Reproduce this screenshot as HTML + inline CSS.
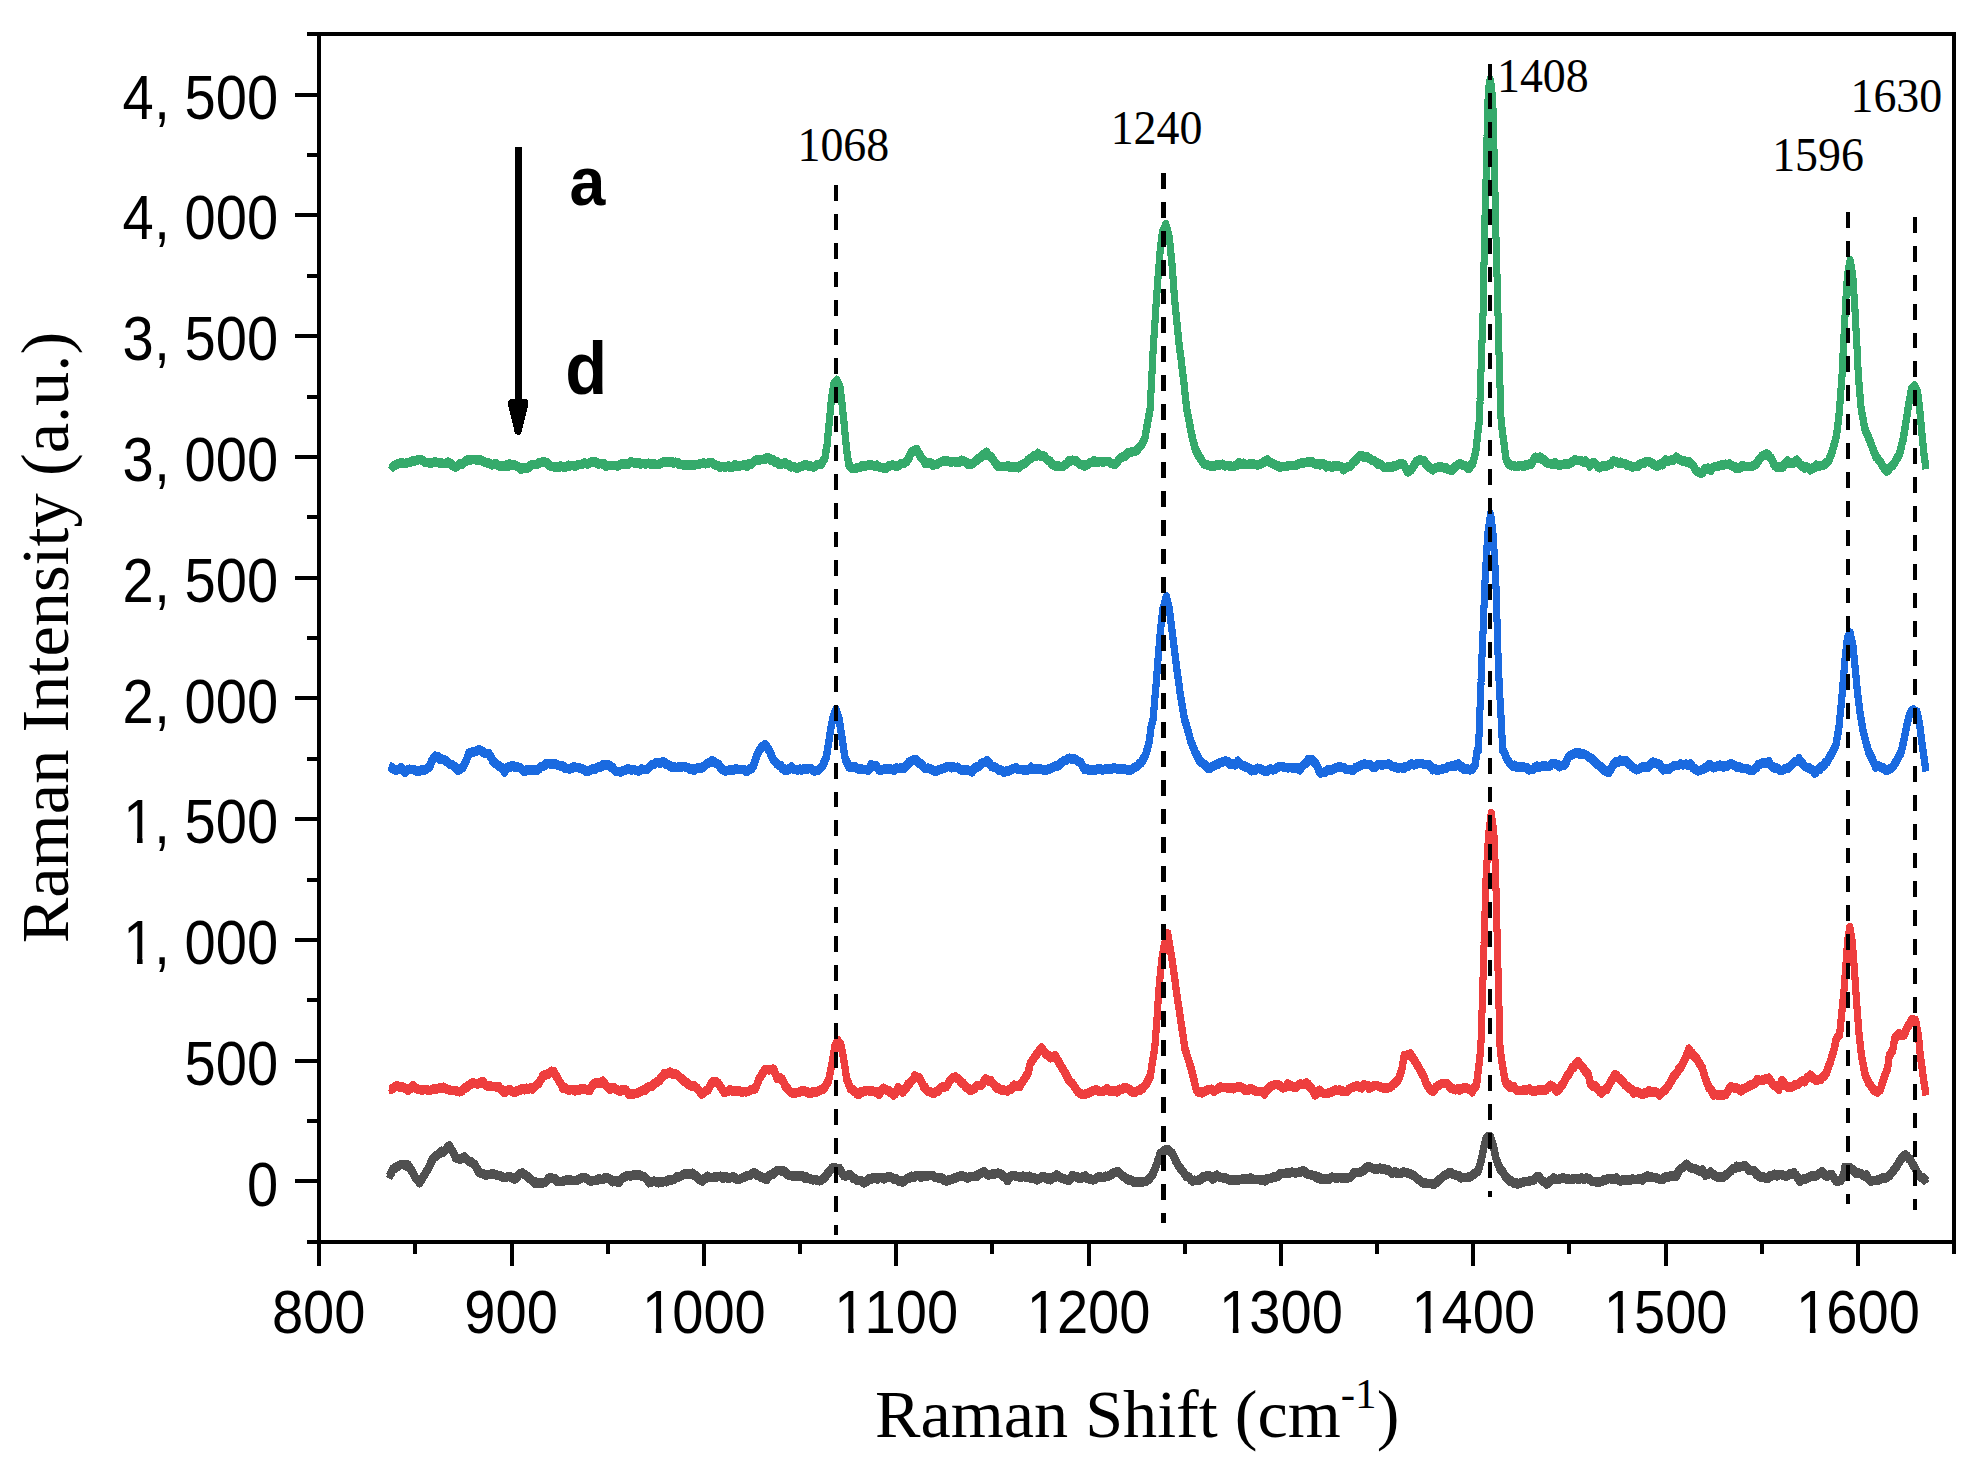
<!DOCTYPE html>
<html lang="en"><head><meta charset="utf-8"><title>Raman spectra</title>
<style>html,body{margin:0;padding:0;background:#fff}body{width:1986px;height:1481px;overflow:hidden}svg{display:block}.sans{font-family:"Liberation Sans",sans-serif}.serif{font-family:"Liberation Serif",serif}</style></head><body>
<svg width="1986" height="1481" viewBox="0 0 1986 1481">
<rect x="0" y="0" width="1986" height="1481" fill="#fff"/>
<path d="M389.1,1175.8 L390.0,1174.0 L391.0,1172.2 L391.9,1170.4 L392.8,1168.1 L394.4,1167.3 L395.9,1166.0 L397.4,1165.2 L398.9,1164.3 L401.1,1163.1 L403.4,1163.1 L405.7,1164.5 L407.9,1163.7 L409.1,1165.5 L410.2,1167.3 L411.3,1169.0 L412.5,1170.8 L413.4,1172.7 L414.4,1174.6 L415.3,1176.5 L416.3,1177.4 L417.9,1178.9 L419.6,1181.4 L420.6,1179.7 L421.7,1178.0 L422.7,1176.3 L423.8,1174.6 L424.9,1172.7 L426.1,1170.8 L427.2,1168.9 L428.3,1167.0 L429.3,1165.0 L430.2,1162.9 L431.2,1160.8 L432.1,1158.6 L433.6,1156.8 L435.1,1154.8 L436.6,1154.9 L438.2,1152.8 L439.9,1152.0 L441.7,1150.0 L443.4,1150.7 L445.5,1148.9 L447.5,1145.9 L449.5,1144.8 L451.0,1147.8 L452.5,1149.7 L453.5,1151.7 L454.5,1153.7 L455.5,1156.4 L457.8,1157.3 L460.1,1157.9 L462.3,1156.8 L464.6,1155.7 L466.1,1157.4 L467.6,1158.5 L469.1,1160.4 L471.1,1160.6 L473.2,1162.2 L475.2,1164.0 L476.1,1165.7 L477.1,1167.4 L478.0,1169.1 L478.9,1171.2 L481.2,1172.2 L483.5,1172.6 L485.7,1173.7 L488.0,1173.3 L490.3,1173.4 L492.5,1172.4 L494.6,1173.0 L496.7,1174.0 L498.8,1174.0 L500.8,1174.9 L503.4,1175.9 L505.9,1176.2 L508.4,1175.1 L510.4,1175.7 L512.4,1176.2 L514.4,1177.9 L516.0,1177.3 L517.5,1175.3 L519.0,1173.2 L520.5,1172.3 L522.5,1171.8 L524.5,1173.1 L526.5,1174.7 L528.0,1175.7 L529.5,1177.1 L531.1,1178.4 L532.8,1179.9 L534.6,1181.7 L536.3,1180.9 L538.4,1182.1 L540.5,1181.9 L542.6,1181.7 L544.7,1181.1 L546.4,1179.7 L548.2,1177.6 L549.9,1176.2 L552.6,1177.1 L555.2,1177.5 L557.0,1180.0 L558.8,1180.2 L560.5,1180.3 L563.2,1179.9 L565.8,1178.8 L568.1,1178.6 L570.3,1178.7 L572.6,1179.1 L574.9,1179.4 L577.1,1178.8 L579.4,1177.9 L581.7,1176.5 L583.9,1176.3 L586.2,1177.0 L588.5,1178.5 L590.7,1179.8 L592.8,1179.4 L594.9,1179.1 L597.0,1178.8 L599.0,1177.4 L601.3,1178.2 L603.6,1177.6 L605.8,1176.0 L608.1,1176.9 L610.4,1177.9 L612.6,1180.4 L614.6,1179.7 L616.7,1179.8 L618.7,1181.2 L620.2,1179.3 L621.7,1177.5 L623.2,1176.4 L624.7,1175.9 L626.7,1174.6 L628.7,1174.3 L630.8,1174.7 L632.8,1174.0 L634.8,1173.6 L636.8,1173.8 L639.1,1173.4 L641.3,1174.6 L643.6,1175.2 L645.4,1176.5 L647.1,1178.1 L648.9,1181.4 L651.4,1180.6 L653.9,1179.9 L656.4,1180.5 L658.4,1181.5 L660.5,1180.4 L662.5,1180.9 L664.5,1180.2 L666.5,1180.5 L668.5,1178.4 L670.5,1179.0 L672.5,1178.5 L674.6,1177.7 L676.8,1175.5 L679.1,1175.5 L681.0,1174.7 L682.8,1173.7 L684.7,1172.7 L686.6,1173.1 L688.6,1172.4 L690.6,1172.6 L692.7,1172.0 L694.4,1174.1 L696.2,1174.5 L697.9,1176.5 L700.2,1178.8 L702.5,1179.6 L704.2,1177.3 L706.0,1177.2 L707.8,1175.0 L710.3,1176.4 L712.8,1176.1 L715.3,1175.6 L717.8,1175.4 L720.4,1175.0 L722.9,1176.9 L725.1,1175.1 L727.4,1176.6 L729.7,1176.8 L731.9,1175.9 L733.8,1175.6 L735.7,1177.4 L737.6,1178.1 L739.5,1178.0 L741.4,1177.0 L743.3,1176.0 L745.2,1175.3 L747.0,1174.3 L749.3,1174.2 L751.6,1172.7 L753.8,1171.3 L755.5,1172.1 L757.2,1174.2 L758.9,1174.4 L760.6,1175.8 L762.6,1176.0 L764.7,1177.5 L766.7,1178.1 L768.2,1175.0 L769.7,1174.1 L771.2,1173.1 L772.7,1173.1 L774.2,1171.4 L776.3,1169.9 L778.4,1169.1 L780.5,1169.5 L782.5,1169.2 L784.2,1170.7 L785.9,1170.9 L787.6,1173.3 L789.3,1174.2 L791.3,1174.1 L793.4,1175.3 L795.4,1174.1 L797.9,1175.3 L800.4,1174.3 L802.9,1174.7 L804.8,1176.7 L806.7,1175.8 L808.6,1177.3 L810.5,1177.5 L812.7,1178.6 L815.0,1178.3 L817.3,1178.9 L819.5,1179.5 L821.1,1179.3 L822.6,1177.4 L824.1,1176.7 L825.6,1175.2 L827.1,1172.4 L828.5,1171.7 L829.8,1169.4 L831.2,1167.8 L832.5,1166.4 L833.9,1166.6 L836.5,1167.0 L839.2,1167.0 L840.3,1168.9 L841.5,1170.8 L842.6,1172.7 L843.7,1174.3 L845.7,1174.6 L847.7,1173.8 L849.8,1173.5 L851.6,1174.8 L853.5,1177.1 L855.4,1177.5 L857.3,1179.2 L859.6,1179.1 L861.8,1179.6 L864.1,1181.5 L866.4,1180.5 L868.6,1177.7 L870.9,1178.0 L873.0,1176.6 L875.1,1176.5 L877.3,1177.9 L879.4,1176.1 L881.5,1176.3 L884.0,1177.5 L886.5,1176.0 L889.0,1175.0 L890.9,1175.8 L892.8,1176.6 L894.7,1178.2 L896.6,1177.6 L898.6,1179.7 L900.6,1179.1 L902.6,1180.8 L904.4,1179.9 L906.3,1177.8 L908.1,1176.9 L909.9,1176.6 L911.7,1175.0 L914.0,1175.9 L916.2,1174.4 L918.5,1174.1 L920.8,1175.9 L923.0,1174.4 L925.3,1174.9 L927.6,1174.6 L929.8,1174.2 L932.3,1174.0 L934.9,1175.9 L937.4,1176.3 L939.3,1177.2 L941.1,1176.5 L943.0,1177.6 L944.9,1179.4 L946.8,1179.7 L948.7,1178.5 L950.6,1178.4 L952.5,1177.9 L954.4,1176.6 L956.3,1176.6 L958.1,1175.5 L960.0,1174.8 L962.5,1174.7 L965.0,1175.2 L967.6,1176.8 L969.8,1175.3 L972.1,1175.3 L974.4,1175.0 L976.6,1175.2 L978.5,1173.2 L980.4,1172.2 L982.3,1171.3 L984.2,1170.4 L986.2,1172.5 L988.2,1173.6 L990.2,1173.4 L992.1,1172.9 L994.0,1172.8 L995.9,1172.3 L997.8,1171.8 L999.8,1172.5 L1001.8,1173.4 L1003.8,1175.3 L1005.7,1176.6 L1007.6,1179.2 L1009.1,1176.7 L1010.6,1175.1 L1012.1,1174.6 L1014.2,1174.1 L1016.3,1175.4 L1018.3,1175.1 L1020.4,1176.1 L1022.7,1174.8 L1025.0,1175.6 L1027.2,1176.3 L1029.5,1175.0 L1031.4,1177.2 L1033.3,1176.1 L1035.2,1177.7 L1037.0,1178.6 L1039.1,1177.7 L1041.1,1176.0 L1043.1,1175.0 L1045.0,1176.3 L1046.9,1177.5 L1048.7,1176.7 L1050.6,1178.4 L1052.6,1175.9 L1054.7,1176.4 L1056.7,1173.7 L1058.6,1174.8 L1060.5,1176.5 L1062.3,1176.9 L1064.2,1177.7 L1066.5,1178.3 L1068.8,1178.9 L1070.6,1177.0 L1072.5,1174.2 L1074.8,1175.4 L1077.1,1175.5 L1079.3,1177.3 L1081.3,1176.7 L1083.4,1175.4 L1085.4,1174.5 L1087.3,1177.0 L1089.2,1177.5 L1091.0,1177.7 L1092.9,1178.5 L1094.9,1178.2 L1097.0,1176.6 L1099.0,1175.6 L1101.2,1176.0 L1103.5,1176.4 L1105.4,1175.0 L1107.3,1175.4 L1109.2,1174.1 L1111.1,1173.5 L1113.1,1171.7 L1115.1,1171.4 L1117.1,1170.1 L1118.9,1171.2 L1120.6,1172.6 L1122.4,1174.9 L1124.1,1175.4 L1125.9,1176.8 L1127.7,1178.6 L1129.7,1178.7 L1131.7,1179.1 L1133.7,1181.0 L1136.2,1180.8 L1138.8,1181.0 L1141.3,1180.5 L1143.5,1180.5 L1145.8,1180.1 L1148.1,1178.6 L1149.6,1177.1 L1151.1,1175.1 L1152.6,1173.1 L1153.4,1171.3 L1154.1,1169.5 L1154.9,1167.6 L1155.6,1165.8 L1156.4,1164.0 L1157.0,1162.1 L1157.6,1160.2 L1158.3,1158.4 L1158.9,1156.5 L1159.5,1154.6 L1160.2,1152.0 L1162.0,1151.3 L1163.9,1149.7 L1166.2,1148.2 L1168.5,1148.5 L1170.3,1150.7 L1172.2,1151.9 L1173.2,1154.0 L1174.1,1156.1 L1175.1,1158.2 L1176.0,1160.2 L1177.1,1162.1 L1178.3,1164.0 L1179.4,1165.9 L1180.5,1167.1 L1182.1,1169.1 L1183.6,1170.8 L1185.1,1173.3 L1186.6,1175.4 L1188.6,1175.4 L1190.6,1178.1 L1192.6,1179.6 L1194.6,1178.9 L1196.7,1179.4 L1198.7,1178.8 L1200.4,1178.5 L1202.2,1175.8 L1204.0,1176.3 L1205.8,1175.2 L1207.7,1174.1 L1210.0,1174.9 L1212.3,1177.7 L1214.5,1176.6 L1216.8,1173.9 L1218.7,1175.6 L1220.6,1176.2 L1222.5,1176.3 L1224.4,1176.8 L1226.2,1176.8 L1228.1,1178.2 L1230.0,1178.8 L1231.9,1178.1 L1234.4,1179.2 L1236.9,1178.7 L1239.5,1178.5 L1241.7,1178.2 L1244.0,1177.2 L1246.3,1178.2 L1248.5,1177.8 L1250.5,1176.6 L1252.5,1178.1 L1254.6,1178.2 L1257.6,1178.1 L1260.1,1178.5 L1262.6,1178.5 L1265.1,1179.6 L1267.0,1177.6 L1268.9,1177.4 L1270.8,1177.3 L1272.7,1175.9 L1274.5,1176.2 L1276.4,1175.2 L1278.3,1174.7 L1280.2,1172.5 L1282.5,1172.3 L1284.7,1172.4 L1287.0,1171.5 L1289.3,1171.7 L1291.8,1170.8 L1294.3,1171.4 L1296.8,1171.4 L1298.8,1170.9 L1300.9,1170.8 L1302.9,1169.4 L1304.6,1170.3 L1306.4,1172.0 L1308.2,1172.9 L1309.9,1173.3 L1311.7,1173.8 L1313.4,1174.5 L1315.3,1174.7 L1317.2,1176.7 L1319.1,1175.9 L1321.0,1177.8 L1323.0,1177.2 L1325.0,1177.9 L1327.0,1177.4 L1329.6,1177.7 L1332.1,1175.8 L1334.6,1176.4 L1337.1,1176.7 L1339.6,1176.3 L1342.1,1176.9 L1344.7,1176.6 L1347.2,1176.9 L1349.7,1175.9 L1351.2,1175.0 L1352.7,1173.2 L1354.2,1171.2 L1356.1,1171.0 L1358.0,1171.4 L1359.9,1170.8 L1361.8,1170.0 L1363.5,1169.1 L1365.3,1167.3 L1367.1,1165.7 L1369.3,1165.6 L1371.6,1166.5 L1373.9,1167.5 L1375.9,1167.9 L1377.9,1167.6 L1379.9,1166.8 L1381.9,1168.1 L1383.9,1167.4 L1386.0,1168.5 L1388.0,1168.6 L1390.0,1170.3 L1392.0,1171.8 L1393.9,1170.8 L1395.8,1170.9 L1397.7,1172.2 L1399.5,1172.4 L1401.6,1171.8 L1403.6,1170.8 L1405.6,1171.3 L1407.9,1171.9 L1410.1,1172.4 L1412.4,1173.8 L1414.1,1174.5 L1415.9,1176.1 L1417.7,1177.7 L1419.2,1178.7 L1420.7,1179.6 L1422.2,1181.4 L1424.2,1181.6 L1426.2,1182.0 L1428.2,1182.4 L1430.9,1182.3 L1433.5,1183.2 L1435.3,1181.7 L1437.1,1180.8 L1438.8,1178.9 L1440.6,1177.5 L1442.3,1175.9 L1444.1,1174.5 L1446.1,1173.3 L1448.1,1172.0 L1450.2,1171.1 L1452.8,1172.7 L1455.4,1173.8 L1457.2,1174.1 L1459.0,1174.2 L1460.7,1176.5 L1463.0,1176.1 L1465.3,1176.4 L1467.5,1175.9 L1469.5,1175.6 L1471.6,1174.8 L1473.6,1172.9 L1475.8,1171.3 L1478.1,1170.1 L1478.7,1167.9 L1479.3,1165.8 L1479.9,1163.7 L1480.5,1161.6 L1481.1,1159.5 L1481.5,1157.6 L1481.9,1155.7 L1482.3,1153.8 L1482.6,1151.9 L1483.0,1150.0 L1483.4,1148.2 L1483.8,1146.3 L1484.1,1144.4 L1484.7,1142.5 L1485.3,1140.6 L1485.8,1138.7 L1486.4,1137.3 L1488.3,1135.4 L1490.2,1135.3 L1490.9,1137.6 L1491.7,1139.8 L1492.4,1142.1 L1493.2,1144.4 L1493.6,1146.3 L1494.1,1148.3 L1494.5,1150.2 L1494.9,1152.1 L1495.4,1154.1 L1495.8,1156.0 L1496.2,1158.0 L1497.0,1159.8 L1497.7,1161.6 L1498.5,1163.4 L1499.2,1165.2 L1500.0,1167.8 L1501.3,1169.2 L1502.6,1170.4 L1504.0,1172.6 L1505.3,1175.1 L1506.8,1176.9 L1508.3,1177.5 L1509.8,1180.1 L1511.7,1179.7 L1513.6,1181.8 L1515.5,1181.2 L1517.4,1182.7 L1519.9,1181.9 L1522.4,1181.2 L1524.9,1180.2 L1527.4,1180.4 L1530.0,1179.4 L1532.5,1179.2 L1534.2,1178.5 L1536.0,1176.1 L1537.8,1175.1 L1539.3,1175.6 L1540.8,1178.0 L1542.3,1179.6 L1543.8,1180.0 L1545.3,1180.9 L1546.8,1182.7 L1548.5,1181.6 L1550.2,1179.5 L1551.9,1178.3 L1553.6,1176.7 L1556.1,1177.8 L1558.6,1178.4 L1561.1,1177.0 L1563.7,1176.6 L1566.2,1177.8 L1568.7,1177.9 L1571.2,1178.2 L1573.7,1177.5 L1576.3,1177.0 L1578.8,1178.1 L1581.3,1176.7 L1583.8,1178.0 L1586.1,1176.7 L1588.3,1177.1 L1589.8,1178.5 L1591.4,1179.5 L1592.9,1180.3 L1595.4,1180.2 L1597.9,1181.2 L1600.4,1180.3 L1602.3,1179.8 L1604.2,1178.4 L1606.1,1178.7 L1608.0,1177.3 L1610.2,1177.4 L1612.5,1177.6 L1614.8,1177.4 L1616.5,1176.4 L1618.3,1178.8 L1620.1,1179.8 L1622.6,1178.5 L1625.1,1178.4 L1627.6,1178.5 L1630.1,1179.0 L1632.6,1177.7 L1635.2,1178.4 L1637.7,1178.2 L1640.2,1177.1 L1642.7,1178.7 L1645.0,1175.7 L1647.3,1174.6 L1649.1,1176.1 L1651.0,1175.2 L1652.9,1176.2 L1654.8,1176.1 L1657.3,1177.0 L1659.8,1178.0 L1662.4,1178.4 L1664.4,1175.9 L1666.4,1175.2 L1668.4,1176.0 L1670.9,1174.4 L1673.4,1174.9 L1676.0,1175.3 L1676.9,1173.5 L1677.8,1171.6 L1678.8,1169.7 L1679.7,1168.3 L1681.4,1167.0 L1683.1,1166.2 L1684.8,1164.7 L1686.5,1163.0 L1688.5,1164.7 L1690.6,1166.5 L1692.6,1167.0 L1694.8,1167.5 L1697.1,1168.4 L1699.7,1169.8 L1702.4,1168.5 L1703.4,1170.3 L1704.4,1172.1 L1705.4,1174.0 L1708.1,1172.7 L1710.7,1170.7 L1712.7,1172.7 L1714.7,1174.2 L1716.7,1175.2 L1719.0,1176.4 L1721.3,1175.3 L1723.5,1175.7 L1725.3,1174.3 L1727.1,1172.8 L1728.8,1171.3 L1730.8,1169.8 L1732.8,1167.3 L1734.9,1167.2 L1736.9,1165.0 L1739.0,1166.0 L1741.1,1165.3 L1743.2,1164.7 L1745.2,1164.6 L1747.2,1166.2 L1749.2,1169.2 L1751.9,1169.2 L1754.5,1169.8 L1756.0,1172.8 L1757.5,1172.7 L1759.0,1175.4 L1760.9,1175.6 L1762.8,1175.4 L1764.7,1176.3 L1766.6,1177.3 L1768.5,1176.9 L1770.4,1174.4 L1772.3,1174.6 L1774.1,1173.0 L1776.7,1174.6 L1779.2,1173.3 L1781.7,1173.4 L1783.7,1174.2 L1785.7,1175.0 L1787.7,1174.2 L1789.7,1172.6 L1791.8,1172.7 L1793.8,1171.4 L1795.0,1173.3 L1796.2,1174.0 L1797.4,1176.1 L1798.6,1177.6 L1799.8,1180.0 L1801.7,1178.6 L1803.6,1177.7 L1805.5,1177.6 L1807.4,1177.0 L1809.3,1175.9 L1811.1,1174.6 L1813.0,1175.3 L1814.9,1174.5 L1816.6,1174.4 L1818.3,1172.8 L1820.0,1171.9 L1821.7,1170.5 L1823.5,1171.6 L1825.2,1173.9 L1827.0,1175.3 L1829.3,1173.5 L1831.7,1173.3 L1832.8,1175.0 L1834.0,1176.7 L1835.1,1178.4 L1836.2,1179.8 L1838.5,1179.7 L1840.8,1179.0 L1842.2,1176.7 L1843.6,1174.5 L1843.9,1172.5 L1844.2,1170.5 L1844.5,1168.5 L1844.8,1166.1 L1847.3,1167.0 L1849.9,1166.5 L1851.8,1168.1 L1853.7,1168.8 L1855.6,1171.9 L1857.5,1171.5 L1859.4,1172.2 L1861.3,1172.5 L1863.8,1174.6 L1866.4,1173.8 L1867.7,1176.4 L1869.1,1178.2 L1870.4,1179.9 L1872.7,1179.3 L1874.9,1179.3 L1877.2,1178.9 L1879.5,1178.4 L1881.8,1176.8 L1884.0,1177.4 L1885.9,1176.1 L1887.8,1175.6 L1889.7,1173.9 L1891.1,1172.2 L1892.6,1170.7 L1894.0,1168.3 L1895.4,1167.1 L1896.4,1165.4 L1897.5,1163.6 L1898.5,1161.9 L1899.5,1160.2 L1900.5,1158.6 L1902.2,1156.2 L1903.9,1154.4 L1905.7,1153.8 L1907.2,1155.0 L1908.7,1157.3 L1910.2,1158.0 L1911.1,1159.7 L1912.0,1161.4 L1912.9,1163.1 L1913.8,1164.8 L1914.8,1166.5 L1915.9,1168.5 L1917.0,1170.5 L1918.2,1172.5 L1919.3,1174.7 L1921.0,1175.9 L1922.7,1176.5 L1924.7,1178.2 L1926.7,1180.7" fill="none" stroke="#505050" stroke-width="7.0" stroke-linejoin="round" stroke-linecap="butt" shape-rendering="crispEdges"/>
<path d="M389.1,1178.4 L390.0,1176.6 L391.0,1174.8 L391.9,1173.0 L392.8,1170.7 L394.4,1169.9 L395.9,1168.6 L397.4,1167.8 L398.9,1166.9 L401.1,1165.7 L403.4,1165.7 L405.7,1167.1 L407.9,1166.3 L409.1,1168.1 L410.2,1169.9 L411.3,1171.6 L412.5,1173.4 L413.4,1175.3 L414.4,1177.2 L415.3,1179.1 L416.3,1180.0 L417.9,1181.5 L419.6,1184.0 L420.6,1182.3 L421.7,1180.6 L422.7,1178.9 L423.8,1177.2 L424.9,1175.3 L426.1,1173.4 L427.2,1171.5 L428.3,1169.6 L429.3,1167.6 L430.2,1165.5 L431.2,1163.4 L432.1,1161.2 L433.6,1159.4 L435.1,1157.4 L436.6,1157.5 L438.2,1155.4 L439.9,1154.6 L441.7,1152.6 L443.4,1153.3 L445.5,1151.5 L447.5,1148.5 L449.5,1147.4 L451.0,1150.4 L452.5,1152.3 L453.5,1154.3 L454.5,1156.3 L455.5,1159.0 L457.8,1159.9 L460.1,1160.5 L462.3,1159.4 L464.6,1158.3 L466.1,1160.0 L467.6,1161.1 L469.1,1163.0 L471.1,1163.2 L473.2,1164.8 L475.2,1166.6 L476.1,1168.3 L477.1,1170.0 L478.0,1171.7 L478.9,1173.8 L481.2,1174.8 L483.5,1175.2 L485.7,1176.3 L488.0,1175.9 L490.3,1176.0 L492.5,1175.0 L494.6,1175.6 L496.7,1176.6 L498.8,1176.6 L500.8,1177.5 L503.4,1178.5 L505.9,1178.8 L508.4,1177.7 L510.4,1178.3 L512.4,1178.8 L514.4,1180.5 L516.0,1179.9 L517.5,1177.9 L519.0,1175.8 L520.5,1174.9 L522.5,1174.4 L524.5,1175.7 L526.5,1177.3 L528.0,1178.3 L529.5,1179.7 L531.1,1181.0 L532.8,1182.5 L534.6,1184.3 L536.3,1183.5 L538.4,1184.7 L540.5,1184.5 L542.6,1184.3 L544.7,1183.7 L546.4,1182.3 L548.2,1180.2 L549.9,1178.8 L552.6,1179.7 L555.2,1180.1 L557.0,1182.6 L558.8,1182.8 L560.5,1182.9 L563.2,1182.5 L565.8,1181.4 L568.1,1181.2 L570.3,1181.3 L572.6,1181.7 L574.9,1182.0 L577.1,1181.4 L579.4,1180.5 L581.7,1179.1 L583.9,1178.9 L586.2,1179.6 L588.5,1181.1 L590.7,1182.4 L592.8,1182.0 L594.9,1181.7 L597.0,1181.4 L599.0,1180.0 L601.3,1180.8 L603.6,1180.2 L605.8,1178.6 L608.1,1179.5 L610.4,1180.5 L612.6,1183.0 L614.6,1182.3 L616.7,1182.4 L618.7,1183.8 L620.2,1181.9 L621.7,1180.1 L623.2,1179.0 L624.7,1178.5 L626.7,1177.2 L628.7,1176.9 L630.8,1177.3 L632.8,1176.6 L634.8,1176.2 L636.8,1176.4 L639.1,1176.0 L641.3,1177.2 L643.6,1177.8 L645.4,1179.1 L647.1,1180.7 L648.9,1184.0 L651.4,1183.2 L653.9,1182.5 L656.4,1183.1 L658.4,1184.1 L660.5,1183.0 L662.5,1183.5 L664.5,1182.8 L666.5,1183.1 L668.5,1181.0 L670.5,1181.6 L672.5,1181.1 L674.6,1180.3 L676.8,1178.1 L679.1,1178.1 L681.0,1177.3 L682.8,1176.3 L684.7,1175.3 L686.6,1175.7 L688.6,1175.0 L690.6,1175.2 L692.7,1174.6 L694.4,1176.7 L696.2,1177.1 L697.9,1179.1 L700.2,1181.4 L702.5,1182.2 L704.2,1179.9 L706.0,1179.8 L707.8,1177.6 L710.3,1179.0 L712.8,1178.7 L715.3,1178.2 L717.8,1178.0 L720.4,1177.6 L722.9,1179.5 L725.1,1177.7 L727.4,1179.2 L729.7,1179.4 L731.9,1178.5 L733.8,1178.2 L735.7,1180.0 L737.6,1180.7 L739.5,1180.6 L741.4,1179.6 L743.3,1178.6 L745.2,1177.9 L747.0,1176.9 L749.3,1176.8 L751.6,1175.3 L753.8,1173.9 L755.5,1174.7 L757.2,1176.8 L758.9,1177.0 L760.6,1178.4 L762.6,1178.6 L764.7,1180.1 L766.7,1180.7 L768.2,1177.6 L769.7,1176.7 L771.2,1175.7 L772.7,1175.7 L774.2,1174.0 L776.3,1172.5 L778.4,1171.7 L780.5,1172.1 L782.5,1171.8 L784.2,1173.3 L785.9,1173.5 L787.6,1175.9 L789.3,1176.8 L791.3,1176.7 L793.4,1177.9 L795.4,1176.7 L797.9,1177.9 L800.4,1176.9 L802.9,1177.3 L804.8,1179.3 L806.7,1178.4 L808.6,1179.9 L810.5,1180.1 L812.7,1181.2 L815.0,1180.9 L817.3,1181.5 L819.5,1182.1 L821.1,1181.9 L822.6,1180.0 L824.1,1179.3 L825.6,1177.8 L827.1,1175.0 L828.5,1174.3 L829.8,1172.0 L831.2,1170.4 L832.5,1169.0 L833.9,1169.2 L836.5,1169.6 L839.2,1169.6 L840.3,1171.5 L841.5,1173.4 L842.6,1175.3 L843.7,1176.9 L845.7,1177.2 L847.7,1176.4 L849.8,1176.1 L851.6,1177.4 L853.5,1179.7 L855.4,1180.1 L857.3,1181.8 L859.6,1181.7 L861.8,1182.2 L864.1,1184.1 L866.4,1183.1 L868.6,1180.3 L870.9,1180.6 L873.0,1179.2 L875.1,1179.1 L877.3,1180.5 L879.4,1178.7 L881.5,1178.9 L884.0,1180.1 L886.5,1178.6 L889.0,1177.6 L890.9,1178.4 L892.8,1179.2 L894.7,1180.8 L896.6,1180.2 L898.6,1182.3 L900.6,1181.7 L902.6,1183.4 L904.4,1182.5 L906.3,1180.4 L908.1,1179.5 L909.9,1179.2 L911.7,1177.6 L914.0,1178.5 L916.2,1177.0 L918.5,1176.7 L920.8,1178.5 L923.0,1177.0 L925.3,1177.5 L927.6,1177.2 L929.8,1176.8 L932.3,1176.6 L934.9,1178.5 L937.4,1178.9 L939.3,1179.8 L941.1,1179.1 L943.0,1180.2 L944.9,1182.0 L946.8,1182.3 L948.7,1181.1 L950.6,1181.0 L952.5,1180.5 L954.4,1179.2 L956.3,1179.2 L958.1,1178.1 L960.0,1177.4 L962.5,1177.3 L965.0,1177.8 L967.6,1179.4 L969.8,1177.9 L972.1,1177.9 L974.4,1177.6 L976.6,1177.8 L978.5,1175.8 L980.4,1174.8 L982.3,1173.9 L984.2,1173.0 L986.2,1175.1 L988.2,1176.2 L990.2,1176.0 L992.1,1175.5 L994.0,1175.4 L995.9,1174.9 L997.8,1174.4 L999.8,1175.1 L1001.8,1176.0 L1003.8,1177.9 L1005.7,1179.2 L1007.6,1181.8 L1009.1,1179.3 L1010.6,1177.7 L1012.1,1177.2 L1014.2,1176.7 L1016.3,1178.0 L1018.3,1177.7 L1020.4,1178.7 L1022.7,1177.4 L1025.0,1178.2 L1027.2,1178.9 L1029.5,1177.6 L1031.4,1179.8 L1033.3,1178.7 L1035.2,1180.3 L1037.0,1181.2 L1039.1,1180.3 L1041.1,1178.6 L1043.1,1177.6 L1045.0,1178.9 L1046.9,1180.1 L1048.7,1179.3 L1050.6,1181.0 L1052.6,1178.5 L1054.7,1179.0 L1056.7,1176.3 L1058.6,1177.4 L1060.5,1179.1 L1062.3,1179.5 L1064.2,1180.3 L1066.5,1180.9 L1068.8,1181.5 L1070.6,1179.6 L1072.5,1176.8 L1074.8,1178.0 L1077.1,1178.1 L1079.3,1179.9 L1081.3,1179.3 L1083.4,1178.0 L1085.4,1177.1 L1087.3,1179.6 L1089.2,1180.1 L1091.0,1180.3 L1092.9,1181.1 L1094.9,1180.8 L1097.0,1179.2 L1099.0,1178.2 L1101.2,1178.6 L1103.5,1179.0 L1105.4,1177.6 L1107.3,1178.0 L1109.2,1176.7 L1111.1,1176.1 L1113.1,1174.3 L1115.1,1174.0 L1117.1,1172.7 L1118.9,1173.8 L1120.6,1175.2 L1122.4,1177.5 L1124.1,1178.0 L1125.9,1179.4 L1127.7,1181.2 L1129.7,1181.3 L1131.7,1181.7 L1133.7,1183.6 L1136.2,1183.4 L1138.8,1183.6 L1141.3,1183.1 L1143.5,1183.1 L1145.8,1182.7 L1148.1,1181.2 L1149.6,1179.7 L1151.1,1177.7 L1152.6,1175.7 L1153.4,1173.9 L1154.1,1172.1 L1154.9,1170.2 L1155.6,1168.4 L1156.4,1166.6 L1157.0,1164.7 L1157.6,1162.8 L1158.3,1161.0 L1158.9,1159.1 L1159.5,1157.2 L1160.2,1154.6 L1162.0,1153.9 L1163.9,1152.3 L1166.2,1150.8 L1168.5,1151.1 L1170.3,1153.3 L1172.2,1154.5 L1173.2,1156.6 L1174.1,1158.7 L1175.1,1160.8 L1176.0,1162.8 L1177.1,1164.7 L1178.3,1166.6 L1179.4,1168.5 L1180.5,1169.7 L1182.1,1171.7 L1183.6,1173.4 L1185.1,1175.9 L1186.6,1178.0 L1188.6,1178.0 L1190.6,1180.7 L1192.6,1182.2 L1194.6,1181.5 L1196.7,1182.0 L1198.7,1181.4 L1200.4,1181.1 L1202.2,1178.4 L1204.0,1178.9 L1205.8,1177.8 L1207.7,1176.7 L1210.0,1177.5 L1212.3,1180.3 L1214.5,1179.2 L1216.8,1176.5 L1218.7,1178.2 L1220.6,1178.8 L1222.5,1178.9 L1224.4,1179.4 L1226.2,1179.4 L1228.1,1180.8 L1230.0,1181.4 L1231.9,1180.7 L1234.4,1181.8 L1236.9,1181.3 L1239.5,1181.1 L1241.7,1180.8 L1244.0,1179.8 L1246.3,1180.8 L1248.5,1180.4 L1250.5,1179.2 L1252.5,1180.7 L1254.6,1180.8 L1257.6,1180.7 L1260.1,1181.1 L1262.6,1181.1 L1265.1,1182.2 L1267.0,1180.2 L1268.9,1180.0 L1270.8,1179.9 L1272.7,1178.5 L1274.5,1178.8 L1276.4,1177.8 L1278.3,1177.3 L1280.2,1175.1 L1282.5,1174.9 L1284.7,1175.0 L1287.0,1174.1 L1289.3,1174.3 L1291.8,1173.4 L1294.3,1174.0 L1296.8,1174.0 L1298.8,1173.5 L1300.9,1173.4 L1302.9,1172.0 L1304.6,1172.9 L1306.4,1174.6 L1308.2,1175.5 L1309.9,1175.9 L1311.7,1176.4 L1313.4,1177.1 L1315.3,1177.3 L1317.2,1179.3 L1319.1,1178.5 L1321.0,1180.4 L1323.0,1179.8 L1325.0,1180.5 L1327.0,1180.0 L1329.6,1180.3 L1332.1,1178.4 L1334.6,1179.0 L1337.1,1179.3 L1339.6,1178.9 L1342.1,1179.5 L1344.7,1179.2 L1347.2,1179.5 L1349.7,1178.5 L1351.2,1177.6 L1352.7,1175.8 L1354.2,1173.8 L1356.1,1173.6 L1358.0,1174.0 L1359.9,1173.4 L1361.8,1172.6 L1363.5,1171.7 L1365.3,1169.9 L1367.1,1168.3 L1369.3,1168.2 L1371.6,1169.1 L1373.9,1170.1 L1375.9,1170.5 L1377.9,1170.2 L1379.9,1169.4 L1381.9,1170.7 L1383.9,1170.0 L1386.0,1171.1 L1388.0,1171.2 L1390.0,1172.9 L1392.0,1174.4 L1393.9,1173.4 L1395.8,1173.5 L1397.7,1174.8 L1399.5,1175.0 L1401.6,1174.4 L1403.6,1173.4 L1405.6,1173.9 L1407.9,1174.5 L1410.1,1175.0 L1412.4,1176.4 L1414.1,1177.1 L1415.9,1178.7 L1417.7,1180.3 L1419.2,1181.3 L1420.7,1182.2 L1422.2,1184.0 L1424.2,1184.2 L1426.2,1184.6 L1428.2,1185.0 L1430.9,1184.9 L1433.5,1185.8 L1435.3,1184.3 L1437.1,1183.4 L1438.8,1181.5 L1440.6,1180.1 L1442.3,1178.5 L1444.1,1177.1 L1446.1,1175.9 L1448.1,1174.6 L1450.2,1173.7 L1452.8,1175.3 L1455.4,1176.4 L1457.2,1176.7 L1459.0,1176.8 L1460.7,1179.1 L1463.0,1178.7 L1465.3,1179.0 L1467.5,1178.5 L1469.5,1178.2 L1471.6,1177.4 L1473.6,1175.5 L1475.8,1173.9 L1478.1,1172.7 L1478.7,1170.5 L1479.3,1168.4 L1479.9,1166.3 L1480.5,1164.2 L1481.1,1162.1 L1481.5,1160.2 L1481.9,1158.3 L1482.3,1156.4 L1482.6,1154.5 L1483.0,1152.6 L1483.4,1150.8 L1483.8,1148.9 L1484.1,1147.0 L1484.7,1145.1 L1485.3,1143.2 L1485.8,1141.3 L1486.4,1139.9 L1488.3,1138.0 L1490.2,1137.9 L1490.9,1140.2 L1491.7,1142.4 L1492.4,1144.7 L1493.2,1147.0 L1493.6,1148.9 L1494.1,1150.9 L1494.5,1152.8 L1494.9,1154.7 L1495.4,1156.7 L1495.8,1158.6 L1496.2,1160.6 L1497.0,1162.4 L1497.7,1164.2 L1498.5,1166.0 L1499.2,1167.8 L1500.0,1170.4 L1501.3,1171.8 L1502.6,1173.0 L1504.0,1175.2 L1505.3,1177.7 L1506.8,1179.5 L1508.3,1180.1 L1509.8,1182.7 L1511.7,1182.3 L1513.6,1184.4 L1515.5,1183.8 L1517.4,1185.3 L1519.9,1184.5 L1522.4,1183.8 L1524.9,1182.8 L1527.4,1183.0 L1530.0,1182.0 L1532.5,1181.8 L1534.2,1181.1 L1536.0,1178.7 L1537.8,1177.7 L1539.3,1178.2 L1540.8,1180.6 L1542.3,1182.2 L1543.8,1182.6 L1545.3,1183.5 L1546.8,1185.3 L1548.5,1184.2 L1550.2,1182.1 L1551.9,1180.9 L1553.6,1179.3 L1556.1,1180.4 L1558.6,1181.0 L1561.1,1179.6 L1563.7,1179.2 L1566.2,1180.4 L1568.7,1180.5 L1571.2,1180.8 L1573.7,1180.1 L1576.3,1179.6 L1578.8,1180.7 L1581.3,1179.3 L1583.8,1180.6 L1586.1,1179.3 L1588.3,1179.7 L1589.8,1181.1 L1591.4,1182.1 L1592.9,1182.9 L1595.4,1182.8 L1597.9,1183.8 L1600.4,1182.9 L1602.3,1182.4 L1604.2,1181.0 L1606.1,1181.3 L1608.0,1179.9 L1610.2,1180.0 L1612.5,1180.2 L1614.8,1180.0 L1616.5,1179.0 L1618.3,1181.4 L1620.1,1182.4 L1622.6,1181.1 L1625.1,1181.0 L1627.6,1181.1 L1630.1,1181.6 L1632.6,1180.3 L1635.2,1181.0 L1637.7,1180.8 L1640.2,1179.7 L1642.7,1181.3 L1645.0,1178.3 L1647.3,1177.2 L1649.1,1178.7 L1651.0,1177.8 L1652.9,1178.8 L1654.8,1178.7 L1657.3,1179.6 L1659.8,1180.6 L1662.4,1181.0 L1664.4,1178.5 L1666.4,1177.8 L1668.4,1178.6 L1670.9,1177.0 L1673.4,1177.5 L1676.0,1177.9 L1676.9,1176.1 L1677.8,1174.2 L1678.8,1172.3 L1679.7,1170.9 L1681.4,1169.6 L1683.1,1168.8 L1684.8,1167.3 L1686.5,1165.6 L1688.5,1167.3 L1690.6,1169.1 L1692.6,1169.6 L1694.8,1170.1 L1697.1,1171.0 L1699.7,1172.4 L1702.4,1171.1 L1703.4,1172.9 L1704.4,1174.7 L1705.4,1176.6 L1708.1,1175.3 L1710.7,1173.3 L1712.7,1175.3 L1714.7,1176.8 L1716.7,1177.8 L1719.0,1179.0 L1721.3,1177.9 L1723.5,1178.3 L1725.3,1176.9 L1727.1,1175.4 L1728.8,1173.9 L1730.8,1172.4 L1732.8,1169.9 L1734.9,1169.8 L1736.9,1167.6 L1739.0,1168.6 L1741.1,1167.9 L1743.2,1167.3 L1745.2,1167.2 L1747.2,1168.8 L1749.2,1171.8 L1751.9,1171.8 L1754.5,1172.4 L1756.0,1175.4 L1757.5,1175.3 L1759.0,1178.0 L1760.9,1178.2 L1762.8,1178.0 L1764.7,1178.9 L1766.6,1179.9 L1768.5,1179.5 L1770.4,1177.0 L1772.3,1177.2 L1774.1,1175.6 L1776.7,1177.2 L1779.2,1175.9 L1781.7,1176.0 L1783.7,1176.8 L1785.7,1177.6 L1787.7,1176.8 L1789.7,1175.2 L1791.8,1175.3 L1793.8,1174.0 L1795.0,1175.9 L1796.2,1176.6 L1797.4,1178.7 L1798.6,1180.2 L1799.8,1182.6 L1801.7,1181.2 L1803.6,1180.3 L1805.5,1180.2 L1807.4,1179.6 L1809.3,1178.5 L1811.1,1177.2 L1813.0,1177.9 L1814.9,1177.1 L1816.6,1177.0 L1818.3,1175.4 L1820.0,1174.5 L1821.7,1173.1 L1823.5,1174.2 L1825.2,1176.5 L1827.0,1177.9 L1829.3,1176.1 L1831.7,1175.9 L1832.8,1177.6 L1834.0,1179.3 L1835.1,1181.0 L1836.2,1182.4 L1838.5,1182.3 L1840.8,1181.6 L1842.2,1179.3 L1843.6,1177.1 L1843.9,1175.1 L1844.2,1173.1 L1844.5,1171.1 L1844.8,1168.7 L1847.3,1169.6 L1849.9,1169.1 L1851.8,1170.7 L1853.7,1171.4 L1855.6,1174.5 L1857.5,1174.1 L1859.4,1174.8 L1861.3,1175.1 L1863.8,1177.2 L1866.4,1176.4 L1867.7,1179.0 L1869.1,1180.8 L1870.4,1182.5 L1872.7,1181.9 L1874.9,1181.9 L1877.2,1181.5 L1879.5,1181.0 L1881.8,1179.4 L1884.0,1180.0 L1885.9,1178.7 L1887.8,1178.2 L1889.7,1176.5 L1891.1,1174.8 L1892.6,1173.3 L1894.0,1170.9 L1895.4,1169.7 L1896.4,1168.0 L1897.5,1166.2 L1898.5,1164.5 L1899.5,1162.8 L1900.5,1161.2 L1902.2,1158.8 L1903.9,1157.0 L1905.7,1156.4 L1907.2,1157.6 L1908.7,1159.9 L1910.2,1160.6 L1911.1,1162.3 L1912.0,1164.0 L1912.9,1165.7 L1913.8,1167.4 L1914.8,1169.1 L1915.9,1171.1 L1917.0,1173.1 L1918.2,1175.1 L1919.3,1177.3 L1921.0,1178.5 L1922.7,1179.1 L1924.7,1180.8 L1926.7,1183.3" fill="none" stroke="#505050" stroke-width="7.0" stroke-linejoin="round" stroke-linecap="butt" shape-rendering="crispEdges"/>
<path d="M389.1,1087.4 L391.1,1087.8 L393.1,1087.3 L395.1,1085.0 L397.6,1084.8 L400.1,1086.1 L402.7,1085.6 L404.4,1086.8 L406.2,1087.3 L407.9,1089.2 L409.7,1087.9 L411.5,1086.6 L413.2,1084.5 L415.5,1086.5 L417.8,1088.0 L419.8,1088.4 L421.8,1088.7 L423.8,1088.3 L425.8,1088.3 L427.8,1088.8 L429.8,1089.2 L431.9,1088.3 L433.9,1087.7 L435.9,1088.1 L437.8,1087.3 L439.7,1086.8 L441.6,1087.3 L443.4,1086.0 L445.5,1087.3 L447.5,1087.9 L449.5,1088.7 L452.0,1089.4 L454.5,1089.2 L457.0,1090.0 L459.7,1090.5 L462.3,1089.3 L464.1,1086.8 L465.9,1086.7 L467.6,1085.0 L469.4,1083.6 L471.1,1082.7 L472.9,1081.2 L475.2,1082.3 L477.4,1082.6 L479.3,1082.4 L481.2,1080.8 L483.2,1080.7 L485.2,1083.4 L487.3,1084.8 L489.9,1084.7 L492.5,1085.2 L494.6,1085.1 L496.6,1086.0 L498.6,1085.2 L500.3,1087.6 L502.1,1088.4 L503.9,1091.2 L505.9,1090.5 L507.9,1088.9 L509.9,1088.3 L511.7,1090.0 L513.4,1090.6 L515.2,1091.2 L517.0,1089.6 L518.7,1088.8 L520.5,1088.6 L522.5,1087.3 L524.5,1088.5 L526.5,1087.0 L528.5,1088.0 L530.6,1086.5 L532.6,1087.6 L534.6,1085.6 L536.6,1083.7 L538.6,1082.1 L539.7,1080.3 L540.9,1078.4 L542.0,1076.5 L543.1,1074.0 L545.2,1073.6 L547.2,1073.4 L549.2,1071.8 L551.5,1070.0 L553.7,1070.1 L554.7,1071.8 L555.6,1073.5 L556.5,1075.2 L557.5,1076.9 L558.5,1078.7 L559.6,1080.5 L560.7,1082.3 L561.7,1084.1 L562.8,1086.7 L564.8,1086.0 L566.8,1087.7 L568.8,1089.2 L570.8,1088.1 L572.8,1088.2 L574.9,1089.7 L576.9,1088.5 L578.9,1088.9 L580.9,1087.3 L583.2,1088.1 L585.4,1087.9 L587.7,1089.1 L590.0,1088.9 L591.0,1086.9 L592.0,1084.9 L593.0,1083.4 L595.3,1081.6 L597.5,1081.7 L600.2,1082.0 L602.8,1079.9 L604.1,1081.5 L605.5,1084.0 L606.8,1084.9 L608.1,1085.8 L610.1,1087.9 L612.1,1086.5 L614.1,1086.5 L616.2,1087.9 L618.2,1089.2 L620.2,1090.2 L622.4,1088.3 L624.7,1088.2 L626.2,1089.0 L627.7,1091.2 L629.2,1093.3 L631.1,1092.8 L633.0,1092.8 L634.9,1092.1 L636.8,1091.9 L638.7,1091.1 L640.6,1090.0 L642.5,1089.0 L644.4,1089.3 L646.2,1087.4 L648.1,1085.9 L650.0,1085.4 L651.9,1085.2 L653.8,1082.3 L655.7,1081.9 L657.6,1080.2 L659.5,1079.2 L661.0,1076.4 L662.5,1076.0 L664.0,1072.6 L666.0,1072.9 L668.0,1072.1 L670.0,1070.9 L672.0,1072.6 L674.0,1072.5 L676.0,1072.9 L678.1,1074.4 L680.1,1076.2 L682.1,1077.6 L684.1,1079.9 L686.1,1080.9 L688.1,1083.1 L690.0,1084.0 L691.9,1085.0 L693.8,1084.4 L695.7,1085.8 L697.2,1086.9 L698.7,1089.1 L700.2,1090.7 L701.7,1092.6 L703.7,1091.4 L705.8,1089.5 L707.8,1088.9 L708.7,1087.2 L709.7,1085.5 L710.6,1083.8 L711.5,1082.0 L713.4,1080.2 L715.3,1080.3 L716.8,1080.9 L718.3,1082.1 L719.8,1084.4 L721.0,1086.1 L722.1,1087.8 L723.2,1089.5 L724.4,1091.1 L726.4,1090.1 L728.4,1090.0 L730.4,1088.4 L732.4,1089.8 L734.5,1089.9 L736.5,1089.4 L738.4,1089.4 L740.2,1090.1 L742.1,1090.8 L744.0,1090.3 L746.0,1090.5 L748.0,1090.3 L750.1,1089.1 L752.7,1087.8 L755.3,1087.4 L756.1,1085.5 L756.9,1083.5 L757.6,1081.5 L758.4,1079.6 L759.1,1077.6 L760.2,1076.0 L761.2,1074.3 L762.3,1072.6 L763.4,1071.0 L764.4,1068.5 L766.7,1068.2 L768.9,1068.5 L771.2,1068.1 L773.5,1067.8 L774.2,1069.6 L775.0,1071.4 L775.7,1073.2 L776.5,1075.0 L777.3,1077.0 L779.5,1076.4 L781.8,1077.6 L782.7,1079.5 L783.7,1081.4 L784.6,1083.3 L785.6,1085.7 L786.9,1086.1 L788.2,1088.3 L789.5,1089.5 L790.8,1091.1 L793.4,1092.0 L795.9,1091.5 L798.4,1091.2 L800.4,1090.2 L802.4,1089.1 L804.4,1089.6 L806.5,1090.2 L808.5,1091.9 L810.5,1092.3 L812.4,1090.4 L814.3,1091.1 L816.1,1090.8 L818.0,1090.1 L820.1,1088.9 L822.1,1087.9 L824.1,1087.4 L825.2,1085.4 L826.3,1083.3 L827.5,1081.2 L828.6,1079.1 L829.0,1077.2 L829.4,1075.3 L829.7,1073.5 L830.1,1071.6 L830.5,1069.7 L830.9,1067.8 L831.3,1065.9 L831.6,1064.0 L832.0,1062.0 L832.3,1060.0 L832.6,1058.0 L833.0,1056.0 L833.3,1053.9 L833.6,1051.9 L834.0,1049.9 L834.3,1047.9 L834.7,1045.9 L835.7,1043.9 L836.7,1041.9 L837.7,1039.0 L839.2,1042.1 L840.7,1042.9 L841.1,1044.8 L841.5,1046.6 L841.8,1048.5 L842.2,1050.4 L842.6,1052.3 L843.0,1054.2 L843.3,1056.1 L843.7,1058.0 L844.0,1059.9 L844.3,1061.9 L844.6,1063.9 L844.9,1065.8 L845.2,1067.8 L845.5,1069.8 L845.8,1071.7 L846.1,1073.7 L846.4,1075.6 L846.7,1077.6 L847.5,1079.6 L848.2,1081.5 L849.0,1083.5 L849.8,1085.5 L850.5,1087.6 L852.2,1088.0 L853.9,1090.0 L855.6,1090.5 L857.3,1092.9 L859.2,1092.7 L861.1,1090.6 L863.0,1090.5 L864.9,1089.7 L867.4,1089.3 L869.9,1089.6 L872.4,1089.8 L874.7,1090.4 L876.9,1090.9 L879.2,1092.9 L880.7,1089.9 L882.2,1088.9 L883.7,1087.0 L885.5,1088.2 L887.3,1089.4 L889.0,1089.1 L890.5,1091.2 L892.1,1092.0 L893.6,1093.8 L895.1,1092.4 L896.6,1089.7 L898.1,1086.5 L900.4,1088.9 L902.6,1090.9 L903.8,1089.7 L905.0,1087.7 L906.3,1086.6 L907.5,1083.4 L908.7,1083.8 L909.9,1081.8 L911.1,1080.1 L912.3,1079.2 L913.5,1077.6 L914.7,1074.5 L917.0,1076.4 L919.2,1076.1 L920.2,1077.9 L921.1,1079.7 L922.0,1081.5 L922.9,1083.4 L923.8,1085.8 L925.3,1086.2 L926.8,1088.9 L928.3,1090.3 L930.3,1090.5 L932.3,1091.6 L934.4,1091.9 L936.4,1089.9 L938.4,1089.9 L940.4,1086.6 L942.4,1085.7 L944.4,1085.9 L946.4,1085.2 L947.6,1083.3 L948.7,1081.4 L949.8,1079.5 L951.0,1078.0 L953.2,1076.5 L955.5,1075.6 L957.0,1077.4 L958.5,1077.8 L960.0,1079.2 L961.5,1081.9 L963.4,1082.2 L965.3,1084.9 L967.0,1086.5 L968.8,1087.2 L970.6,1089.3 L972.6,1088.3 L974.6,1087.2 L976.6,1084.4 L978.9,1084.1 L981.1,1084.4 L982.3,1082.7 L983.4,1081.0 L984.5,1079.3 L985.7,1077.7 L988.3,1079.7 L991.0,1079.6 L992.3,1081.5 L993.6,1082.7 L994.9,1084.3 L996.3,1086.7 L998.3,1086.5 L1000.3,1088.2 L1002.3,1088.9 L1004.8,1089.0 L1007.3,1089.8 L1009.8,1088.1 L1011.4,1087.8 L1012.9,1085.0 L1014.4,1083.9 L1017.0,1085.0 L1019.7,1085.2 L1020.8,1083.3 L1021.9,1081.4 L1023.1,1079.5 L1024.2,1077.9 L1025.5,1075.6 L1026.7,1074.1 L1028.0,1072.3 L1028.4,1070.4 L1028.9,1068.4 L1029.3,1066.4 L1029.8,1064.5 L1030.2,1062.5 L1031.3,1060.8 L1032.4,1059.2 L1033.4,1057.5 L1034.5,1055.9 L1035.5,1054.8 L1037.0,1052.3 L1038.5,1050.5 L1040.1,1048.7 L1041.6,1046.6 L1043.1,1049.3 L1044.6,1050.8 L1046.1,1053.3 L1048.4,1054.2 L1050.6,1056.5 L1052.9,1055.8 L1055.2,1054.2 L1056.3,1056.3 L1057.4,1058.4 L1058.6,1060.4 L1059.7,1062.5 L1060.8,1064.4 L1062.0,1066.3 L1063.1,1068.2 L1064.2,1070.1 L1065.4,1072.1 L1066.5,1074.2 L1067.6,1076.3 L1068.8,1079.0 L1070.3,1080.4 L1071.8,1081.7 L1073.3,1083.7 L1074.4,1085.4 L1075.6,1087.1 L1076.7,1088.8 L1077.8,1090.5 L1079.8,1091.6 L1081.9,1092.9 L1083.9,1093.2 L1085.9,1092.5 L1087.9,1091.9 L1089.9,1091.3 L1092.2,1089.8 L1094.4,1089.1 L1096.3,1088.3 L1098.2,1089.6 L1100.1,1090.2 L1102.0,1090.2 L1104.6,1089.1 L1107.3,1087.5 L1109.9,1089.9 L1112.6,1089.4 L1114.8,1089.7 L1117.1,1090.5 L1119.4,1087.9 L1121.6,1088.4 L1123.6,1086.7 L1125.7,1086.5 L1127.7,1087.1 L1129.7,1088.2 L1131.7,1090.3 L1133.7,1091.2 L1135.7,1090.5 L1137.7,1089.3 L1139.8,1089.0 L1141.3,1087.1 L1142.8,1087.0 L1144.3,1084.8 L1145.8,1083.7 L1146.7,1081.8 L1147.6,1080.0 L1148.5,1078.2 L1149.4,1076.4 L1150.3,1074.6 L1150.6,1072.6 L1150.9,1070.7 L1151.2,1068.7 L1151.5,1066.7 L1151.8,1064.8 L1152.1,1062.8 L1152.4,1060.8 L1152.7,1058.9 L1153.1,1056.9 L1153.4,1055.0 L1153.8,1052.6 L1154.2,1050.1 L1154.7,1047.7 L1154.8,1045.7 L1155.0,1043.7 L1155.2,1041.7 L1155.3,1039.7 L1155.5,1037.7 L1155.6,1035.7 L1155.8,1033.6 L1155.9,1031.6 L1156.1,1029.6 L1156.3,1027.6 L1156.4,1025.6 L1156.6,1023.6 L1156.7,1021.6 L1156.9,1019.5 L1157.0,1017.5 L1157.2,1015.5 L1157.3,1013.5 L1157.4,1011.5 L1157.5,1009.5 L1157.7,1007.5 L1157.8,1005.4 L1157.9,1003.4 L1158.0,1001.4 L1158.2,999.4 L1158.3,997.4 L1158.4,995.4 L1158.6,993.4 L1158.7,991.3 L1158.8,989.3 L1159.0,987.3 L1159.2,985.3 L1159.4,983.3 L1159.6,981.3 L1159.8,979.3 L1159.9,977.2 L1160.1,975.2 L1160.3,973.2 L1160.5,971.2 L1160.7,969.2 L1160.9,967.2 L1161.1,965.2 L1161.3,963.2 L1161.4,961.1 L1161.6,959.1 L1162.0,957.1 L1162.3,955.1 L1162.7,953.1 L1163.0,951.1 L1163.4,949.1 L1163.7,947.0 L1164.1,945.0 L1164.5,943.0 L1165.1,940.9 L1165.7,938.8 L1166.4,936.7 L1167.0,934.6 L1167.7,932.4 L1168.0,934.4 L1168.3,936.3 L1168.7,938.3 L1169.0,940.2 L1169.3,942.1 L1169.7,944.1 L1170.0,946.0 L1170.4,948.2 L1170.7,950.4 L1171.1,952.6 L1171.5,954.8 L1171.8,956.9 L1172.2,959.1 L1172.5,961.1 L1172.8,963.2 L1173.0,965.2 L1173.3,967.2 L1173.6,969.2 L1173.9,971.2 L1174.1,973.2 L1174.4,975.2 L1174.7,977.2 L1175.0,979.3 L1175.2,981.3 L1175.5,983.3 L1175.8,985.3 L1176.1,987.3 L1176.3,989.3 L1176.6,991.3 L1176.9,993.4 L1177.2,995.4 L1177.5,997.4 L1177.8,999.4 L1178.1,1001.4 L1178.4,1003.4 L1178.7,1005.4 L1179.0,1007.5 L1179.3,1009.5 L1179.6,1011.5 L1179.9,1013.5 L1180.2,1015.5 L1180.5,1017.5 L1180.8,1019.5 L1181.1,1021.6 L1181.4,1023.6 L1181.7,1025.6 L1182.0,1027.6 L1182.3,1029.6 L1182.6,1031.6 L1182.9,1033.6 L1183.2,1035.7 L1183.5,1037.7 L1183.8,1039.7 L1184.1,1041.7 L1184.4,1043.7 L1184.7,1045.7 L1185.0,1047.7 L1185.6,1049.7 L1186.2,1051.6 L1186.8,1053.5 L1187.4,1055.5 L1188.1,1057.4 L1188.7,1059.3 L1189.3,1061.2 L1189.9,1063.2 L1190.5,1065.1 L1191.1,1067.0 L1191.6,1069.1 L1192.1,1071.1 L1192.6,1073.1 L1193.1,1075.1 L1193.6,1077.1 L1194.1,1079.1 L1194.6,1081.1 L1195.0,1083.1 L1195.5,1085.0 L1196.0,1087.0 L1196.4,1088.5 L1198.2,1090.8 L1199.9,1090.4 L1201.7,1091.6 L1203.6,1090.9 L1205.5,1089.5 L1207.4,1088.6 L1209.2,1088.3 L1211.5,1088.0 L1213.8,1090.2 L1215.8,1088.8 L1217.8,1087.8 L1219.8,1085.8 L1222.3,1086.1 L1224.9,1086.1 L1227.4,1086.6 L1229.4,1086.4 L1231.4,1086.6 L1233.4,1087.4 L1235.4,1086.1 L1237.4,1085.9 L1239.5,1085.3 L1241.5,1086.0 L1243.5,1087.0 L1245.5,1089.2 L1247.5,1089.2 L1249.5,1087.4 L1251.5,1087.7 L1253.5,1088.5 L1255.5,1089.7 L1257.6,1090.1 L1259.8,1090.1 L1262.1,1090.6 L1264.4,1092.6 L1265.7,1090.1 L1267.0,1088.0 L1268.3,1088.2 L1269.6,1085.3 L1271.5,1084.8 L1273.4,1084.0 L1275.3,1083.2 L1277.2,1083.3 L1279.2,1083.8 L1281.2,1085.3 L1283.2,1086.5 L1285.5,1085.8 L1287.8,1082.7 L1289.8,1084.8 L1291.8,1084.9 L1293.8,1086.0 L1295.8,1085.9 L1297.8,1084.4 L1299.8,1082.8 L1302.1,1083.1 L1304.4,1083.0 L1306.6,1081.7 L1308.2,1083.1 L1309.7,1085.5 L1311.2,1086.7 L1312.4,1088.7 L1313.7,1090.7 L1315.0,1093.6 L1317.2,1092.1 L1319.5,1089.1 L1321.5,1090.9 L1323.5,1092.0 L1325.5,1092.1 L1327.5,1092.1 L1329.6,1091.5 L1331.6,1090.7 L1333.6,1089.9 L1335.6,1088.8 L1337.6,1089.3 L1339.5,1088.6 L1341.4,1089.9 L1343.3,1089.9 L1345.2,1090.3 L1347.2,1090.1 L1349.2,1087.7 L1351.2,1086.6 L1353.2,1085.9 L1355.2,1085.1 L1357.3,1084.6 L1359.5,1085.6 L1361.8,1086.6 L1363.3,1083.6 L1364.8,1083.8 L1366.3,1084.5 L1367.8,1084.5 L1369.3,1087.1 L1372.0,1085.3 L1374.6,1084.4 L1376.9,1084.1 L1379.2,1085.4 L1381.4,1086.0 L1383.7,1086.9 L1386.0,1086.8 L1388.0,1086.6 L1390.0,1086.1 L1392.0,1084.6 L1393.5,1082.7 L1395.0,1082.1 L1396.5,1079.9 L1398.0,1079.1 L1398.8,1077.0 L1399.5,1074.9 L1400.3,1072.8 L1401.1,1070.7 L1401.8,1068.5 L1402.1,1066.6 L1402.5,1064.7 L1402.8,1062.7 L1403.1,1060.8 L1403.4,1058.8 L1403.8,1056.9 L1404.1,1054.6 L1406.1,1054.5 L1408.1,1053.4 L1410.1,1052.7 L1411.3,1054.4 L1412.4,1056.1 L1413.5,1057.8 L1414.7,1059.5 L1415.8,1061.4 L1416.9,1063.3 L1418.1,1065.2 L1419.2,1067.0 L1420.3,1069.1 L1421.5,1071.2 L1422.6,1073.3 L1423.7,1075.3 L1424.5,1077.3 L1425.2,1079.3 L1426.0,1081.2 L1426.7,1083.2 L1427.5,1084.2 L1429.3,1087.0 L1431.0,1089.2 L1432.8,1090.1 L1434.3,1088.9 L1435.8,1085.8 L1437.3,1085.2 L1438.8,1083.9 L1440.8,1082.8 L1442.8,1082.0 L1444.9,1082.0 L1446.4,1082.0 L1447.9,1083.0 L1449.4,1085.4 L1451.4,1087.1 L1453.4,1087.8 L1455.4,1088.5 L1457.5,1087.8 L1459.5,1089.0 L1461.5,1087.3 L1464.1,1086.5 L1466.8,1086.5 L1468.5,1088.0 L1470.3,1088.2 L1472.1,1090.5 L1473.6,1086.9 L1475.1,1085.9 L1476.6,1083.7 L1476.8,1081.7 L1477.0,1079.7 L1477.3,1077.8 L1477.5,1075.8 L1477.7,1073.8 L1477.9,1071.9 L1478.2,1069.9 L1478.4,1067.9 L1478.6,1066.0 L1478.9,1064.0 L1479.1,1062.1 L1479.3,1060.1 L1479.6,1058.2 L1479.8,1056.3 L1480.0,1054.3 L1480.3,1052.4 L1480.5,1050.5 L1480.8,1048.5 L1480.8,1046.6 L1480.9,1044.7 L1480.9,1042.8 L1481.0,1040.8 L1481.1,1038.9 L1481.1,1037.0 L1481.2,1035.1 L1481.2,1033.2 L1481.3,1031.2 L1481.4,1029.3 L1481.4,1027.4 L1481.5,1025.5 L1481.5,1023.6 L1481.6,1021.6 L1481.7,1019.7 L1481.7,1017.8 L1481.8,1015.9 L1481.8,1013.9 L1481.9,1012.0 L1482.0,1010.1 L1482.0,1008.2 L1482.1,1006.3 L1482.1,1004.3 L1482.2,1002.4 L1482.2,1000.5 L1482.3,998.6 L1482.4,996.7 L1482.4,994.7 L1482.5,992.8 L1482.5,990.9 L1482.6,989.0 L1482.7,987.1 L1482.7,985.1 L1482.8,983.2 L1482.8,981.3 L1482.9,979.4 L1483.0,977.4 L1483.0,975.5 L1483.1,973.6 L1483.1,971.7 L1483.2,969.8 L1483.3,967.8 L1483.3,965.9 L1483.4,964.0 L1483.4,962.1 L1483.5,960.2 L1483.6,958.2 L1483.6,956.3 L1483.7,954.4 L1483.7,952.5 L1483.8,950.5 L1483.9,948.6 L1483.9,946.7 L1484.0,944.8 L1484.0,942.8 L1484.1,940.9 L1484.2,938.9 L1484.2,937.0 L1484.3,935.0 L1484.3,933.1 L1484.4,931.1 L1484.4,929.1 L1484.5,927.2 L1484.6,925.2 L1484.6,923.3 L1484.7,921.3 L1484.7,919.4 L1484.8,917.4 L1484.9,915.5 L1484.9,913.5 L1485.0,911.6 L1485.0,909.6 L1485.1,907.7 L1485.1,905.7 L1485.2,903.8 L1485.3,901.8 L1485.3,899.9 L1485.4,897.9 L1485.4,896.0 L1485.5,894.0 L1485.6,892.1 L1485.6,890.1 L1485.7,888.2 L1485.7,886.2 L1485.8,884.3 L1485.8,882.3 L1485.9,880.4 L1486.0,878.4 L1486.0,876.5 L1486.1,874.5 L1486.3,872.5 L1486.4,870.5 L1486.5,868.5 L1486.6,866.5 L1486.7,864.5 L1486.9,862.5 L1487.0,860.5 L1487.1,858.5 L1487.2,856.5 L1487.3,854.5 L1487.5,852.5 L1487.6,850.5 L1487.7,848.6 L1487.8,846.6 L1487.9,844.6 L1488.1,842.6 L1488.2,840.6 L1488.3,838.6 L1488.4,836.6 L1488.5,834.6 L1488.7,832.6 L1488.9,830.6 L1489.2,828.6 L1489.4,826.5 L1489.7,824.5 L1490.0,822.5 L1490.2,820.5 L1490.5,818.5 L1490.8,816.4 L1491.0,814.4 L1491.3,812.4 L1491.6,814.4 L1491.8,816.4 L1492.1,818.5 L1492.3,820.5 L1492.6,822.5 L1492.9,824.5 L1493.1,826.5 L1493.4,828.6 L1493.7,830.6 L1493.9,832.6 L1494.0,834.6 L1494.1,836.6 L1494.2,838.6 L1494.2,840.6 L1494.3,842.6 L1494.4,844.6 L1494.5,846.6 L1494.6,848.6 L1494.6,850.5 L1494.7,852.5 L1494.8,854.5 L1494.9,856.5 L1495.0,858.5 L1495.0,860.5 L1495.1,862.5 L1495.2,864.5 L1495.3,866.5 L1495.4,868.5 L1495.4,870.5 L1495.5,872.5 L1495.6,874.5 L1495.7,876.5 L1495.7,878.4 L1495.8,880.4 L1495.8,882.3 L1495.9,884.3 L1495.9,886.2 L1496.0,888.2 L1496.0,890.1 L1496.1,892.1 L1496.1,894.0 L1496.2,896.0 L1496.2,897.9 L1496.3,899.9 L1496.3,901.8 L1496.4,903.8 L1496.4,905.7 L1496.5,907.7 L1496.5,909.6 L1496.6,911.6 L1496.6,913.5 L1496.7,915.5 L1496.7,917.4 L1496.8,919.4 L1496.8,921.3 L1496.9,923.3 L1496.9,925.2 L1496.9,927.2 L1497.0,929.1 L1497.0,931.1 L1497.1,933.1 L1497.1,935.0 L1497.2,937.0 L1497.2,938.9 L1497.3,940.9 L1497.3,942.8 L1497.4,944.8 L1497.4,946.7 L1497.5,948.6 L1497.5,950.5 L1497.6,952.5 L1497.6,954.4 L1497.7,956.3 L1497.7,958.2 L1497.8,960.2 L1497.8,962.1 L1497.9,964.0 L1497.9,965.9 L1498.0,967.8 L1498.0,969.8 L1498.1,971.7 L1498.1,973.6 L1498.2,975.5 L1498.2,977.4 L1498.3,979.4 L1498.3,981.3 L1498.4,983.2 L1498.4,985.1 L1498.5,987.1 L1498.5,989.0 L1498.6,990.9 L1498.6,992.8 L1498.7,994.7 L1498.7,996.7 L1498.8,998.6 L1498.8,1000.5 L1498.9,1002.4 L1498.9,1004.3 L1499.0,1006.3 L1499.0,1008.2 L1499.1,1010.1 L1499.1,1012.0 L1499.2,1013.9 L1499.2,1015.9 L1499.3,1017.8 L1499.3,1019.7 L1499.4,1021.6 L1499.4,1023.6 L1499.5,1025.5 L1499.5,1027.4 L1499.6,1029.3 L1499.6,1031.2 L1499.7,1033.2 L1499.7,1035.1 L1499.8,1037.0 L1499.8,1038.9 L1499.9,1040.8 L1499.9,1042.8 L1500.0,1044.7 L1500.0,1046.6 L1500.1,1048.5 L1500.4,1050.6 L1500.7,1052.6 L1501.1,1054.7 L1501.4,1056.8 L1501.7,1058.8 L1502.0,1060.9 L1502.4,1062.9 L1502.7,1065.0 L1503.0,1067.0 L1503.3,1069.0 L1503.7,1070.9 L1504.0,1072.9 L1504.3,1074.8 L1504.6,1076.7 L1505.0,1078.7 L1505.3,1080.7 L1506.8,1083.0 L1508.3,1082.8 L1509.8,1085.8 L1511.7,1086.0 L1513.6,1085.3 L1515.5,1087.8 L1517.4,1089.2 L1519.9,1089.4 L1522.4,1089.0 L1524.9,1088.6 L1527.2,1088.6 L1529.5,1087.7 L1531.7,1089.2 L1534.0,1090.3 L1536.0,1089.2 L1538.0,1088.9 L1540.0,1088.6 L1542.0,1088.5 L1544.0,1088.6 L1546.0,1088.7 L1547.6,1086.4 L1549.1,1085.8 L1550.6,1084.1 L1552.6,1085.4 L1554.6,1086.7 L1556.6,1089.9 L1558.1,1088.5 L1559.6,1087.0 L1561.1,1084.3 L1562.7,1083.7 L1563.6,1081.8 L1564.5,1080.0 L1565.4,1078.2 L1566.3,1076.4 L1567.2,1074.4 L1568.5,1073.1 L1569.8,1071.5 L1571.2,1068.3 L1572.5,1066.0 L1573.8,1066.1 L1575.1,1063.8 L1576.4,1062.1 L1577.8,1060.3 L1579.1,1062.0 L1580.4,1063.5 L1581.7,1065.0 L1583.1,1066.5 L1584.4,1068.6 L1585.7,1070.7 L1587.0,1071.2 L1588.3,1073.1 L1588.8,1075.2 L1589.2,1077.3 L1589.7,1079.4 L1590.2,1081.5 L1590.6,1083.0 L1593.2,1085.0 L1595.9,1084.8 L1597.2,1087.0 L1598.5,1088.6 L1599.9,1090.4 L1601.2,1091.6 L1602.9,1089.8 L1604.7,1088.5 L1606.5,1088.2 L1607.4,1086.5 L1608.4,1084.8 L1609.3,1083.1 L1610.2,1081.4 L1611.4,1079.5 L1612.5,1077.6 L1613.6,1075.7 L1614.8,1073.2 L1616.5,1074.3 L1618.3,1076.5 L1620.1,1077.3 L1621.6,1079.6 L1623.1,1080.2 L1624.6,1083.1 L1626.1,1084.4 L1627.6,1085.2 L1629.1,1087.5 L1630.6,1087.5 L1632.1,1088.8 L1633.7,1091.8 L1635.9,1090.3 L1638.2,1090.9 L1640.5,1092.3 L1642.7,1093.1 L1644.7,1091.4 L1646.7,1091.8 L1648.8,1089.5 L1650.8,1090.6 L1652.8,1091.2 L1654.8,1090.5 L1657.1,1091.2 L1659.3,1093.7 L1660.8,1091.9 L1662.4,1090.8 L1663.9,1089.7 L1665.4,1088.3 L1666.9,1086.1 L1668.4,1084.4 L1669.5,1082.5 L1670.7,1080.6 L1671.8,1078.7 L1672.9,1076.4 L1674.1,1074.2 L1675.2,1073.7 L1676.3,1071.6 L1677.5,1070.9 L1679.0,1067.1 L1680.5,1066.6 L1682.0,1064.0 L1682.9,1062.1 L1683.9,1060.2 L1684.8,1058.4 L1685.8,1056.5 L1686.5,1054.4 L1687.3,1052.3 L1688.0,1050.2 L1688.8,1047.9 L1690.3,1050.9 L1691.8,1051.6 L1693.3,1053.8 L1694.8,1056.2 L1696.3,1056.6 L1697.9,1059.5 L1699.0,1061.4 L1700.1,1063.3 L1701.3,1065.2 L1702.4,1067.0 L1703.0,1069.2 L1703.6,1071.3 L1704.2,1073.4 L1704.8,1075.5 L1705.4,1077.6 L1706.2,1079.4 L1706.9,1081.2 L1707.7,1083.1 L1708.4,1084.9 L1709.2,1086.8 L1710.7,1087.7 L1712.2,1090.4 L1713.7,1093.7 L1715.7,1093.3 L1717.7,1093.7 L1719.8,1093.4 L1721.8,1094.1 L1723.8,1093.8 L1725.8,1092.9 L1727.3,1090.9 L1728.8,1087.9 L1730.3,1085.7 L1732.3,1085.8 L1734.4,1086.6 L1736.4,1086.6 L1738.6,1088.0 L1740.9,1089.7 L1743.5,1087.2 L1746.2,1086.5 L1748.0,1085.7 L1749.7,1083.9 L1751.5,1083.8 L1753.5,1083.0 L1755.5,1081.4 L1757.5,1078.3 L1759.5,1079.2 L1761.6,1079.0 L1763.6,1078.7 L1766.2,1077.4 L1768.9,1076.9 L1770.0,1078.6 L1771.1,1080.3 L1772.3,1082.0 L1773.4,1083.7 L1775.1,1084.2 L1776.9,1086.2 L1778.7,1088.2 L1779.4,1085.9 L1780.2,1083.7 L1780.9,1081.4 L1781.7,1079.5 L1783.2,1080.5 L1784.7,1084.0 L1786.2,1084.2 L1788.2,1086.1 L1790.3,1085.3 L1792.3,1085.5 L1794.3,1083.7 L1796.3,1083.5 L1798.3,1082.9 L1800.3,1080.8 L1802.3,1079.9 L1804.4,1080.5 L1805.9,1078.1 L1807.4,1076.4 L1808.9,1075.9 L1810.4,1074.0 L1811.9,1075.5 L1813.4,1077.2 L1814.9,1078.3 L1816.9,1079.3 L1819.0,1078.2 L1821.0,1077.9 L1822.3,1075.7 L1823.6,1075.1 L1824.9,1074.0 L1826.3,1071.6 L1826.9,1069.7 L1827.6,1067.8 L1828.3,1066.0 L1829.0,1064.1 L1829.7,1062.3 L1830.4,1060.4 L1830.9,1058.5 L1831.5,1056.6 L1832.1,1054.7 L1832.7,1052.8 L1833.3,1050.9 L1833.9,1049.1 L1834.3,1046.9 L1834.8,1044.8 L1835.2,1042.7 L1835.6,1040.5 L1836.0,1038.7 L1837.2,1036.0 L1838.4,1035.0 L1839.6,1033.5 L1839.8,1031.5 L1840.0,1029.6 L1840.2,1027.6 L1840.3,1025.7 L1840.5,1023.8 L1840.7,1021.8 L1840.9,1019.9 L1841.1,1018.0 L1841.3,1016.0 L1841.5,1014.1 L1841.7,1012.2 L1841.9,1010.2 L1842.1,1008.3 L1842.3,1006.4 L1842.5,1004.4 L1842.7,1002.5 L1842.9,1000.6 L1843.1,998.6 L1843.2,996.7 L1843.4,994.8 L1843.6,992.8 L1843.8,990.9 L1844.0,988.9 L1844.1,986.8 L1844.3,984.8 L1844.4,982.8 L1844.6,980.8 L1844.7,978.7 L1844.9,976.7 L1845.0,974.7 L1845.2,972.7 L1845.3,970.6 L1845.5,968.6 L1845.7,966.6 L1845.8,964.6 L1846.0,962.5 L1846.1,960.5 L1846.3,958.5 L1846.4,956.5 L1846.6,954.5 L1846.7,952.5 L1846.9,950.5 L1847.0,948.5 L1847.2,946.5 L1847.3,944.4 L1847.5,942.4 L1847.6,940.4 L1847.8,938.4 L1848.1,936.4 L1848.5,934.4 L1848.8,932.4 L1849.1,930.4 L1849.5,928.4 L1849.8,926.4 L1850.2,928.5 L1850.5,930.6 L1850.9,932.7 L1851.2,934.9 L1851.6,937.0 L1852.0,939.1 L1852.3,941.3 L1852.5,943.3 L1852.6,945.3 L1852.8,947.3 L1852.9,949.4 L1853.1,951.4 L1853.3,953.4 L1853.4,955.4 L1853.6,957.5 L1853.7,959.5 L1853.9,961.5 L1854.0,963.5 L1854.2,965.6 L1854.3,967.6 L1854.5,969.6 L1854.6,971.6 L1854.7,973.5 L1854.9,975.5 L1855.0,977.4 L1855.1,979.4 L1855.3,981.3 L1855.4,983.3 L1855.5,985.2 L1855.7,987.2 L1855.8,989.1 L1855.9,991.1 L1856.1,993.0 L1856.2,995.0 L1856.3,996.9 L1856.5,998.9 L1856.6,1000.8 L1856.7,1002.9 L1856.9,1004.9 L1857.1,1006.9 L1857.2,1008.9 L1857.4,1011.0 L1857.5,1013.0 L1857.7,1015.0 L1857.8,1017.0 L1858.0,1019.1 L1858.1,1021.1 L1858.3,1023.1 L1858.4,1025.1 L1858.6,1027.2 L1858.7,1029.2 L1858.9,1031.2 L1859.2,1033.1 L1859.4,1035.1 L1859.6,1037.1 L1859.8,1039.0 L1860.0,1041.0 L1860.3,1042.9 L1860.5,1044.9 L1860.7,1046.9 L1860.9,1048.8 L1861.1,1050.8 L1861.3,1052.8 L1861.6,1054.7 L1862.0,1056.8 L1862.3,1058.8 L1862.7,1060.9 L1863.1,1062.9 L1863.5,1065.0 L1863.9,1067.0 L1864.3,1069.1 L1864.7,1071.1 L1865.1,1073.2 L1866.0,1075.2 L1866.8,1077.1 L1867.7,1079.1 L1868.5,1081.1 L1869.4,1082.7 L1870.5,1083.8 L1871.7,1085.8 L1872.9,1087.6 L1875.0,1089.6 L1877.2,1090.8 L1880.4,1088.1 L1881.1,1086.1 L1881.7,1084.0 L1882.3,1082.0 L1883.0,1080.0 L1883.6,1078.0 L1884.3,1076.0 L1885.0,1074.0 L1885.7,1072.0 L1886.4,1070.0 L1887.1,1068.1 L1887.8,1066.1 L1888.1,1063.8 L1888.4,1061.5 L1888.7,1059.3 L1888.9,1057.0 L1889.2,1054.7 L1890.4,1052.8 L1891.6,1050.9 L1892.8,1049.1 L1893.1,1046.9 L1893.5,1044.8 L1893.8,1042.7 L1894.2,1040.5 L1894.5,1038.4 L1894.9,1036.5 L1897.0,1034.8 L1899.1,1032.5 L1901.6,1034.0 L1904.1,1033.5 L1905.0,1031.5 L1905.8,1029.5 L1906.7,1027.5 L1907.5,1025.5 L1908.4,1024.4 L1910.1,1021.8 L1911.9,1018.4 L1915.5,1019.3 L1915.9,1021.3 L1916.3,1023.3 L1916.7,1025.3 L1917.1,1027.4 L1917.5,1029.4 L1917.9,1031.4 L1918.3,1033.5 L1918.5,1035.4 L1918.7,1037.3 L1918.9,1039.3 L1919.1,1041.2 L1919.3,1043.1 L1919.5,1045.1 L1919.7,1047.0 L1919.8,1048.9 L1920.0,1050.9 L1920.2,1052.8 L1920.4,1054.7 L1920.7,1056.7 L1920.9,1058.6 L1921.2,1060.5 L1921.5,1062.5 L1921.7,1064.4 L1922.0,1066.3 L1922.2,1068.3 L1922.5,1070.2 L1922.7,1072.1 L1923.0,1074.1 L1923.3,1076.0 L1923.6,1078.1 L1923.9,1080.3 L1924.2,1082.4 L1924.5,1084.5 L1924.9,1086.6 L1925.2,1088.8 L1925.5,1090.9 L1925.8,1093.0" fill="none" stroke="#ee3e3e" stroke-width="7.0" stroke-linejoin="round" stroke-linecap="butt" shape-rendering="crispEdges"/>
<path d="M389.1,1090.0 L391.1,1090.4 L393.1,1089.9 L395.1,1087.6 L397.6,1087.4 L400.1,1088.7 L402.7,1088.2 L404.4,1089.4 L406.2,1089.9 L407.9,1091.8 L409.7,1090.5 L411.5,1089.2 L413.2,1087.1 L415.5,1089.1 L417.8,1090.6 L419.8,1091.0 L421.8,1091.3 L423.8,1090.9 L425.8,1090.9 L427.8,1091.4 L429.8,1091.8 L431.9,1090.9 L433.9,1090.3 L435.9,1090.7 L437.8,1089.9 L439.7,1089.4 L441.6,1089.9 L443.4,1088.6 L445.5,1089.9 L447.5,1090.5 L449.5,1091.3 L452.0,1092.0 L454.5,1091.8 L457.0,1092.6 L459.7,1093.1 L462.3,1091.9 L464.1,1089.4 L465.9,1089.3 L467.6,1087.6 L469.4,1086.2 L471.1,1085.3 L472.9,1083.8 L475.2,1084.9 L477.4,1085.2 L479.3,1085.0 L481.2,1083.4 L483.2,1083.3 L485.2,1086.0 L487.3,1087.4 L489.9,1087.3 L492.5,1087.8 L494.6,1087.7 L496.6,1088.6 L498.6,1087.8 L500.3,1090.2 L502.1,1091.0 L503.9,1093.8 L505.9,1093.1 L507.9,1091.5 L509.9,1090.9 L511.7,1092.6 L513.4,1093.2 L515.2,1093.8 L517.0,1092.2 L518.7,1091.4 L520.5,1091.2 L522.5,1089.9 L524.5,1091.1 L526.5,1089.6 L528.5,1090.6 L530.6,1089.1 L532.6,1090.2 L534.6,1088.2 L536.6,1086.3 L538.6,1084.7 L539.7,1082.9 L540.9,1081.0 L542.0,1079.1 L543.1,1076.6 L545.2,1076.2 L547.2,1076.0 L549.2,1074.4 L551.5,1072.6 L553.7,1072.7 L554.7,1074.4 L555.6,1076.1 L556.5,1077.8 L557.5,1079.5 L558.5,1081.3 L559.6,1083.1 L560.7,1084.9 L561.7,1086.7 L562.8,1089.3 L564.8,1088.6 L566.8,1090.3 L568.8,1091.8 L570.8,1090.7 L572.8,1090.8 L574.9,1092.3 L576.9,1091.1 L578.9,1091.5 L580.9,1089.9 L583.2,1090.7 L585.4,1090.5 L587.7,1091.7 L590.0,1091.5 L591.0,1089.5 L592.0,1087.5 L593.0,1086.0 L595.3,1084.2 L597.5,1084.3 L600.2,1084.6 L602.8,1082.5 L604.1,1084.1 L605.5,1086.6 L606.8,1087.5 L608.1,1088.4 L610.1,1090.5 L612.1,1089.1 L614.1,1089.1 L616.2,1090.5 L618.2,1091.8 L620.2,1092.8 L622.4,1090.9 L624.7,1090.8 L626.2,1091.6 L627.7,1093.8 L629.2,1095.9 L631.1,1095.4 L633.0,1095.4 L634.9,1094.7 L636.8,1094.5 L638.7,1093.7 L640.6,1092.6 L642.5,1091.6 L644.4,1091.9 L646.2,1090.0 L648.1,1088.5 L650.0,1088.0 L651.9,1087.8 L653.8,1084.9 L655.7,1084.5 L657.6,1082.8 L659.5,1081.8 L661.0,1079.0 L662.5,1078.6 L664.0,1075.2 L666.0,1075.5 L668.0,1074.7 L670.0,1073.5 L672.0,1075.2 L674.0,1075.1 L676.0,1075.5 L678.1,1077.0 L680.1,1078.8 L682.1,1080.2 L684.1,1082.5 L686.1,1083.5 L688.1,1085.7 L690.0,1086.6 L691.9,1087.6 L693.8,1087.0 L695.7,1088.4 L697.2,1089.5 L698.7,1091.7 L700.2,1093.3 L701.7,1095.2 L703.7,1094.0 L705.8,1092.1 L707.8,1091.5 L708.7,1089.8 L709.7,1088.1 L710.6,1086.4 L711.5,1084.6 L713.4,1082.8 L715.3,1082.9 L716.8,1083.5 L718.3,1084.7 L719.8,1087.0 L721.0,1088.7 L722.1,1090.4 L723.2,1092.1 L724.4,1093.7 L726.4,1092.7 L728.4,1092.6 L730.4,1091.0 L732.4,1092.4 L734.5,1092.5 L736.5,1092.0 L738.4,1092.0 L740.2,1092.7 L742.1,1093.4 L744.0,1092.9 L746.0,1093.1 L748.0,1092.9 L750.1,1091.7 L752.7,1090.4 L755.3,1090.0 L756.1,1088.1 L756.9,1086.1 L757.6,1084.1 L758.4,1082.2 L759.1,1080.2 L760.2,1078.6 L761.2,1076.9 L762.3,1075.2 L763.4,1073.6 L764.4,1071.1 L766.7,1070.8 L768.9,1071.1 L771.2,1070.7 L773.5,1070.4 L774.2,1072.2 L775.0,1074.0 L775.7,1075.8 L776.5,1077.6 L777.3,1079.6 L779.5,1079.0 L781.8,1080.2 L782.7,1082.1 L783.7,1084.0 L784.6,1085.9 L785.6,1088.3 L786.9,1088.7 L788.2,1090.9 L789.5,1092.1 L790.8,1093.7 L793.4,1094.6 L795.9,1094.1 L798.4,1093.8 L800.4,1092.8 L802.4,1091.7 L804.4,1092.2 L806.5,1092.8 L808.5,1094.5 L810.5,1094.9 L812.4,1093.0 L814.3,1093.7 L816.1,1093.4 L818.0,1092.7 L820.1,1091.5 L822.1,1090.5 L824.1,1090.0 L825.2,1088.0 L826.3,1085.9 L827.5,1083.8 L828.6,1081.7 L829.0,1079.8 L829.4,1077.9 L829.7,1076.1 L830.1,1074.2 L830.5,1072.3 L830.9,1070.4 L831.3,1068.5 L831.6,1066.6 L832.0,1064.6 L832.3,1062.6 L832.6,1060.6 L833.0,1058.6 L833.3,1056.5 L833.6,1054.5 L834.0,1052.5 L834.3,1050.5 L834.7,1048.5 L835.7,1046.5 L836.7,1044.5 L837.7,1041.6 L839.2,1044.7 L840.7,1045.5 L841.1,1047.4 L841.5,1049.2 L841.8,1051.1 L842.2,1053.0 L842.6,1054.9 L843.0,1056.8 L843.3,1058.7 L843.7,1060.6 L844.0,1062.5 L844.3,1064.5 L844.6,1066.5 L844.9,1068.4 L845.2,1070.4 L845.5,1072.4 L845.8,1074.3 L846.1,1076.3 L846.4,1078.2 L846.7,1080.2 L847.5,1082.2 L848.2,1084.1 L849.0,1086.1 L849.8,1088.1 L850.5,1090.2 L852.2,1090.6 L853.9,1092.6 L855.6,1093.1 L857.3,1095.5 L859.2,1095.3 L861.1,1093.2 L863.0,1093.1 L864.9,1092.3 L867.4,1091.9 L869.9,1092.2 L872.4,1092.4 L874.7,1093.0 L876.9,1093.5 L879.2,1095.5 L880.7,1092.5 L882.2,1091.5 L883.7,1089.6 L885.5,1090.8 L887.3,1092.0 L889.0,1091.7 L890.5,1093.8 L892.1,1094.6 L893.6,1096.4 L895.1,1095.0 L896.6,1092.3 L898.1,1089.1 L900.4,1091.5 L902.6,1093.5 L903.8,1092.3 L905.0,1090.3 L906.3,1089.2 L907.5,1086.0 L908.7,1086.4 L909.9,1084.4 L911.1,1082.7 L912.3,1081.8 L913.5,1080.2 L914.7,1077.1 L917.0,1079.0 L919.2,1078.7 L920.2,1080.5 L921.1,1082.3 L922.0,1084.1 L922.9,1086.0 L923.8,1088.4 L925.3,1088.8 L926.8,1091.5 L928.3,1092.9 L930.3,1093.1 L932.3,1094.2 L934.4,1094.5 L936.4,1092.5 L938.4,1092.5 L940.4,1089.2 L942.4,1088.3 L944.4,1088.5 L946.4,1087.8 L947.6,1085.9 L948.7,1084.0 L949.8,1082.1 L951.0,1080.6 L953.2,1079.1 L955.5,1078.2 L957.0,1080.0 L958.5,1080.4 L960.0,1081.8 L961.5,1084.5 L963.4,1084.8 L965.3,1087.5 L967.0,1089.1 L968.8,1089.8 L970.6,1091.9 L972.6,1090.9 L974.6,1089.8 L976.6,1087.0 L978.9,1086.7 L981.1,1087.0 L982.3,1085.3 L983.4,1083.6 L984.5,1081.9 L985.7,1080.3 L988.3,1082.3 L991.0,1082.2 L992.3,1084.1 L993.6,1085.3 L994.9,1086.9 L996.3,1089.3 L998.3,1089.1 L1000.3,1090.8 L1002.3,1091.5 L1004.8,1091.6 L1007.3,1092.4 L1009.8,1090.7 L1011.4,1090.4 L1012.9,1087.6 L1014.4,1086.5 L1017.0,1087.6 L1019.7,1087.8 L1020.8,1085.9 L1021.9,1084.0 L1023.1,1082.1 L1024.2,1080.5 L1025.5,1078.2 L1026.7,1076.7 L1028.0,1074.9 L1028.4,1073.0 L1028.9,1071.0 L1029.3,1069.0 L1029.8,1067.1 L1030.2,1065.1 L1031.3,1063.4 L1032.4,1061.8 L1033.4,1060.1 L1034.5,1058.5 L1035.5,1057.4 L1037.0,1054.9 L1038.5,1053.1 L1040.1,1051.3 L1041.6,1049.2 L1043.1,1051.9 L1044.6,1053.4 L1046.1,1055.9 L1048.4,1056.8 L1050.6,1059.1 L1052.9,1058.4 L1055.2,1056.8 L1056.3,1058.9 L1057.4,1061.0 L1058.6,1063.0 L1059.7,1065.1 L1060.8,1067.0 L1062.0,1068.9 L1063.1,1070.8 L1064.2,1072.7 L1065.4,1074.7 L1066.5,1076.8 L1067.6,1078.9 L1068.8,1081.6 L1070.3,1083.0 L1071.8,1084.3 L1073.3,1086.3 L1074.4,1088.0 L1075.6,1089.7 L1076.7,1091.4 L1077.8,1093.1 L1079.8,1094.2 L1081.9,1095.5 L1083.9,1095.8 L1085.9,1095.1 L1087.9,1094.5 L1089.9,1093.9 L1092.2,1092.4 L1094.4,1091.7 L1096.3,1090.9 L1098.2,1092.2 L1100.1,1092.8 L1102.0,1092.8 L1104.6,1091.7 L1107.3,1090.1 L1109.9,1092.5 L1112.6,1092.0 L1114.8,1092.3 L1117.1,1093.1 L1119.4,1090.5 L1121.6,1091.0 L1123.6,1089.3 L1125.7,1089.1 L1127.7,1089.7 L1129.7,1090.8 L1131.7,1092.9 L1133.7,1093.8 L1135.7,1093.1 L1137.7,1091.9 L1139.8,1091.6 L1141.3,1089.7 L1142.8,1089.6 L1144.3,1087.4 L1145.8,1086.3 L1146.7,1084.4 L1147.6,1082.6 L1148.5,1080.8 L1149.4,1079.0 L1150.3,1077.2 L1150.6,1075.2 L1150.9,1073.3 L1151.2,1071.3 L1151.5,1069.3 L1151.8,1067.4 L1152.1,1065.4 L1152.4,1063.4 L1152.7,1061.5 L1153.1,1059.5 L1153.4,1057.6 L1153.8,1055.2 L1154.2,1052.7 L1154.7,1050.3 L1154.8,1048.3 L1155.0,1046.3 L1155.2,1044.3 L1155.3,1042.3 L1155.5,1040.3 L1155.6,1038.3 L1155.8,1036.2 L1155.9,1034.2 L1156.1,1032.2 L1156.3,1030.2 L1156.4,1028.2 L1156.6,1026.2 L1156.7,1024.2 L1156.9,1022.1 L1157.0,1020.1 L1157.2,1018.1 L1157.3,1016.1 L1157.4,1014.1 L1157.5,1012.1 L1157.7,1010.1 L1157.8,1008.0 L1157.9,1006.0 L1158.0,1004.0 L1158.2,1002.0 L1158.3,1000.0 L1158.4,998.0 L1158.6,996.0 L1158.7,993.9 L1158.8,991.9 L1159.0,989.9 L1159.2,987.9 L1159.4,985.9 L1159.6,983.9 L1159.8,981.9 L1159.9,979.8 L1160.1,977.8 L1160.3,975.8 L1160.5,973.8 L1160.7,971.8 L1160.9,969.8 L1161.1,967.8 L1161.3,965.8 L1161.4,963.7 L1161.6,961.7 L1162.0,959.7 L1162.3,957.7 L1162.7,955.7 L1163.0,953.7 L1163.4,951.7 L1163.7,949.6 L1164.1,947.6 L1164.5,945.6 L1165.1,943.5 L1165.7,941.4 L1166.4,939.3 L1167.0,937.2 L1167.7,935.0 L1168.0,937.0 L1168.3,938.9 L1168.7,940.9 L1169.0,942.8 L1169.3,944.7 L1169.7,946.7 L1170.0,948.6 L1170.4,950.8 L1170.7,953.0 L1171.1,955.2 L1171.5,957.4 L1171.8,959.5 L1172.2,961.7 L1172.5,963.7 L1172.8,965.8 L1173.0,967.8 L1173.3,969.8 L1173.6,971.8 L1173.9,973.8 L1174.1,975.8 L1174.4,977.8 L1174.7,979.8 L1175.0,981.9 L1175.2,983.9 L1175.5,985.9 L1175.8,987.9 L1176.1,989.9 L1176.3,991.9 L1176.6,993.9 L1176.9,996.0 L1177.2,998.0 L1177.5,1000.0 L1177.8,1002.0 L1178.1,1004.0 L1178.4,1006.0 L1178.7,1008.0 L1179.0,1010.1 L1179.3,1012.1 L1179.6,1014.1 L1179.9,1016.1 L1180.2,1018.1 L1180.5,1020.1 L1180.8,1022.1 L1181.1,1024.2 L1181.4,1026.2 L1181.7,1028.2 L1182.0,1030.2 L1182.3,1032.2 L1182.6,1034.2 L1182.9,1036.2 L1183.2,1038.3 L1183.5,1040.3 L1183.8,1042.3 L1184.1,1044.3 L1184.4,1046.3 L1184.7,1048.3 L1185.0,1050.3 L1185.6,1052.3 L1186.2,1054.2 L1186.8,1056.1 L1187.4,1058.1 L1188.1,1060.0 L1188.7,1061.9 L1189.3,1063.8 L1189.9,1065.8 L1190.5,1067.7 L1191.1,1069.6 L1191.6,1071.7 L1192.1,1073.7 L1192.6,1075.7 L1193.1,1077.7 L1193.6,1079.7 L1194.1,1081.7 L1194.6,1083.7 L1195.0,1085.7 L1195.5,1087.6 L1196.0,1089.6 L1196.4,1091.1 L1198.2,1093.4 L1199.9,1093.0 L1201.7,1094.2 L1203.6,1093.5 L1205.5,1092.1 L1207.4,1091.2 L1209.2,1090.9 L1211.5,1090.6 L1213.8,1092.8 L1215.8,1091.4 L1217.8,1090.4 L1219.8,1088.4 L1222.3,1088.7 L1224.9,1088.7 L1227.4,1089.2 L1229.4,1089.0 L1231.4,1089.2 L1233.4,1090.0 L1235.4,1088.7 L1237.4,1088.5 L1239.5,1087.9 L1241.5,1088.6 L1243.5,1089.6 L1245.5,1091.8 L1247.5,1091.8 L1249.5,1090.0 L1251.5,1090.3 L1253.5,1091.1 L1255.5,1092.3 L1257.6,1092.7 L1259.8,1092.7 L1262.1,1093.2 L1264.4,1095.2 L1265.7,1092.7 L1267.0,1090.6 L1268.3,1090.8 L1269.6,1087.9 L1271.5,1087.4 L1273.4,1086.6 L1275.3,1085.8 L1277.2,1085.9 L1279.2,1086.4 L1281.2,1087.9 L1283.2,1089.1 L1285.5,1088.4 L1287.8,1085.3 L1289.8,1087.4 L1291.8,1087.5 L1293.8,1088.6 L1295.8,1088.5 L1297.8,1087.0 L1299.8,1085.4 L1302.1,1085.7 L1304.4,1085.6 L1306.6,1084.3 L1308.2,1085.7 L1309.7,1088.1 L1311.2,1089.3 L1312.4,1091.3 L1313.7,1093.3 L1315.0,1096.2 L1317.2,1094.7 L1319.5,1091.7 L1321.5,1093.5 L1323.5,1094.6 L1325.5,1094.7 L1327.5,1094.7 L1329.6,1094.1 L1331.6,1093.3 L1333.6,1092.5 L1335.6,1091.4 L1337.6,1091.9 L1339.5,1091.2 L1341.4,1092.5 L1343.3,1092.5 L1345.2,1092.9 L1347.2,1092.7 L1349.2,1090.3 L1351.2,1089.2 L1353.2,1088.5 L1355.2,1087.7 L1357.3,1087.2 L1359.5,1088.2 L1361.8,1089.2 L1363.3,1086.2 L1364.8,1086.4 L1366.3,1087.1 L1367.8,1087.1 L1369.3,1089.7 L1372.0,1087.9 L1374.6,1087.0 L1376.9,1086.7 L1379.2,1088.0 L1381.4,1088.6 L1383.7,1089.5 L1386.0,1089.4 L1388.0,1089.2 L1390.0,1088.7 L1392.0,1087.2 L1393.5,1085.3 L1395.0,1084.7 L1396.5,1082.5 L1398.0,1081.7 L1398.8,1079.6 L1399.5,1077.5 L1400.3,1075.4 L1401.1,1073.3 L1401.8,1071.1 L1402.1,1069.2 L1402.5,1067.3 L1402.8,1065.3 L1403.1,1063.4 L1403.4,1061.4 L1403.8,1059.5 L1404.1,1057.2 L1406.1,1057.1 L1408.1,1056.0 L1410.1,1055.3 L1411.3,1057.0 L1412.4,1058.7 L1413.5,1060.4 L1414.7,1062.1 L1415.8,1064.0 L1416.9,1065.9 L1418.1,1067.8 L1419.2,1069.6 L1420.3,1071.7 L1421.5,1073.8 L1422.6,1075.9 L1423.7,1077.9 L1424.5,1079.9 L1425.2,1081.9 L1426.0,1083.8 L1426.7,1085.8 L1427.5,1086.8 L1429.3,1089.6 L1431.0,1091.8 L1432.8,1092.7 L1434.3,1091.5 L1435.8,1088.4 L1437.3,1087.8 L1438.8,1086.5 L1440.8,1085.4 L1442.8,1084.6 L1444.9,1084.6 L1446.4,1084.6 L1447.9,1085.6 L1449.4,1088.0 L1451.4,1089.7 L1453.4,1090.4 L1455.4,1091.1 L1457.5,1090.4 L1459.5,1091.6 L1461.5,1089.9 L1464.1,1089.1 L1466.8,1089.1 L1468.5,1090.6 L1470.3,1090.8 L1472.1,1093.1 L1473.6,1089.5 L1475.1,1088.5 L1476.6,1086.3 L1476.8,1084.3 L1477.0,1082.3 L1477.3,1080.4 L1477.5,1078.4 L1477.7,1076.4 L1477.9,1074.5 L1478.2,1072.5 L1478.4,1070.5 L1478.6,1068.6 L1478.9,1066.6 L1479.1,1064.7 L1479.3,1062.7 L1479.6,1060.8 L1479.8,1058.9 L1480.0,1056.9 L1480.3,1055.0 L1480.5,1053.1 L1480.8,1051.1 L1480.8,1049.2 L1480.9,1047.3 L1480.9,1045.4 L1481.0,1043.4 L1481.1,1041.5 L1481.1,1039.6 L1481.2,1037.7 L1481.2,1035.8 L1481.3,1033.8 L1481.4,1031.9 L1481.4,1030.0 L1481.5,1028.1 L1481.5,1026.2 L1481.6,1024.2 L1481.7,1022.3 L1481.7,1020.4 L1481.8,1018.5 L1481.8,1016.5 L1481.9,1014.6 L1482.0,1012.7 L1482.0,1010.8 L1482.1,1008.9 L1482.1,1006.9 L1482.2,1005.0 L1482.2,1003.1 L1482.3,1001.2 L1482.4,999.3 L1482.4,997.3 L1482.5,995.4 L1482.5,993.5 L1482.6,991.6 L1482.7,989.7 L1482.7,987.7 L1482.8,985.8 L1482.8,983.9 L1482.9,982.0 L1483.0,980.0 L1483.0,978.1 L1483.1,976.2 L1483.1,974.3 L1483.2,972.4 L1483.3,970.4 L1483.3,968.5 L1483.4,966.6 L1483.4,964.7 L1483.5,962.8 L1483.6,960.8 L1483.6,958.9 L1483.7,957.0 L1483.7,955.1 L1483.8,953.1 L1483.9,951.2 L1483.9,949.3 L1484.0,947.4 L1484.0,945.4 L1484.1,943.5 L1484.2,941.5 L1484.2,939.6 L1484.3,937.6 L1484.3,935.7 L1484.4,933.7 L1484.4,931.7 L1484.5,929.8 L1484.6,927.8 L1484.6,925.9 L1484.7,923.9 L1484.7,922.0 L1484.8,920.0 L1484.9,918.1 L1484.9,916.1 L1485.0,914.2 L1485.0,912.2 L1485.1,910.3 L1485.1,908.3 L1485.2,906.4 L1485.3,904.4 L1485.3,902.5 L1485.4,900.5 L1485.4,898.6 L1485.5,896.6 L1485.6,894.7 L1485.6,892.7 L1485.7,890.8 L1485.7,888.8 L1485.8,886.9 L1485.8,884.9 L1485.9,883.0 L1486.0,881.0 L1486.0,879.1 L1486.1,877.1 L1486.3,875.1 L1486.4,873.1 L1486.5,871.1 L1486.6,869.1 L1486.7,867.1 L1486.9,865.1 L1487.0,863.1 L1487.1,861.1 L1487.2,859.1 L1487.3,857.1 L1487.5,855.1 L1487.6,853.1 L1487.7,851.2 L1487.8,849.2 L1487.9,847.2 L1488.1,845.2 L1488.2,843.2 L1488.3,841.2 L1488.4,839.2 L1488.5,837.2 L1488.7,835.2 L1488.9,833.2 L1489.2,831.2 L1489.4,829.1 L1489.7,827.1 L1490.0,825.1 L1490.2,823.1 L1490.5,821.1 L1490.8,819.0 L1491.0,817.0 L1491.3,815.0 L1491.6,817.0 L1491.8,819.0 L1492.1,821.1 L1492.3,823.1 L1492.6,825.1 L1492.9,827.1 L1493.1,829.1 L1493.4,831.2 L1493.7,833.2 L1493.9,835.2 L1494.0,837.2 L1494.1,839.2 L1494.2,841.2 L1494.2,843.2 L1494.3,845.2 L1494.4,847.2 L1494.5,849.2 L1494.6,851.2 L1494.6,853.1 L1494.7,855.1 L1494.8,857.1 L1494.9,859.1 L1495.0,861.1 L1495.0,863.1 L1495.1,865.1 L1495.2,867.1 L1495.3,869.1 L1495.4,871.1 L1495.4,873.1 L1495.5,875.1 L1495.6,877.1 L1495.7,879.1 L1495.7,881.0 L1495.8,883.0 L1495.8,884.9 L1495.9,886.9 L1495.9,888.8 L1496.0,890.8 L1496.0,892.7 L1496.1,894.7 L1496.1,896.6 L1496.2,898.6 L1496.2,900.5 L1496.3,902.5 L1496.3,904.4 L1496.4,906.4 L1496.4,908.3 L1496.5,910.3 L1496.5,912.2 L1496.6,914.2 L1496.6,916.1 L1496.7,918.1 L1496.7,920.0 L1496.8,922.0 L1496.8,923.9 L1496.9,925.9 L1496.9,927.8 L1496.9,929.8 L1497.0,931.7 L1497.0,933.7 L1497.1,935.7 L1497.1,937.6 L1497.2,939.6 L1497.2,941.5 L1497.3,943.5 L1497.3,945.4 L1497.4,947.4 L1497.4,949.3 L1497.5,951.2 L1497.5,953.1 L1497.6,955.1 L1497.6,957.0 L1497.7,958.9 L1497.7,960.8 L1497.8,962.8 L1497.8,964.7 L1497.9,966.6 L1497.9,968.5 L1498.0,970.4 L1498.0,972.4 L1498.1,974.3 L1498.1,976.2 L1498.2,978.1 L1498.2,980.0 L1498.3,982.0 L1498.3,983.9 L1498.4,985.8 L1498.4,987.7 L1498.5,989.7 L1498.5,991.6 L1498.6,993.5 L1498.6,995.4 L1498.7,997.3 L1498.7,999.3 L1498.8,1001.2 L1498.8,1003.1 L1498.9,1005.0 L1498.9,1006.9 L1499.0,1008.9 L1499.0,1010.8 L1499.1,1012.7 L1499.1,1014.6 L1499.2,1016.5 L1499.2,1018.5 L1499.3,1020.4 L1499.3,1022.3 L1499.4,1024.2 L1499.4,1026.2 L1499.5,1028.1 L1499.5,1030.0 L1499.6,1031.9 L1499.6,1033.8 L1499.7,1035.8 L1499.7,1037.7 L1499.8,1039.6 L1499.8,1041.5 L1499.9,1043.4 L1499.9,1045.4 L1500.0,1047.3 L1500.0,1049.2 L1500.1,1051.1 L1500.4,1053.2 L1500.7,1055.2 L1501.1,1057.3 L1501.4,1059.4 L1501.7,1061.4 L1502.0,1063.5 L1502.4,1065.5 L1502.7,1067.6 L1503.0,1069.6 L1503.3,1071.6 L1503.7,1073.5 L1504.0,1075.5 L1504.3,1077.4 L1504.6,1079.3 L1505.0,1081.3 L1505.3,1083.3 L1506.8,1085.6 L1508.3,1085.4 L1509.8,1088.4 L1511.7,1088.6 L1513.6,1087.9 L1515.5,1090.4 L1517.4,1091.8 L1519.9,1092.0 L1522.4,1091.6 L1524.9,1091.2 L1527.2,1091.2 L1529.5,1090.3 L1531.7,1091.8 L1534.0,1092.9 L1536.0,1091.8 L1538.0,1091.5 L1540.0,1091.2 L1542.0,1091.1 L1544.0,1091.2 L1546.0,1091.3 L1547.6,1089.0 L1549.1,1088.4 L1550.6,1086.7 L1552.6,1088.0 L1554.6,1089.3 L1556.6,1092.5 L1558.1,1091.1 L1559.6,1089.6 L1561.1,1086.9 L1562.7,1086.3 L1563.6,1084.4 L1564.5,1082.6 L1565.4,1080.8 L1566.3,1079.0 L1567.2,1077.0 L1568.5,1075.7 L1569.8,1074.1 L1571.2,1070.9 L1572.5,1068.6 L1573.8,1068.7 L1575.1,1066.4 L1576.4,1064.7 L1577.8,1062.9 L1579.1,1064.6 L1580.4,1066.1 L1581.7,1067.6 L1583.1,1069.1 L1584.4,1071.2 L1585.7,1073.3 L1587.0,1073.8 L1588.3,1075.7 L1588.8,1077.8 L1589.2,1079.9 L1589.7,1082.0 L1590.2,1084.1 L1590.6,1085.6 L1593.2,1087.6 L1595.9,1087.4 L1597.2,1089.6 L1598.5,1091.2 L1599.9,1093.0 L1601.2,1094.2 L1602.9,1092.4 L1604.7,1091.1 L1606.5,1090.8 L1607.4,1089.1 L1608.4,1087.4 L1609.3,1085.7 L1610.2,1084.0 L1611.4,1082.1 L1612.5,1080.2 L1613.6,1078.3 L1614.8,1075.8 L1616.5,1076.9 L1618.3,1079.1 L1620.1,1079.9 L1621.6,1082.2 L1623.1,1082.8 L1624.6,1085.7 L1626.1,1087.0 L1627.6,1087.8 L1629.1,1090.1 L1630.6,1090.1 L1632.1,1091.4 L1633.7,1094.4 L1635.9,1092.9 L1638.2,1093.5 L1640.5,1094.9 L1642.7,1095.7 L1644.7,1094.0 L1646.7,1094.4 L1648.8,1092.1 L1650.8,1093.2 L1652.8,1093.8 L1654.8,1093.1 L1657.1,1093.8 L1659.3,1096.3 L1660.8,1094.5 L1662.4,1093.4 L1663.9,1092.3 L1665.4,1090.9 L1666.9,1088.7 L1668.4,1087.0 L1669.5,1085.1 L1670.7,1083.2 L1671.8,1081.3 L1672.9,1079.0 L1674.1,1076.8 L1675.2,1076.3 L1676.3,1074.2 L1677.5,1073.5 L1679.0,1069.7 L1680.5,1069.2 L1682.0,1066.6 L1682.9,1064.7 L1683.9,1062.8 L1684.8,1061.0 L1685.8,1059.1 L1686.5,1057.0 L1687.3,1054.9 L1688.0,1052.8 L1688.8,1050.5 L1690.3,1053.5 L1691.8,1054.2 L1693.3,1056.4 L1694.8,1058.8 L1696.3,1059.2 L1697.9,1062.1 L1699.0,1064.0 L1700.1,1065.9 L1701.3,1067.8 L1702.4,1069.6 L1703.0,1071.8 L1703.6,1073.9 L1704.2,1076.0 L1704.8,1078.1 L1705.4,1080.2 L1706.2,1082.0 L1706.9,1083.8 L1707.7,1085.7 L1708.4,1087.5 L1709.2,1089.4 L1710.7,1090.3 L1712.2,1093.0 L1713.7,1096.3 L1715.7,1095.9 L1717.7,1096.3 L1719.8,1096.0 L1721.8,1096.7 L1723.8,1096.4 L1725.8,1095.5 L1727.3,1093.5 L1728.8,1090.5 L1730.3,1088.3 L1732.3,1088.4 L1734.4,1089.2 L1736.4,1089.2 L1738.6,1090.6 L1740.9,1092.3 L1743.5,1089.8 L1746.2,1089.1 L1748.0,1088.3 L1749.7,1086.5 L1751.5,1086.4 L1753.5,1085.6 L1755.5,1084.0 L1757.5,1080.9 L1759.5,1081.8 L1761.6,1081.6 L1763.6,1081.3 L1766.2,1080.0 L1768.9,1079.5 L1770.0,1081.2 L1771.1,1082.9 L1772.3,1084.6 L1773.4,1086.3 L1775.1,1086.8 L1776.9,1088.8 L1778.7,1090.8 L1779.4,1088.5 L1780.2,1086.3 L1780.9,1084.0 L1781.7,1082.1 L1783.2,1083.1 L1784.7,1086.6 L1786.2,1086.8 L1788.2,1088.7 L1790.3,1087.9 L1792.3,1088.1 L1794.3,1086.3 L1796.3,1086.1 L1798.3,1085.5 L1800.3,1083.4 L1802.3,1082.5 L1804.4,1083.1 L1805.9,1080.7 L1807.4,1079.0 L1808.9,1078.5 L1810.4,1076.6 L1811.9,1078.1 L1813.4,1079.8 L1814.9,1080.9 L1816.9,1081.9 L1819.0,1080.8 L1821.0,1080.5 L1822.3,1078.3 L1823.6,1077.7 L1824.9,1076.6 L1826.3,1074.2 L1826.9,1072.3 L1827.6,1070.4 L1828.3,1068.6 L1829.0,1066.7 L1829.7,1064.9 L1830.4,1063.0 L1830.9,1061.1 L1831.5,1059.2 L1832.1,1057.3 L1832.7,1055.4 L1833.3,1053.5 L1833.9,1051.7 L1834.3,1049.5 L1834.8,1047.4 L1835.2,1045.3 L1835.6,1043.1 L1836.0,1041.3 L1837.2,1038.6 L1838.4,1037.6 L1839.6,1036.1 L1839.8,1034.1 L1840.0,1032.2 L1840.2,1030.2 L1840.3,1028.3 L1840.5,1026.4 L1840.7,1024.4 L1840.9,1022.5 L1841.1,1020.6 L1841.3,1018.6 L1841.5,1016.7 L1841.7,1014.8 L1841.9,1012.8 L1842.1,1010.9 L1842.3,1009.0 L1842.5,1007.0 L1842.7,1005.1 L1842.9,1003.2 L1843.1,1001.2 L1843.2,999.3 L1843.4,997.4 L1843.6,995.4 L1843.8,993.5 L1844.0,991.5 L1844.1,989.4 L1844.3,987.4 L1844.4,985.4 L1844.6,983.4 L1844.7,981.3 L1844.9,979.3 L1845.0,977.3 L1845.2,975.3 L1845.3,973.2 L1845.5,971.2 L1845.7,969.2 L1845.8,967.2 L1846.0,965.1 L1846.1,963.1 L1846.3,961.1 L1846.4,959.1 L1846.6,957.1 L1846.7,955.1 L1846.9,953.1 L1847.0,951.1 L1847.2,949.1 L1847.3,947.0 L1847.5,945.0 L1847.6,943.0 L1847.8,941.0 L1848.1,939.0 L1848.5,937.0 L1848.8,935.0 L1849.1,933.0 L1849.5,931.0 L1849.8,929.0 L1850.2,931.1 L1850.5,933.2 L1850.9,935.3 L1851.2,937.5 L1851.6,939.6 L1852.0,941.7 L1852.3,943.9 L1852.5,945.9 L1852.6,947.9 L1852.8,949.9 L1852.9,952.0 L1853.1,954.0 L1853.3,956.0 L1853.4,958.0 L1853.6,960.1 L1853.7,962.1 L1853.9,964.1 L1854.0,966.1 L1854.2,968.2 L1854.3,970.2 L1854.5,972.2 L1854.6,974.2 L1854.7,976.1 L1854.9,978.1 L1855.0,980.0 L1855.1,982.0 L1855.3,983.9 L1855.4,985.9 L1855.5,987.8 L1855.7,989.8 L1855.8,991.7 L1855.9,993.7 L1856.1,995.6 L1856.2,997.6 L1856.3,999.5 L1856.5,1001.5 L1856.6,1003.4 L1856.7,1005.5 L1856.9,1007.5 L1857.1,1009.5 L1857.2,1011.5 L1857.4,1013.6 L1857.5,1015.6 L1857.7,1017.6 L1857.8,1019.6 L1858.0,1021.7 L1858.1,1023.7 L1858.3,1025.7 L1858.4,1027.7 L1858.6,1029.8 L1858.7,1031.8 L1858.9,1033.8 L1859.2,1035.7 L1859.4,1037.7 L1859.6,1039.7 L1859.8,1041.6 L1860.0,1043.6 L1860.3,1045.5 L1860.5,1047.5 L1860.7,1049.5 L1860.9,1051.4 L1861.1,1053.4 L1861.3,1055.4 L1861.6,1057.3 L1862.0,1059.4 L1862.3,1061.4 L1862.7,1063.5 L1863.1,1065.5 L1863.5,1067.6 L1863.9,1069.6 L1864.3,1071.7 L1864.7,1073.7 L1865.1,1075.8 L1866.0,1077.8 L1866.8,1079.7 L1867.7,1081.7 L1868.5,1083.7 L1869.4,1085.3 L1870.5,1086.4 L1871.7,1088.4 L1872.9,1090.2 L1875.0,1092.2 L1877.2,1093.4 L1880.4,1090.7 L1881.1,1088.7 L1881.7,1086.6 L1882.3,1084.6 L1883.0,1082.6 L1883.6,1080.6 L1884.3,1078.6 L1885.0,1076.6 L1885.7,1074.6 L1886.4,1072.6 L1887.1,1070.7 L1887.8,1068.7 L1888.1,1066.4 L1888.4,1064.1 L1888.7,1061.9 L1888.9,1059.6 L1889.2,1057.3 L1890.4,1055.4 L1891.6,1053.5 L1892.8,1051.7 L1893.1,1049.5 L1893.5,1047.4 L1893.8,1045.3 L1894.2,1043.1 L1894.5,1041.0 L1894.9,1039.1 L1897.0,1037.4 L1899.1,1035.1 L1901.6,1036.6 L1904.1,1036.1 L1905.0,1034.1 L1905.8,1032.1 L1906.7,1030.1 L1907.5,1028.1 L1908.4,1027.0 L1910.1,1024.4 L1911.9,1021.0 L1915.5,1021.9 L1915.9,1023.9 L1916.3,1025.9 L1916.7,1027.9 L1917.1,1030.0 L1917.5,1032.0 L1917.9,1034.0 L1918.3,1036.1 L1918.5,1038.0 L1918.7,1039.9 L1918.9,1041.9 L1919.1,1043.8 L1919.3,1045.7 L1919.5,1047.7 L1919.7,1049.6 L1919.8,1051.5 L1920.0,1053.5 L1920.2,1055.4 L1920.4,1057.3 L1920.7,1059.3 L1920.9,1061.2 L1921.2,1063.1 L1921.5,1065.1 L1921.7,1067.0 L1922.0,1068.9 L1922.2,1070.9 L1922.5,1072.8 L1922.7,1074.7 L1923.0,1076.7 L1923.3,1078.6 L1923.6,1080.7 L1923.9,1082.9 L1924.2,1085.0 L1924.5,1087.1 L1924.9,1089.2 L1925.2,1091.4 L1925.5,1093.5 L1925.8,1095.6" fill="none" stroke="#ee3e3e" stroke-width="7.0" stroke-linejoin="round" stroke-linecap="butt" shape-rendering="crispEdges"/>
<path d="M389.1,765.2 L391.1,765.9 L393.1,767.8 L395.1,768.7 L397.1,768.6 L399.1,768.2 L401.1,766.6 L403.0,768.0 L404.9,771.1 L407.2,769.0 L409.5,767.9 L411.7,768.4 L413.7,768.1 L415.8,769.6 L417.8,769.6 L419.8,769.7 L421.8,768.5 L423.8,769.2 L425.8,768.4 L427.8,766.5 L429.8,765.2 L430.6,762.9 L431.4,760.6 L432.1,758.9 L433.6,757.0 L435.1,754.9 L437.8,755.5 L440.4,758.3 L442.7,757.9 L445.0,758.8 L446.5,760.4 L448.0,761.3 L449.5,763.0 L451.8,763.1 L454.0,765.0 L455.9,766.2 L457.8,769.1 L460.4,767.8 L463.1,765.9 L464.0,763.8 L465.0,761.8 L465.9,759.7 L466.9,757.6 L467.6,755.6 L468.4,753.6 L469.1,751.6 L471.8,751.0 L474.4,750.5 L476.2,750.0 L477.9,749.0 L479.7,748.6 L482.0,749.7 L484.2,751.7 L486.5,752.3 L488.8,752.3 L490.0,754.3 L491.3,756.4 L492.5,759.1 L494.3,761.1 L496.1,762.7 L497.8,763.8 L500.1,765.6 L502.4,766.7 L503.5,768.6 L504.6,770.6 L505.9,768.3 L507.1,766.1 L508.4,765.9 L510.4,766.1 L512.4,764.3 L514.4,765.8 L516.7,765.7 L519.0,766.0 L521.0,767.3 L523.0,769.2 L525.0,770.4 L527.0,768.5 L529.0,769.4 L531.1,768.0 L533.1,769.1 L535.1,768.1 L537.1,768.9 L539.0,767.6 L540.9,765.2 L543.5,765.0 L546.2,762.5 L548.7,762.1 L551.2,763.1 L553.7,762.0 L555.7,762.8 L557.7,763.7 L559.8,764.6 L561.6,764.5 L563.5,765.0 L565.4,767.4 L567.3,767.1 L569.3,767.8 L571.3,767.2 L573.4,765.7 L575.9,766.1 L578.4,766.5 L580.9,767.0 L582.7,767.9 L584.4,768.8 L586.2,769.9 L588.8,769.8 L591.5,768.2 L593.5,767.5 L595.5,767.6 L597.5,766.2 L599.3,765.3 L601.0,765.6 L602.8,763.7 L605.1,764.0 L607.3,763.2 L609.6,764.2 L611.1,765.8 L612.6,766.0 L614.1,768.4 L616.4,770.0 L618.7,770.3 L620.7,770.7 L622.7,769.6 L624.7,769.3 L627.0,767.9 L629.2,767.8 L631.3,768.7 L633.3,768.0 L635.3,768.8 L637.3,769.5 L639.3,769.6 L641.3,767.7 L643.3,768.1 L645.4,768.4 L647.4,767.8 L648.9,766.4 L650.4,764.8 L651.9,763.4 L653.9,763.1 L655.9,761.7 L657.9,761.1 L660.2,761.9 L662.5,760.4 L664.7,761.5 L666.5,763.1 L668.3,763.5 L670.0,764.6 L672.0,766.3 L674.0,765.6 L676.0,766.1 L678.7,765.8 L681.3,765.6 L684.0,765.1 L686.6,766.3 L688.5,766.7 L690.4,768.1 L692.3,767.7 L694.2,768.9 L696.2,767.0 L698.2,766.9 L700.2,767.0 L702.2,766.4 L704.2,764.6 L706.3,763.1 L708.3,761.6 L710.3,761.2 L712.3,759.3 L714.9,761.6 L717.6,762.8 L718.8,763.3 L720.1,765.2 L721.4,768.0 L723.4,768.5 L725.4,769.6 L727.4,769.4 L729.3,768.6 L731.2,768.5 L733.1,769.2 L735.0,767.7 L737.5,768.0 L740.0,768.2 L742.5,768.3 L744.5,768.7 L746.5,770.1 L748.5,769.0 L749.9,767.2 L751.2,767.6 L752.5,765.9 L753.8,763.7 L754.5,761.6 L755.1,759.6 L755.7,757.6 L756.4,755.6 L757.0,753.6 L757.6,752.2 L758.9,750.1 L760.1,748.1 L761.4,745.9 L763.3,744.8 L765.2,743.5 L766.4,744.7 L767.7,747.2 L768.9,748.5 L769.9,750.6 L770.8,752.7 L771.8,754.8 L772.7,757.2 L774.2,759.4 L775.7,761.0 L777.3,762.8 L778.8,763.8 L780.5,764.2 L782.2,767.2 L783.9,767.5 L785.6,769.3 L787.6,768.8 L789.6,767.2 L791.6,765.7 L793.6,767.8 L795.6,768.2 L797.6,768.6 L799.7,767.9 L801.7,768.7 L803.7,767.4 L806.0,768.1 L808.2,767.4 L810.5,767.3 L812.5,768.6 L814.5,769.7 L816.5,769.0 L818.0,769.0 L819.5,767.9 L821.1,766.3 L822.6,764.4 L823.5,762.3 L824.5,760.3 L825.4,758.2 L826.3,756.1 L826.6,754.1 L826.9,752.2 L827.3,750.2 L827.6,748.2 L827.9,746.3 L828.2,744.3 L828.5,742.4 L828.8,740.4 L829.1,738.4 L829.4,736.5 L829.7,734.5 L830.0,732.4 L830.4,730.4 L830.7,728.4 L831.0,726.4 L831.4,724.4 L831.7,722.4 L832.1,720.4 L832.4,718.3 L833.1,716.4 L833.8,714.4 L834.5,712.4 L835.2,710.5 L835.9,708.5 L836.5,710.5 L837.2,712.4 L837.9,714.4 L838.5,716.4 L839.2,718.3 L839.5,720.3 L839.8,722.3 L840.1,724.2 L840.4,726.2 L840.7,728.2 L841.0,730.1 L841.3,732.1 L841.6,734.0 L841.9,736.0 L842.2,738.0 L842.5,739.9 L842.8,741.9 L843.1,743.9 L843.4,745.8 L843.7,747.8 L844.0,749.8 L844.3,751.7 L844.6,753.7 L844.9,755.6 L845.2,757.6 L846.2,759.5 L847.1,761.4 L848.1,763.3 L849.0,765.7 L851.3,765.2 L853.5,766.1 L855.8,765.9 L858.1,767.5 L860.3,767.4 L862.6,768.0 L864.9,768.0 L866.8,768.5 L868.6,768.9 L869.8,766.7 L870.9,763.6 L873.2,765.0 L875.4,764.2 L877.2,766.0 L879.0,768.7 L880.7,768.8 L883.0,768.1 L885.3,767.4 L887.5,768.2 L889.8,767.5 L892.1,768.0 L894.1,768.9 L896.1,766.7 L898.1,767.4 L900.1,766.8 L902.1,766.8 L904.1,766.8 L905.6,764.8 L907.2,763.9 L908.7,761.0 L910.2,761.2 L912.4,759.1 L914.7,758.0 L916.2,758.1 L917.7,760.6 L919.2,762.3 L920.8,762.0 L922.3,764.1 L923.8,766.0 L925.8,767.3 L927.8,766.9 L929.8,767.5 L931.8,768.2 L933.8,769.4 L935.9,770.2 L937.7,768.9 L939.6,768.3 L941.5,767.8 L943.4,767.1 L945.4,766.5 L947.4,765.1 L949.5,765.2 L951.5,766.4 L953.5,765.5 L955.5,766.4 L957.5,766.0 L959.5,767.8 L961.5,768.7 L963.8,768.7 L966.0,768.5 L968.1,768.9 L970.1,769.6 L972.1,770.5 L974.1,767.5 L976.1,765.9 L978.1,765.7 L979.6,764.7 L981.1,762.7 L982.7,761.3 L984.9,761.1 L987.2,759.3 L988.7,761.2 L990.2,762.8 L991.7,765.3 L993.7,765.6 L995.8,766.1 L997.8,767.8 L999.8,769.3 L1001.8,769.0 L1003.8,770.9 L1005.8,769.8 L1007.8,770.2 L1009.8,769.1 L1011.9,768.0 L1013.9,767.4 L1015.9,766.5 L1017.9,767.9 L1019.9,768.2 L1021.9,768.3 L1024.6,768.7 L1027.2,768.6 L1029.1,768.4 L1031.0,766.0 L1033.0,768.1 L1035.0,767.4 L1037.0,768.1 L1039.3,767.6 L1041.6,768.1 L1043.8,768.8 L1046.1,769.1 L1048.1,767.9 L1050.1,767.4 L1052.1,766.6 L1054.2,765.0 L1056.2,764.9 L1058.2,764.6 L1060.2,762.3 L1062.2,760.6 L1064.2,759.3 L1066.0,759.1 L1067.8,757.7 L1069.5,757.0 L1072.2,757.9 L1074.8,757.9 L1076.8,759.0 L1078.8,760.4 L1080.8,761.5 L1082.1,764.3 L1083.4,766.4 L1084.6,768.2 L1086.9,767.4 L1089.2,769.2 L1091.4,768.6 L1093.4,768.5 L1095.4,768.9 L1097.5,767.4 L1100.0,767.4 L1102.5,768.9 L1105.0,767.8 L1107.3,767.6 L1109.5,767.8 L1111.8,767.8 L1114.1,766.6 L1116.3,767.4 L1118.6,767.8 L1121.1,767.9 L1123.6,767.3 L1126.2,768.1 L1128.4,769.3 L1130.7,768.7 L1132.5,768.0 L1134.2,766.2 L1136.0,765.5 L1137.7,764.7 L1139.5,762.1 L1141.3,761.4 L1142.4,759.3 L1143.5,757.2 L1144.7,755.2 L1145.8,753.1 L1146.4,751.0 L1147.0,748.9 L1147.6,746.7 L1148.2,744.6 L1148.8,742.5 L1149.1,740.4 L1149.4,738.4 L1149.7,736.3 L1150.0,734.2 L1150.2,732.1 L1150.5,730.0 L1150.8,728.0 L1151.1,725.9 L1151.6,723.9 L1152.1,721.8 L1152.6,719.8 L1153.1,717.7 L1153.3,715.7 L1153.4,713.7 L1153.6,711.7 L1153.8,709.7 L1154.0,707.7 L1154.2,705.7 L1154.3,703.6 L1154.5,701.6 L1154.7,699.6 L1154.9,697.6 L1155.0,695.6 L1155.2,693.6 L1155.4,691.6 L1155.6,689.5 L1155.7,687.5 L1155.9,685.5 L1156.1,683.5 L1156.2,681.5 L1156.4,679.5 L1156.5,677.5 L1156.7,675.4 L1156.8,673.4 L1157.0,671.4 L1157.1,669.4 L1157.3,667.4 L1157.4,665.4 L1157.6,663.4 L1157.8,661.3 L1157.9,659.3 L1158.1,657.3 L1158.2,655.3 L1158.4,653.3 L1158.6,651.3 L1158.7,649.3 L1158.9,647.2 L1159.1,645.2 L1159.2,643.2 L1159.4,641.2 L1159.6,639.2 L1159.8,637.2 L1159.9,635.2 L1160.1,633.2 L1160.3,631.1 L1160.4,629.1 L1160.6,627.1 L1160.9,625.1 L1161.1,623.1 L1161.3,621.1 L1161.5,619.1 L1161.8,617.0 L1162.0,615.0 L1162.2,613.0 L1162.4,611.0 L1162.6,609.0 L1163.2,607.0 L1163.7,605.1 L1164.3,603.2 L1164.8,601.2 L1165.4,599.3 L1165.9,597.3 L1166.5,595.4 L1166.9,597.3 L1167.3,599.3 L1167.8,601.2 L1168.2,603.2 L1168.6,605.1 L1169.1,607.0 L1169.5,609.0 L1169.7,611.0 L1170.0,613.0 L1170.2,615.0 L1170.5,617.0 L1170.7,619.1 L1171.0,621.1 L1171.2,623.1 L1171.5,625.1 L1171.8,627.1 L1172.0,629.1 L1172.3,631.1 L1172.5,633.2 L1172.7,635.2 L1173.0,637.2 L1173.2,639.2 L1173.5,641.2 L1173.7,643.2 L1174.0,645.2 L1174.2,647.2 L1174.5,649.3 L1174.7,651.3 L1175.0,653.3 L1175.2,655.3 L1175.5,657.3 L1175.7,659.3 L1176.0,661.3 L1176.3,663.4 L1176.5,665.4 L1176.8,667.4 L1177.1,669.4 L1177.3,671.4 L1177.6,673.4 L1177.9,675.4 L1178.1,677.5 L1178.4,679.5 L1178.7,681.5 L1179.0,683.5 L1179.2,685.5 L1179.5,687.5 L1179.8,689.5 L1180.1,691.6 L1180.4,693.6 L1180.8,695.6 L1181.1,697.6 L1181.4,699.6 L1181.7,701.6 L1182.1,703.6 L1182.4,705.7 L1182.7,707.7 L1183.1,709.7 L1183.4,711.7 L1183.7,713.7 L1184.1,715.7 L1184.4,717.7 L1185.0,719.7 L1185.6,721.6 L1186.2,723.5 L1186.8,725.5 L1187.3,727.4 L1187.9,729.3 L1188.4,731.3 L1189.0,733.2 L1189.5,735.2 L1190.0,737.1 L1190.6,739.1 L1191.1,741.0 L1192.0,743.1 L1192.9,745.2 L1193.8,747.3 L1194.7,749.5 L1195.6,751.6 L1196.6,753.4 L1197.5,755.2 L1198.4,757.0 L1199.3,758.8 L1200.2,760.4 L1201.7,761.2 L1203.2,762.2 L1204.7,763.6 L1206.2,765.0 L1207.7,766.9 L1209.2,767.3 L1211.3,765.7 L1213.3,765.1 L1215.3,763.5 L1217.6,763.3 L1219.8,761.2 L1222.5,760.8 L1225.1,759.7 L1227.7,760.1 L1230.4,763.1 L1232.7,762.7 L1234.9,763.6 L1236.4,762.5 L1237.9,760.0 L1239.5,762.4 L1241.0,763.3 L1242.5,764.4 L1244.7,764.6 L1247.0,766.4 L1249.3,767.0 L1251.5,769.5 L1253.5,768.4 L1255.5,768.8 L1257.6,767.0 L1259.8,767.5 L1262.1,768.1 L1264.4,769.8 L1266.6,770.0 L1268.5,768.8 L1270.4,767.8 L1272.3,768.4 L1274.2,768.4 L1276.4,767.1 L1278.7,765.4 L1281.0,765.0 L1283.2,765.6 L1285.5,766.3 L1287.8,766.5 L1290.0,766.0 L1292.3,766.7 L1294.6,766.7 L1297.2,766.1 L1299.8,768.4 L1301.4,765.6 L1302.9,764.5 L1304.4,763.0 L1306.3,761.5 L1308.2,758.2 L1310.4,758.4 L1312.7,758.6 L1313.9,761.0 L1315.2,761.1 L1316.5,763.7 L1317.4,765.7 L1318.4,767.8 L1319.3,769.9 L1320.2,771.6 L1322.9,771.2 L1325.5,770.6 L1327.5,768.5 L1329.6,769.2 L1331.6,768.7 L1333.6,767.9 L1335.6,766.3 L1337.6,766.0 L1339.6,765.4 L1341.6,766.0 L1343.7,766.1 L1345.9,768.0 L1348.2,768.1 L1350.5,768.5 L1352.7,769.0 L1354.2,768.3 L1355.7,766.1 L1357.8,765.6 L1359.8,764.2 L1361.8,763.6 L1364.4,762.6 L1367.1,763.3 L1369.3,763.0 L1371.6,764.8 L1373.9,766.4 L1375.9,765.5 L1377.9,763.6 L1379.9,763.1 L1382.0,764.0 L1384.1,763.2 L1386.1,763.3 L1388.2,762.9 L1389.9,763.0 L1391.6,764.8 L1393.3,765.4 L1395.0,765.6 L1398.0,767.2 L1399.9,766.2 L1401.8,766.5 L1403.7,767.2 L1405.6,765.1 L1407.6,765.3 L1409.6,763.6 L1411.6,762.8 L1414.1,763.7 L1416.7,762.6 L1419.2,762.0 L1421.7,762.2 L1424.2,763.2 L1426.7,763.1 L1428.8,763.4 L1430.8,765.4 L1432.8,768.4 L1435.0,767.6 L1437.3,769.1 L1439.2,768.2 L1441.1,768.4 L1443.0,767.5 L1444.9,767.3 L1446.8,766.4 L1448.6,765.3 L1450.5,764.9 L1452.4,764.3 L1454.4,765.3 L1456.4,763.4 L1458.5,762.7 L1460.5,765.8 L1462.5,765.6 L1464.5,768.2 L1466.5,767.1 L1468.5,768.4 L1470.5,768.4 L1472.1,767.8 L1473.6,765.6 L1475.1,763.7 L1475.4,761.5 L1475.7,759.3 L1476.0,757.2 L1476.4,755.0 L1476.7,752.9 L1477.0,750.7 L1477.3,749.2 L1478.5,748.5 L1478.5,746.6 L1478.6,744.6 L1478.7,742.7 L1478.8,740.7 L1478.8,738.7 L1478.9,736.8 L1479.0,734.8 L1479.1,732.9 L1479.1,730.9 L1479.2,728.9 L1479.3,727.0 L1479.4,725.0 L1479.4,723.1 L1479.5,721.1 L1479.6,719.1 L1479.7,717.2 L1479.7,715.2 L1479.8,713.3 L1479.9,711.3 L1479.9,709.3 L1480.0,707.4 L1480.1,705.4 L1480.2,703.5 L1480.2,701.5 L1480.3,699.5 L1480.4,697.6 L1480.5,695.6 L1480.5,693.7 L1480.6,691.7 L1480.7,689.7 L1480.8,687.8 L1480.8,685.8 L1480.9,683.9 L1481.0,681.9 L1481.0,679.9 L1481.1,678.0 L1481.2,676.0 L1481.3,674.1 L1481.3,672.1 L1481.4,670.1 L1481.5,668.2 L1481.6,666.2 L1481.6,664.3 L1481.7,662.3 L1481.8,660.4 L1481.9,658.4 L1481.9,656.5 L1482.0,654.5 L1482.1,652.6 L1482.2,650.6 L1482.3,648.7 L1482.3,646.7 L1482.4,644.8 L1482.5,642.8 L1482.6,640.9 L1482.7,638.9 L1482.7,637.0 L1482.8,635.0 L1482.9,633.1 L1483.0,631.1 L1483.0,629.1 L1483.1,627.2 L1483.2,625.2 L1483.3,623.3 L1483.4,621.3 L1483.4,619.4 L1483.5,617.4 L1483.6,615.5 L1483.7,613.5 L1483.7,611.6 L1483.8,609.6 L1483.9,607.7 L1484.0,605.7 L1484.1,603.8 L1484.1,601.8 L1484.2,599.9 L1484.3,597.9 L1484.4,596.0 L1484.4,594.0 L1484.5,592.1 L1484.6,590.1 L1484.7,588.2 L1484.8,586.2 L1484.8,584.3 L1484.9,582.3 L1485.0,580.4 L1485.1,578.4 L1485.1,576.5 L1485.3,574.5 L1485.4,572.5 L1485.5,570.5 L1485.6,568.5 L1485.7,566.5 L1485.9,564.5 L1486.0,562.5 L1486.1,560.5 L1486.2,558.5 L1486.3,556.5 L1486.5,554.5 L1486.6,552.5 L1486.7,550.5 L1486.8,548.6 L1486.9,546.6 L1487.1,544.6 L1487.2,542.6 L1487.3,540.6 L1487.4,538.6 L1487.5,536.6 L1487.7,534.6 L1487.8,532.6 L1488.1,530.7 L1488.3,528.7 L1488.6,526.8 L1488.9,524.9 L1489.2,522.9 L1489.5,521.0 L1489.7,519.1 L1490.0,517.1 L1490.3,515.2 L1490.6,513.3 L1490.8,515.2 L1491.1,517.1 L1491.3,519.1 L1491.6,521.0 L1491.8,522.9 L1492.1,524.9 L1492.3,526.8 L1492.6,528.7 L1492.8,530.7 L1493.0,532.6 L1493.2,534.6 L1493.3,536.6 L1493.4,538.6 L1493.5,540.6 L1493.6,542.6 L1493.8,544.6 L1493.9,546.6 L1494.0,548.6 L1494.1,550.5 L1494.2,552.5 L1494.4,554.5 L1494.5,556.5 L1494.6,558.5 L1494.7,560.5 L1494.8,562.5 L1495.0,564.5 L1495.1,566.5 L1495.2,568.5 L1495.3,570.5 L1495.4,572.5 L1495.6,574.5 L1495.7,576.5 L1495.7,578.4 L1495.8,580.4 L1495.9,582.3 L1495.9,584.3 L1496.0,586.2 L1496.0,588.2 L1496.1,590.1 L1496.1,592.1 L1496.2,594.0 L1496.3,596.0 L1496.3,597.9 L1496.4,599.9 L1496.4,601.8 L1496.5,603.8 L1496.6,605.7 L1496.6,607.7 L1496.7,609.6 L1496.7,611.6 L1496.8,613.5 L1496.9,615.5 L1496.9,617.4 L1497.0,619.4 L1497.0,621.3 L1497.1,623.3 L1497.1,625.2 L1497.2,627.2 L1497.3,629.1 L1497.3,631.1 L1497.4,633.1 L1497.4,635.0 L1497.5,637.0 L1497.6,638.9 L1497.6,640.9 L1497.7,642.8 L1497.7,644.8 L1497.8,646.7 L1497.8,648.7 L1497.9,650.6 L1498.0,652.6 L1498.0,654.5 L1498.1,656.5 L1498.1,658.4 L1498.2,660.4 L1498.3,662.3 L1498.3,664.3 L1498.4,666.2 L1498.5,668.2 L1498.6,670.1 L1498.7,672.1 L1498.8,674.1 L1498.9,676.0 L1499.0,678.0 L1499.1,679.9 L1499.2,681.9 L1499.3,683.9 L1499.4,685.8 L1499.5,687.8 L1499.6,689.7 L1499.7,691.7 L1499.8,693.7 L1499.9,695.6 L1500.0,697.6 L1500.2,699.5 L1500.3,701.5 L1500.4,703.5 L1500.5,705.4 L1500.6,707.4 L1500.7,709.3 L1500.8,711.3 L1500.9,713.3 L1501.0,715.2 L1501.1,717.2 L1501.2,719.1 L1501.3,721.1 L1501.4,723.1 L1501.5,725.0 L1501.6,727.0 L1501.7,728.9 L1501.8,730.9 L1501.9,732.9 L1502.0,734.8 L1502.1,736.8 L1502.2,738.7 L1502.3,740.7 L1502.4,742.7 L1502.5,744.6 L1502.6,746.6 L1502.7,748.7 L1503.8,750.1 L1504.5,751.9 L1505.3,753.7 L1506.0,755.5 L1506.8,757.3 L1507.6,758.5 L1509.3,761.1 L1511.1,763.5 L1512.8,765.1 L1514.9,764.0 L1516.9,765.8 L1518.9,765.8 L1520.9,765.0 L1522.9,765.7 L1524.9,766.1 L1526.9,766.3 L1529.0,768.6 L1531.0,768.0 L1533.0,768.2 L1535.0,765.9 L1537.0,764.9 L1539.0,765.9 L1541.0,765.0 L1543.1,764.6 L1545.3,764.8 L1547.6,765.2 L1549.8,764.7 L1552.1,762.3 L1554.4,762.2 L1556.1,763.0 L1557.9,763.5 L1559.6,765.4 L1562.3,764.1 L1564.9,763.7 L1565.8,761.7 L1566.7,759.7 L1567.6,757.8 L1568.5,755.8 L1569.5,754.8 L1571.7,753.7 L1574.0,752.5 L1576.3,751.5 L1578.3,751.1 L1580.3,753.3 L1582.3,752.6 L1584.9,753.1 L1587.6,754.6 L1589.3,756.3 L1591.1,756.8 L1592.9,758.7 L1594.6,759.7 L1596.4,762.8 L1598.2,763.6 L1599.9,764.9 L1601.7,766.2 L1603.4,768.2 L1605.2,769.7 L1607.0,770.0 L1608.7,771.2 L1609.8,769.4 L1610.8,767.6 L1611.9,765.8 L1613.0,764.0 L1614.0,762.7 L1616.0,760.3 L1618.0,760.8 L1620.1,758.9 L1622.1,760.3 L1624.1,759.4 L1626.1,759.3 L1627.6,761.2 L1629.1,763.2 L1630.6,763.5 L1632.1,765.7 L1633.7,766.7 L1635.2,767.3 L1636.7,768.5 L1638.7,767.9 L1640.7,766.7 L1642.7,765.7 L1645.4,765.8 L1648.0,765.9 L1649.8,764.1 L1651.5,761.9 L1653.3,760.8 L1655.3,761.6 L1657.3,762.6 L1659.3,762.9 L1660.6,764.9 L1661.9,766.9 L1663.1,768.5 L1665.1,767.5 L1667.1,768.0 L1669.2,768.3 L1670.9,766.2 L1672.7,765.4 L1674.4,764.3 L1676.5,764.1 L1678.5,764.0 L1680.5,762.8 L1683.1,763.6 L1685.8,762.9 L1688.0,764.0 L1690.3,762.7 L1691.6,764.4 L1692.9,766.7 L1694.3,767.0 L1695.6,768.3 L1697.9,769.6 L1700.1,769.1 L1702.4,768.1 L1704.3,766.9 L1706.2,766.7 L1707.3,764.8 L1708.4,763.6 L1710.2,763.5 L1712.0,765.0 L1713.7,766.5 L1715.7,765.7 L1717.7,764.5 L1719.8,763.9 L1721.6,765.1 L1723.5,765.8 L1725.3,764.1 L1727.1,764.9 L1728.8,763.3 L1730.8,762.3 L1732.8,763.3 L1734.9,764.2 L1736.9,765.9 L1738.9,765.3 L1740.9,766.5 L1743.4,767.4 L1745.9,767.3 L1748.5,768.2 L1750.7,769.2 L1753.0,769.4 L1754.3,768.0 L1755.6,766.8 L1757.0,765.9 L1758.3,763.1 L1760.5,762.7 L1762.8,761.3 L1765.1,761.7 L1768.9,760.4 L1770.6,764.0 L1772.4,765.0 L1774.1,766.8 L1776.2,766.6 L1778.2,767.7 L1780.2,768.9 L1782.2,769.2 L1784.2,768.0 L1786.2,767.0 L1788.2,766.9 L1790.3,764.7 L1792.3,763.0 L1794.0,761.2 L1795.7,760.2 L1797.4,760.3 L1799.1,757.6 L1800.4,759.9 L1801.7,761.6 L1803.0,762.6 L1804.4,764.9 L1806.6,766.0 L1808.9,766.6 L1810.4,767.9 L1811.9,768.3 L1813.4,769.6 L1814.9,771.8 L1816.4,770.1 L1817.9,768.3 L1819.5,768.2 L1821.0,765.4 L1822.5,765.2 L1824.0,764.2 L1825.5,761.2 L1827.0,760.6 L1828.0,758.9 L1828.9,757.1 L1829.9,755.4 L1830.8,753.6 L1831.8,751.9 L1832.8,749.8 L1833.9,747.6 L1835.0,745.5 L1836.0,743.4 L1836.4,741.3 L1836.7,739.1 L1837.1,737.0 L1837.4,734.9 L1837.8,732.7 L1838.2,730.6 L1838.5,728.5 L1838.9,726.4 L1839.1,724.4 L1839.3,722.5 L1839.4,720.6 L1839.6,718.6 L1839.8,716.7 L1840.0,714.8 L1840.2,712.8 L1840.4,710.9 L1840.6,709.0 L1840.8,707.0 L1841.0,705.1 L1841.2,703.1 L1841.3,701.1 L1841.5,699.1 L1841.7,697.0 L1841.9,695.0 L1842.1,693.0 L1842.2,691.0 L1842.4,689.0 L1842.6,687.0 L1842.8,685.0 L1842.9,683.0 L1843.1,681.0 L1843.3,679.0 L1843.4,677.0 L1843.6,675.1 L1843.8,673.1 L1843.9,671.1 L1844.1,669.2 L1844.3,667.2 L1844.4,665.3 L1844.6,663.3 L1844.8,661.3 L1844.9,659.4 L1845.1,657.4 L1845.2,655.4 L1845.5,653.4 L1845.7,651.3 L1846.0,649.3 L1846.2,647.2 L1846.4,645.2 L1846.7,643.1 L1846.9,641.1 L1847.1,639.0 L1847.4,637.0 L1848.8,634.5 L1850.2,632.0 L1850.6,634.0 L1851.0,635.9 L1851.4,637.8 L1851.8,639.7 L1852.2,641.7 L1852.6,643.6 L1853.0,645.5 L1853.2,647.4 L1853.4,649.4 L1853.6,651.3 L1853.8,653.2 L1854.0,655.2 L1854.2,657.1 L1854.4,659.0 L1854.6,661.0 L1854.8,662.9 L1855.0,664.9 L1855.2,666.8 L1855.4,668.8 L1855.6,670.9 L1855.8,673.0 L1856.0,675.0 L1856.1,677.1 L1856.3,679.2 L1856.5,681.2 L1856.7,683.3 L1856.9,685.4 L1857.1,687.4 L1857.3,689.5 L1857.6,691.5 L1857.8,693.6 L1858.1,695.7 L1858.3,697.7 L1858.6,699.8 L1858.9,701.9 L1859.1,703.9 L1859.4,706.0 L1859.6,708.0 L1859.9,710.1 L1860.1,712.2 L1860.5,714.3 L1860.9,716.4 L1861.2,718.6 L1861.6,720.7 L1861.9,722.8 L1862.3,724.9 L1862.6,727.1 L1863.0,729.2 L1863.5,731.1 L1863.9,733.0 L1864.4,734.9 L1864.9,736.8 L1865.3,738.7 L1865.8,740.5 L1866.4,742.5 L1867.0,744.5 L1867.5,746.5 L1868.1,748.5 L1868.7,750.5 L1869.5,752.2 L1870.4,754.0 L1871.3,755.8 L1872.2,757.6 L1873.1,759.5 L1874.0,761.5 L1874.9,763.4 L1875.7,765.9 L1878.2,764.7 L1880.7,765.7 L1882.4,766.1 L1884.0,767.7 L1885.7,768.7 L1887.8,768.7 L1889.9,767.5 L1892.1,766.1 L1893.5,764.6 L1894.9,762.1 L1896.3,760.4 L1897.3,758.4 L1898.3,756.4 L1899.3,754.4 L1900.3,752.5 L1901.3,750.5 L1901.7,748.3 L1902.2,746.2 L1902.7,744.1 L1903.2,742.0 L1903.6,739.8 L1904.1,737.7 L1904.5,735.7 L1904.9,733.7 L1905.3,731.6 L1905.7,729.6 L1906.1,727.6 L1906.5,725.5 L1907.0,723.5 L1907.4,721.6 L1907.9,719.7 L1908.4,717.8 L1908.8,716.0 L1909.3,714.1 L1909.8,712.7 L1911.6,709.7 L1913.3,708.7 L1915.1,710.0 L1916.9,710.8 L1917.4,712.9 L1917.8,715.0 L1918.3,717.1 L1918.8,719.3 L1919.2,721.4 L1919.7,723.5 L1920.0,725.7 L1920.2,727.8 L1920.5,729.9 L1920.8,732.0 L1921.0,734.2 L1921.3,736.3 L1921.6,738.4 L1921.8,740.5 L1922.1,742.5 L1922.4,744.4 L1922.6,746.4 L1922.9,748.3 L1923.2,750.3 L1923.4,752.2 L1923.7,754.2 L1924.0,756.1 L1924.3,758.3 L1924.6,760.4 L1924.9,762.5 L1925.2,764.7 L1925.5,766.8 L1925.8,768.9" fill="none" stroke="#1a6ae0" stroke-width="7.0" stroke-linejoin="round" stroke-linecap="butt" shape-rendering="crispEdges"/>
<path d="M389.1,767.8 L391.1,768.5 L393.1,770.4 L395.1,771.3 L397.1,771.2 L399.1,770.8 L401.1,769.2 L403.0,770.6 L404.9,773.7 L407.2,771.6 L409.5,770.5 L411.7,771.0 L413.7,770.7 L415.8,772.2 L417.8,772.2 L419.8,772.3 L421.8,771.1 L423.8,771.8 L425.8,771.0 L427.8,769.1 L429.8,767.8 L430.6,765.5 L431.4,763.2 L432.1,761.5 L433.6,759.6 L435.1,757.5 L437.8,758.1 L440.4,760.9 L442.7,760.5 L445.0,761.4 L446.5,763.0 L448.0,763.9 L449.5,765.6 L451.8,765.7 L454.0,767.6 L455.9,768.8 L457.8,771.7 L460.4,770.4 L463.1,768.5 L464.0,766.4 L465.0,764.4 L465.9,762.3 L466.9,760.2 L467.6,758.2 L468.4,756.2 L469.1,754.2 L471.8,753.6 L474.4,753.1 L476.2,752.6 L477.9,751.6 L479.7,751.2 L482.0,752.3 L484.2,754.3 L486.5,754.9 L488.8,754.9 L490.0,756.9 L491.3,759.0 L492.5,761.7 L494.3,763.7 L496.1,765.3 L497.8,766.4 L500.1,768.2 L502.4,769.3 L503.5,771.2 L504.6,773.2 L505.9,770.9 L507.1,768.7 L508.4,768.5 L510.4,768.7 L512.4,766.9 L514.4,768.4 L516.7,768.3 L519.0,768.6 L521.0,769.9 L523.0,771.8 L525.0,773.0 L527.0,771.1 L529.0,772.0 L531.1,770.6 L533.1,771.7 L535.1,770.7 L537.1,771.5 L539.0,770.2 L540.9,767.8 L543.5,767.6 L546.2,765.1 L548.7,764.7 L551.2,765.7 L553.7,764.6 L555.7,765.4 L557.7,766.3 L559.8,767.2 L561.6,767.1 L563.5,767.6 L565.4,770.0 L567.3,769.7 L569.3,770.4 L571.3,769.8 L573.4,768.3 L575.9,768.7 L578.4,769.1 L580.9,769.6 L582.7,770.5 L584.4,771.4 L586.2,772.5 L588.8,772.4 L591.5,770.8 L593.5,770.1 L595.5,770.2 L597.5,768.8 L599.3,767.9 L601.0,768.2 L602.8,766.3 L605.1,766.6 L607.3,765.8 L609.6,766.8 L611.1,768.4 L612.6,768.6 L614.1,771.0 L616.4,772.6 L618.7,772.9 L620.7,773.3 L622.7,772.2 L624.7,771.9 L627.0,770.5 L629.2,770.4 L631.3,771.3 L633.3,770.6 L635.3,771.4 L637.3,772.1 L639.3,772.2 L641.3,770.3 L643.3,770.7 L645.4,771.0 L647.4,770.4 L648.9,769.0 L650.4,767.4 L651.9,766.0 L653.9,765.7 L655.9,764.3 L657.9,763.7 L660.2,764.5 L662.5,763.0 L664.7,764.1 L666.5,765.7 L668.3,766.1 L670.0,767.2 L672.0,768.9 L674.0,768.2 L676.0,768.7 L678.7,768.4 L681.3,768.2 L684.0,767.7 L686.6,768.9 L688.5,769.3 L690.4,770.7 L692.3,770.3 L694.2,771.5 L696.2,769.6 L698.2,769.5 L700.2,769.6 L702.2,769.0 L704.2,767.2 L706.3,765.7 L708.3,764.2 L710.3,763.8 L712.3,761.9 L714.9,764.2 L717.6,765.4 L718.8,765.9 L720.1,767.8 L721.4,770.6 L723.4,771.1 L725.4,772.2 L727.4,772.0 L729.3,771.2 L731.2,771.1 L733.1,771.8 L735.0,770.3 L737.5,770.6 L740.0,770.8 L742.5,770.9 L744.5,771.3 L746.5,772.7 L748.5,771.6 L749.9,769.8 L751.2,770.2 L752.5,768.5 L753.8,766.3 L754.5,764.2 L755.1,762.2 L755.7,760.2 L756.4,758.2 L757.0,756.2 L757.6,754.8 L758.9,752.7 L760.1,750.7 L761.4,748.5 L763.3,747.4 L765.2,746.1 L766.4,747.3 L767.7,749.8 L768.9,751.1 L769.9,753.2 L770.8,755.3 L771.8,757.4 L772.7,759.8 L774.2,762.0 L775.7,763.6 L777.3,765.4 L778.8,766.4 L780.5,766.8 L782.2,769.8 L783.9,770.1 L785.6,771.9 L787.6,771.4 L789.6,769.8 L791.6,768.3 L793.6,770.4 L795.6,770.8 L797.6,771.2 L799.7,770.5 L801.7,771.3 L803.7,770.0 L806.0,770.7 L808.2,770.0 L810.5,769.9 L812.5,771.2 L814.5,772.3 L816.5,771.6 L818.0,771.6 L819.5,770.5 L821.1,768.9 L822.6,767.0 L823.5,764.9 L824.5,762.9 L825.4,760.8 L826.3,758.7 L826.6,756.7 L826.9,754.8 L827.3,752.8 L827.6,750.8 L827.9,748.9 L828.2,746.9 L828.5,745.0 L828.8,743.0 L829.1,741.0 L829.4,739.1 L829.7,737.1 L830.0,735.0 L830.4,733.0 L830.7,731.0 L831.0,729.0 L831.4,727.0 L831.7,725.0 L832.1,723.0 L832.4,720.9 L833.1,719.0 L833.8,717.0 L834.5,715.0 L835.2,713.1 L835.9,711.1 L836.5,713.1 L837.2,715.0 L837.9,717.0 L838.5,719.0 L839.2,720.9 L839.5,722.9 L839.8,724.9 L840.1,726.8 L840.4,728.8 L840.7,730.8 L841.0,732.7 L841.3,734.7 L841.6,736.6 L841.9,738.6 L842.2,740.6 L842.5,742.5 L842.8,744.5 L843.1,746.5 L843.4,748.4 L843.7,750.4 L844.0,752.4 L844.3,754.3 L844.6,756.3 L844.9,758.2 L845.2,760.2 L846.2,762.1 L847.1,764.0 L848.1,765.9 L849.0,768.3 L851.3,767.8 L853.5,768.7 L855.8,768.5 L858.1,770.1 L860.3,770.0 L862.6,770.6 L864.9,770.6 L866.8,771.1 L868.6,771.5 L869.8,769.3 L870.9,766.2 L873.2,767.6 L875.4,766.8 L877.2,768.6 L879.0,771.3 L880.7,771.4 L883.0,770.7 L885.3,770.0 L887.5,770.8 L889.8,770.1 L892.1,770.6 L894.1,771.5 L896.1,769.3 L898.1,770.0 L900.1,769.4 L902.1,769.4 L904.1,769.4 L905.6,767.4 L907.2,766.5 L908.7,763.6 L910.2,763.8 L912.4,761.7 L914.7,760.6 L916.2,760.7 L917.7,763.2 L919.2,764.9 L920.8,764.6 L922.3,766.7 L923.8,768.6 L925.8,769.9 L927.8,769.5 L929.8,770.1 L931.8,770.8 L933.8,772.0 L935.9,772.8 L937.7,771.5 L939.6,770.9 L941.5,770.4 L943.4,769.7 L945.4,769.1 L947.4,767.7 L949.5,767.8 L951.5,769.0 L953.5,768.1 L955.5,769.0 L957.5,768.6 L959.5,770.4 L961.5,771.3 L963.8,771.3 L966.0,771.1 L968.1,771.5 L970.1,772.2 L972.1,773.1 L974.1,770.1 L976.1,768.5 L978.1,768.3 L979.6,767.3 L981.1,765.3 L982.7,763.9 L984.9,763.7 L987.2,761.9 L988.7,763.8 L990.2,765.4 L991.7,767.9 L993.7,768.2 L995.8,768.7 L997.8,770.4 L999.8,771.9 L1001.8,771.6 L1003.8,773.5 L1005.8,772.4 L1007.8,772.8 L1009.8,771.7 L1011.9,770.6 L1013.9,770.0 L1015.9,769.1 L1017.9,770.5 L1019.9,770.8 L1021.9,770.9 L1024.6,771.3 L1027.2,771.2 L1029.1,771.0 L1031.0,768.6 L1033.0,770.7 L1035.0,770.0 L1037.0,770.7 L1039.3,770.2 L1041.6,770.7 L1043.8,771.4 L1046.1,771.7 L1048.1,770.5 L1050.1,770.0 L1052.1,769.2 L1054.2,767.6 L1056.2,767.5 L1058.2,767.2 L1060.2,764.9 L1062.2,763.2 L1064.2,761.9 L1066.0,761.7 L1067.8,760.3 L1069.5,759.6 L1072.2,760.5 L1074.8,760.5 L1076.8,761.6 L1078.8,763.0 L1080.8,764.1 L1082.1,766.9 L1083.4,769.0 L1084.6,770.8 L1086.9,770.0 L1089.2,771.8 L1091.4,771.2 L1093.4,771.1 L1095.4,771.5 L1097.5,770.0 L1100.0,770.0 L1102.5,771.5 L1105.0,770.4 L1107.3,770.2 L1109.5,770.4 L1111.8,770.4 L1114.1,769.2 L1116.3,770.0 L1118.6,770.4 L1121.1,770.5 L1123.6,769.9 L1126.2,770.7 L1128.4,771.9 L1130.7,771.3 L1132.5,770.6 L1134.2,768.8 L1136.0,768.1 L1137.7,767.3 L1139.5,764.7 L1141.3,764.0 L1142.4,761.9 L1143.5,759.8 L1144.7,757.8 L1145.8,755.7 L1146.4,753.6 L1147.0,751.5 L1147.6,749.3 L1148.2,747.2 L1148.8,745.1 L1149.1,743.0 L1149.4,741.0 L1149.7,738.9 L1150.0,736.8 L1150.2,734.7 L1150.5,732.6 L1150.8,730.6 L1151.1,728.5 L1151.6,726.5 L1152.1,724.4 L1152.6,722.4 L1153.1,720.3 L1153.3,718.3 L1153.4,716.3 L1153.6,714.3 L1153.8,712.3 L1154.0,710.3 L1154.2,708.3 L1154.3,706.2 L1154.5,704.2 L1154.7,702.2 L1154.9,700.2 L1155.0,698.2 L1155.2,696.2 L1155.4,694.2 L1155.6,692.1 L1155.7,690.1 L1155.9,688.1 L1156.1,686.1 L1156.2,684.1 L1156.4,682.1 L1156.5,680.1 L1156.7,678.0 L1156.8,676.0 L1157.0,674.0 L1157.1,672.0 L1157.3,670.0 L1157.4,668.0 L1157.6,666.0 L1157.8,663.9 L1157.9,661.9 L1158.1,659.9 L1158.2,657.9 L1158.4,655.9 L1158.6,653.9 L1158.7,651.9 L1158.9,649.8 L1159.1,647.8 L1159.2,645.8 L1159.4,643.8 L1159.6,641.8 L1159.8,639.8 L1159.9,637.8 L1160.1,635.8 L1160.3,633.7 L1160.4,631.7 L1160.6,629.7 L1160.9,627.7 L1161.1,625.7 L1161.3,623.7 L1161.5,621.7 L1161.8,619.6 L1162.0,617.6 L1162.2,615.6 L1162.4,613.6 L1162.6,611.6 L1163.2,609.6 L1163.7,607.7 L1164.3,605.8 L1164.8,603.8 L1165.4,601.9 L1165.9,599.9 L1166.5,598.0 L1166.9,599.9 L1167.3,601.9 L1167.8,603.8 L1168.2,605.8 L1168.6,607.7 L1169.1,609.6 L1169.5,611.6 L1169.7,613.6 L1170.0,615.6 L1170.2,617.6 L1170.5,619.6 L1170.7,621.7 L1171.0,623.7 L1171.2,625.7 L1171.5,627.7 L1171.8,629.7 L1172.0,631.7 L1172.3,633.7 L1172.5,635.8 L1172.7,637.8 L1173.0,639.8 L1173.2,641.8 L1173.5,643.8 L1173.7,645.8 L1174.0,647.8 L1174.2,649.8 L1174.5,651.9 L1174.7,653.9 L1175.0,655.9 L1175.2,657.9 L1175.5,659.9 L1175.7,661.9 L1176.0,663.9 L1176.3,666.0 L1176.5,668.0 L1176.8,670.0 L1177.1,672.0 L1177.3,674.0 L1177.6,676.0 L1177.9,678.0 L1178.1,680.1 L1178.4,682.1 L1178.7,684.1 L1179.0,686.1 L1179.2,688.1 L1179.5,690.1 L1179.8,692.1 L1180.1,694.2 L1180.4,696.2 L1180.8,698.2 L1181.1,700.2 L1181.4,702.2 L1181.7,704.2 L1182.1,706.2 L1182.4,708.3 L1182.7,710.3 L1183.1,712.3 L1183.4,714.3 L1183.7,716.3 L1184.1,718.3 L1184.4,720.3 L1185.0,722.3 L1185.6,724.2 L1186.2,726.1 L1186.8,728.1 L1187.3,730.0 L1187.9,731.9 L1188.4,733.9 L1189.0,735.8 L1189.5,737.8 L1190.0,739.7 L1190.6,741.7 L1191.1,743.6 L1192.0,745.7 L1192.9,747.8 L1193.8,749.9 L1194.7,752.1 L1195.6,754.2 L1196.6,756.0 L1197.5,757.8 L1198.4,759.6 L1199.3,761.4 L1200.2,763.0 L1201.7,763.8 L1203.2,764.8 L1204.7,766.2 L1206.2,767.6 L1207.7,769.5 L1209.2,769.9 L1211.3,768.3 L1213.3,767.7 L1215.3,766.1 L1217.6,765.9 L1219.8,763.8 L1222.5,763.4 L1225.1,762.3 L1227.7,762.7 L1230.4,765.7 L1232.7,765.3 L1234.9,766.2 L1236.4,765.1 L1237.9,762.6 L1239.5,765.0 L1241.0,765.9 L1242.5,767.0 L1244.7,767.2 L1247.0,769.0 L1249.3,769.6 L1251.5,772.1 L1253.5,771.0 L1255.5,771.4 L1257.6,769.6 L1259.8,770.1 L1262.1,770.7 L1264.4,772.4 L1266.6,772.6 L1268.5,771.4 L1270.4,770.4 L1272.3,771.0 L1274.2,771.0 L1276.4,769.7 L1278.7,768.0 L1281.0,767.6 L1283.2,768.2 L1285.5,768.9 L1287.8,769.1 L1290.0,768.6 L1292.3,769.3 L1294.6,769.3 L1297.2,768.7 L1299.8,771.0 L1301.4,768.2 L1302.9,767.1 L1304.4,765.6 L1306.3,764.1 L1308.2,760.8 L1310.4,761.0 L1312.7,761.2 L1313.9,763.6 L1315.2,763.7 L1316.5,766.3 L1317.4,768.3 L1318.4,770.4 L1319.3,772.5 L1320.2,774.2 L1322.9,773.8 L1325.5,773.2 L1327.5,771.1 L1329.6,771.8 L1331.6,771.3 L1333.6,770.5 L1335.6,768.9 L1337.6,768.6 L1339.6,768.0 L1341.6,768.6 L1343.7,768.7 L1345.9,770.6 L1348.2,770.7 L1350.5,771.1 L1352.7,771.6 L1354.2,770.9 L1355.7,768.7 L1357.8,768.2 L1359.8,766.8 L1361.8,766.2 L1364.4,765.2 L1367.1,765.9 L1369.3,765.6 L1371.6,767.4 L1373.9,769.0 L1375.9,768.1 L1377.9,766.2 L1379.9,765.7 L1382.0,766.6 L1384.1,765.8 L1386.1,765.9 L1388.2,765.5 L1389.9,765.6 L1391.6,767.4 L1393.3,768.0 L1395.0,768.2 L1398.0,769.8 L1399.9,768.8 L1401.8,769.1 L1403.7,769.8 L1405.6,767.7 L1407.6,767.9 L1409.6,766.2 L1411.6,765.4 L1414.1,766.3 L1416.7,765.2 L1419.2,764.6 L1421.7,764.8 L1424.2,765.8 L1426.7,765.7 L1428.8,766.0 L1430.8,768.0 L1432.8,771.0 L1435.0,770.2 L1437.3,771.7 L1439.2,770.8 L1441.1,771.0 L1443.0,770.1 L1444.9,769.9 L1446.8,769.0 L1448.6,767.9 L1450.5,767.5 L1452.4,766.9 L1454.4,767.9 L1456.4,766.0 L1458.5,765.3 L1460.5,768.4 L1462.5,768.2 L1464.5,770.8 L1466.5,769.7 L1468.5,771.0 L1470.5,771.0 L1472.1,770.4 L1473.6,768.2 L1475.1,766.3 L1475.4,764.1 L1475.7,761.9 L1476.0,759.8 L1476.4,757.6 L1476.7,755.5 L1477.0,753.3 L1477.3,751.8 L1478.5,751.1 L1478.5,749.2 L1478.6,747.2 L1478.7,745.3 L1478.8,743.3 L1478.8,741.3 L1478.9,739.4 L1479.0,737.4 L1479.1,735.5 L1479.1,733.5 L1479.2,731.5 L1479.3,729.6 L1479.4,727.6 L1479.4,725.7 L1479.5,723.7 L1479.6,721.7 L1479.7,719.8 L1479.7,717.8 L1479.8,715.9 L1479.9,713.9 L1479.9,711.9 L1480.0,710.0 L1480.1,708.0 L1480.2,706.1 L1480.2,704.1 L1480.3,702.1 L1480.4,700.2 L1480.5,698.2 L1480.5,696.3 L1480.6,694.3 L1480.7,692.3 L1480.8,690.4 L1480.8,688.4 L1480.9,686.5 L1481.0,684.5 L1481.0,682.5 L1481.1,680.6 L1481.2,678.6 L1481.3,676.7 L1481.3,674.7 L1481.4,672.7 L1481.5,670.8 L1481.6,668.8 L1481.6,666.9 L1481.7,664.9 L1481.8,663.0 L1481.9,661.0 L1481.9,659.1 L1482.0,657.1 L1482.1,655.2 L1482.2,653.2 L1482.3,651.3 L1482.3,649.3 L1482.4,647.4 L1482.5,645.4 L1482.6,643.5 L1482.7,641.5 L1482.7,639.6 L1482.8,637.6 L1482.9,635.7 L1483.0,633.7 L1483.0,631.7 L1483.1,629.8 L1483.2,627.8 L1483.3,625.9 L1483.4,623.9 L1483.4,622.0 L1483.5,620.0 L1483.6,618.1 L1483.7,616.1 L1483.7,614.2 L1483.8,612.2 L1483.9,610.3 L1484.0,608.3 L1484.1,606.4 L1484.1,604.4 L1484.2,602.5 L1484.3,600.5 L1484.4,598.6 L1484.4,596.6 L1484.5,594.7 L1484.6,592.7 L1484.7,590.8 L1484.8,588.8 L1484.8,586.9 L1484.9,584.9 L1485.0,583.0 L1485.1,581.0 L1485.1,579.1 L1485.3,577.1 L1485.4,575.1 L1485.5,573.1 L1485.6,571.1 L1485.7,569.1 L1485.9,567.1 L1486.0,565.1 L1486.1,563.1 L1486.2,561.1 L1486.3,559.1 L1486.5,557.1 L1486.6,555.1 L1486.7,553.1 L1486.8,551.2 L1486.9,549.2 L1487.1,547.2 L1487.2,545.2 L1487.3,543.2 L1487.4,541.2 L1487.5,539.2 L1487.7,537.2 L1487.8,535.2 L1488.1,533.3 L1488.3,531.3 L1488.6,529.4 L1488.9,527.5 L1489.2,525.5 L1489.5,523.6 L1489.7,521.7 L1490.0,519.7 L1490.3,517.8 L1490.6,515.9 L1490.8,517.8 L1491.1,519.7 L1491.3,521.7 L1491.6,523.6 L1491.8,525.5 L1492.1,527.5 L1492.3,529.4 L1492.6,531.3 L1492.8,533.3 L1493.0,535.2 L1493.2,537.2 L1493.3,539.2 L1493.4,541.2 L1493.5,543.2 L1493.6,545.2 L1493.8,547.2 L1493.9,549.2 L1494.0,551.2 L1494.1,553.1 L1494.2,555.1 L1494.4,557.1 L1494.5,559.1 L1494.6,561.1 L1494.7,563.1 L1494.8,565.1 L1495.0,567.1 L1495.1,569.1 L1495.2,571.1 L1495.3,573.1 L1495.4,575.1 L1495.6,577.1 L1495.7,579.1 L1495.7,581.0 L1495.8,583.0 L1495.9,584.9 L1495.9,586.9 L1496.0,588.8 L1496.0,590.8 L1496.1,592.7 L1496.1,594.7 L1496.2,596.6 L1496.3,598.6 L1496.3,600.5 L1496.4,602.5 L1496.4,604.4 L1496.5,606.4 L1496.6,608.3 L1496.6,610.3 L1496.7,612.2 L1496.7,614.2 L1496.8,616.1 L1496.9,618.1 L1496.9,620.0 L1497.0,622.0 L1497.0,623.9 L1497.1,625.9 L1497.1,627.8 L1497.2,629.8 L1497.3,631.7 L1497.3,633.7 L1497.4,635.7 L1497.4,637.6 L1497.5,639.6 L1497.6,641.5 L1497.6,643.5 L1497.7,645.4 L1497.7,647.4 L1497.8,649.3 L1497.8,651.3 L1497.9,653.2 L1498.0,655.2 L1498.0,657.1 L1498.1,659.1 L1498.1,661.0 L1498.2,663.0 L1498.3,664.9 L1498.3,666.9 L1498.4,668.8 L1498.5,670.8 L1498.6,672.7 L1498.7,674.7 L1498.8,676.7 L1498.9,678.6 L1499.0,680.6 L1499.1,682.5 L1499.2,684.5 L1499.3,686.5 L1499.4,688.4 L1499.5,690.4 L1499.6,692.3 L1499.7,694.3 L1499.8,696.3 L1499.9,698.2 L1500.0,700.2 L1500.2,702.1 L1500.3,704.1 L1500.4,706.1 L1500.5,708.0 L1500.6,710.0 L1500.7,711.9 L1500.8,713.9 L1500.9,715.9 L1501.0,717.8 L1501.1,719.8 L1501.2,721.7 L1501.3,723.7 L1501.4,725.7 L1501.5,727.6 L1501.6,729.6 L1501.7,731.5 L1501.8,733.5 L1501.9,735.5 L1502.0,737.4 L1502.1,739.4 L1502.2,741.3 L1502.3,743.3 L1502.4,745.3 L1502.5,747.2 L1502.6,749.2 L1502.7,751.3 L1503.8,752.7 L1504.5,754.5 L1505.3,756.3 L1506.0,758.1 L1506.8,759.9 L1507.6,761.1 L1509.3,763.7 L1511.1,766.1 L1512.8,767.7 L1514.9,766.6 L1516.9,768.4 L1518.9,768.4 L1520.9,767.6 L1522.9,768.3 L1524.9,768.7 L1526.9,768.9 L1529.0,771.2 L1531.0,770.6 L1533.0,770.8 L1535.0,768.5 L1537.0,767.5 L1539.0,768.5 L1541.0,767.6 L1543.1,767.2 L1545.3,767.4 L1547.6,767.8 L1549.8,767.3 L1552.1,764.9 L1554.4,764.8 L1556.1,765.6 L1557.9,766.1 L1559.6,768.0 L1562.3,766.7 L1564.9,766.3 L1565.8,764.3 L1566.7,762.3 L1567.6,760.4 L1568.5,758.4 L1569.5,757.4 L1571.7,756.3 L1574.0,755.1 L1576.3,754.1 L1578.3,753.7 L1580.3,755.9 L1582.3,755.2 L1584.9,755.7 L1587.6,757.2 L1589.3,758.9 L1591.1,759.4 L1592.9,761.3 L1594.6,762.3 L1596.4,765.4 L1598.2,766.2 L1599.9,767.5 L1601.7,768.8 L1603.4,770.8 L1605.2,772.3 L1607.0,772.6 L1608.7,773.8 L1609.8,772.0 L1610.8,770.2 L1611.9,768.4 L1613.0,766.6 L1614.0,765.3 L1616.0,762.9 L1618.0,763.4 L1620.1,761.5 L1622.1,762.9 L1624.1,762.0 L1626.1,761.9 L1627.6,763.8 L1629.1,765.8 L1630.6,766.1 L1632.1,768.3 L1633.7,769.3 L1635.2,769.9 L1636.7,771.1 L1638.7,770.5 L1640.7,769.3 L1642.7,768.3 L1645.4,768.4 L1648.0,768.5 L1649.8,766.7 L1651.5,764.5 L1653.3,763.4 L1655.3,764.2 L1657.3,765.2 L1659.3,765.5 L1660.6,767.5 L1661.9,769.5 L1663.1,771.1 L1665.1,770.1 L1667.1,770.6 L1669.2,770.9 L1670.9,768.8 L1672.7,768.0 L1674.4,766.9 L1676.5,766.7 L1678.5,766.6 L1680.5,765.4 L1683.1,766.2 L1685.8,765.5 L1688.0,766.6 L1690.3,765.3 L1691.6,767.0 L1692.9,769.3 L1694.3,769.6 L1695.6,770.9 L1697.9,772.2 L1700.1,771.7 L1702.4,770.7 L1704.3,769.5 L1706.2,769.3 L1707.3,767.4 L1708.4,766.2 L1710.2,766.1 L1712.0,767.6 L1713.7,769.1 L1715.7,768.3 L1717.7,767.1 L1719.8,766.5 L1721.6,767.7 L1723.5,768.4 L1725.3,766.7 L1727.1,767.5 L1728.8,765.9 L1730.8,764.9 L1732.8,765.9 L1734.9,766.8 L1736.9,768.5 L1738.9,767.9 L1740.9,769.1 L1743.4,770.0 L1745.9,769.9 L1748.5,770.8 L1750.7,771.8 L1753.0,772.0 L1754.3,770.6 L1755.6,769.4 L1757.0,768.5 L1758.3,765.7 L1760.5,765.3 L1762.8,763.9 L1765.1,764.3 L1768.9,763.0 L1770.6,766.6 L1772.4,767.6 L1774.1,769.4 L1776.2,769.2 L1778.2,770.3 L1780.2,771.5 L1782.2,771.8 L1784.2,770.6 L1786.2,769.6 L1788.2,769.5 L1790.3,767.3 L1792.3,765.6 L1794.0,763.8 L1795.7,762.8 L1797.4,762.9 L1799.1,760.2 L1800.4,762.5 L1801.7,764.2 L1803.0,765.2 L1804.4,767.5 L1806.6,768.6 L1808.9,769.2 L1810.4,770.5 L1811.9,770.9 L1813.4,772.2 L1814.9,774.4 L1816.4,772.7 L1817.9,770.9 L1819.5,770.8 L1821.0,768.0 L1822.5,767.8 L1824.0,766.8 L1825.5,763.8 L1827.0,763.2 L1828.0,761.5 L1828.9,759.7 L1829.9,758.0 L1830.8,756.2 L1831.8,754.5 L1832.8,752.4 L1833.9,750.2 L1835.0,748.1 L1836.0,746.0 L1836.4,743.9 L1836.7,741.7 L1837.1,739.6 L1837.4,737.5 L1837.8,735.3 L1838.2,733.2 L1838.5,731.1 L1838.9,729.0 L1839.1,727.0 L1839.3,725.1 L1839.4,723.2 L1839.6,721.2 L1839.8,719.3 L1840.0,717.4 L1840.2,715.4 L1840.4,713.5 L1840.6,711.6 L1840.8,709.6 L1841.0,707.7 L1841.2,705.7 L1841.3,703.7 L1841.5,701.7 L1841.7,699.6 L1841.9,697.6 L1842.1,695.6 L1842.2,693.6 L1842.4,691.6 L1842.6,689.6 L1842.8,687.6 L1842.9,685.6 L1843.1,683.6 L1843.3,681.6 L1843.4,679.6 L1843.6,677.7 L1843.8,675.7 L1843.9,673.7 L1844.1,671.8 L1844.3,669.8 L1844.4,667.9 L1844.6,665.9 L1844.8,663.9 L1844.9,662.0 L1845.1,660.0 L1845.2,658.0 L1845.5,656.0 L1845.7,653.9 L1846.0,651.9 L1846.2,649.8 L1846.4,647.8 L1846.7,645.7 L1846.9,643.7 L1847.1,641.6 L1847.4,639.6 L1848.8,637.1 L1850.2,634.6 L1850.6,636.6 L1851.0,638.5 L1851.4,640.4 L1851.8,642.3 L1852.2,644.3 L1852.6,646.2 L1853.0,648.1 L1853.2,650.0 L1853.4,652.0 L1853.6,653.9 L1853.8,655.8 L1854.0,657.8 L1854.2,659.7 L1854.4,661.6 L1854.6,663.6 L1854.8,665.5 L1855.0,667.5 L1855.2,669.4 L1855.4,671.4 L1855.6,673.5 L1855.8,675.6 L1856.0,677.6 L1856.1,679.7 L1856.3,681.8 L1856.5,683.8 L1856.7,685.9 L1856.9,688.0 L1857.1,690.0 L1857.3,692.1 L1857.6,694.1 L1857.8,696.2 L1858.1,698.3 L1858.3,700.3 L1858.6,702.4 L1858.9,704.5 L1859.1,706.5 L1859.4,708.6 L1859.6,710.6 L1859.9,712.7 L1860.1,714.8 L1860.5,716.9 L1860.9,719.0 L1861.2,721.2 L1861.6,723.3 L1861.9,725.4 L1862.3,727.5 L1862.6,729.7 L1863.0,731.8 L1863.5,733.7 L1863.9,735.6 L1864.4,737.5 L1864.9,739.4 L1865.3,741.3 L1865.8,743.1 L1866.4,745.1 L1867.0,747.1 L1867.5,749.1 L1868.1,751.1 L1868.7,753.1 L1869.5,754.8 L1870.4,756.6 L1871.3,758.4 L1872.2,760.2 L1873.1,762.1 L1874.0,764.1 L1874.9,766.0 L1875.7,768.5 L1878.2,767.3 L1880.7,768.3 L1882.4,768.7 L1884.0,770.3 L1885.7,771.3 L1887.8,771.3 L1889.9,770.1 L1892.1,768.7 L1893.5,767.2 L1894.9,764.7 L1896.3,763.0 L1897.3,761.0 L1898.3,759.0 L1899.3,757.0 L1900.3,755.1 L1901.3,753.1 L1901.7,750.9 L1902.2,748.8 L1902.7,746.7 L1903.2,744.6 L1903.6,742.4 L1904.1,740.3 L1904.5,738.3 L1904.9,736.3 L1905.3,734.2 L1905.7,732.2 L1906.1,730.2 L1906.5,728.1 L1907.0,726.1 L1907.4,724.2 L1907.9,722.3 L1908.4,720.4 L1908.8,718.6 L1909.3,716.7 L1909.8,715.3 L1911.6,712.3 L1913.3,711.3 L1915.1,712.6 L1916.9,713.4 L1917.4,715.5 L1917.8,717.6 L1918.3,719.7 L1918.8,721.9 L1919.2,724.0 L1919.7,726.1 L1920.0,728.3 L1920.2,730.4 L1920.5,732.5 L1920.8,734.6 L1921.0,736.8 L1921.3,738.9 L1921.6,741.0 L1921.8,743.1 L1922.1,745.1 L1922.4,747.0 L1922.6,749.0 L1922.9,750.9 L1923.2,752.9 L1923.4,754.8 L1923.7,756.8 L1924.0,758.7 L1924.3,760.9 L1924.6,763.0 L1924.9,765.1 L1925.2,767.3 L1925.5,769.4 L1925.8,771.5" fill="none" stroke="#1a6ae0" stroke-width="7.0" stroke-linejoin="round" stroke-linecap="butt" shape-rendering="crispEdges"/>
<path d="M390.6,467.4 L392.6,465.6 L394.6,464.1 L396.6,463.4 L398.5,462.4 L400.4,461.7 L402.3,461.8 L404.2,462.2 L406.7,461.6 L409.2,461.2 L411.7,459.8 L413.8,460.0 L415.9,459.1 L418.0,458.5 L420.0,458.0 L422.3,458.9 L424.6,460.9 L426.8,461.3 L429.3,461.5 L431.9,461.7 L434.4,460.8 L436.6,461.0 L438.9,461.6 L441.2,461.9 L443.4,462.1 L445.7,462.3 L448.0,460.9 L450.2,462.1 L452.0,463.7 L453.8,464.9 L455.5,465.7 L457.5,464.9 L459.6,462.7 L461.6,463.0 L463.6,461.8 L465.6,460.0 L467.6,458.4 L469.9,459.1 L472.1,458.0 L474.4,458.1 L476.7,458.6 L478.9,458.5 L481.2,459.0 L483.2,460.3 L485.2,461.0 L487.3,461.5 L489.8,462.2 L492.3,463.6 L494.8,462.4 L496.7,462.9 L498.6,464.5 L500.5,464.3 L502.4,465.2 L504.2,464.7 L506.1,463.9 L508.0,464.8 L509.9,462.7 L511.9,463.5 L513.9,463.5 L516.0,464.7 L517.7,465.0 L519.5,466.1 L521.2,467.9 L523.5,466.6 L525.8,466.5 L528.0,466.7 L529.9,464.4 L531.8,463.5 L533.7,463.1 L535.6,463.4 L537.7,462.6 L539.7,461.2 L541.8,460.9 L543.9,460.0 L545.7,461.6 L547.4,461.7 L549.2,464.0 L551.5,465.0 L553.7,465.6 L556.0,465.6 L558.2,466.3 L560.5,464.7 L562.8,465.5 L564.7,466.3 L566.6,465.3 L568.4,464.0 L570.3,464.5 L572.6,464.1 L574.9,464.8 L577.1,464.0 L579.2,463.2 L581.3,463.2 L583.4,462.0 L585.4,461.9 L587.7,462.9 L590.0,461.4 L592.2,460.6 L594.5,460.5 L596.4,461.1 L598.3,462.7 L600.2,462.2 L602.1,462.5 L604.1,462.6 L606.1,464.9 L608.1,464.3 L610.1,464.1 L612.1,464.0 L614.1,464.3 L616.0,464.1 L617.9,464.8 L619.8,463.3 L621.7,462.7 L624.0,463.1 L626.2,462.0 L628.5,463.0 L630.8,460.6 L633.3,461.4 L635.8,461.9 L638.3,461.2 L640.2,462.7 L642.1,462.1 L644.0,462.0 L645.9,462.7 L648.4,462.0 L650.9,462.7 L653.4,462.4 L655.9,463.4 L658.4,463.1 L661.0,462.1 L663.1,460.9 L665.2,461.0 L667.3,460.7 L669.4,460.4 L671.5,460.1 L673.5,461.9 L675.5,460.9 L677.6,461.3 L679.8,463.4 L682.1,463.1 L684.4,464.3 L686.6,463.5 L689.1,464.2 L691.7,463.5 L694.2,463.5 L696.7,463.4 L699.2,462.9 L701.7,462.1 L703.6,461.8 L705.5,462.5 L707.4,462.0 L709.3,461.5 L711.3,461.1 L713.3,462.5 L715.3,463.5 L717.6,464.3 L719.8,465.8 L722.0,465.3 L724.1,465.5 L726.2,465.6 L728.3,464.7 L730.4,466.0 L732.7,465.7 L735.0,463.6 L737.2,465.0 L739.5,464.6 L742.0,464.3 L744.5,463.3 L747.0,465.2 L749.1,462.4 L751.1,462.9 L753.1,461.0 L755.1,459.0 L757.1,458.5 L759.1,458.7 L761.0,458.2 L762.9,458.1 L764.8,458.1 L766.7,456.3 L768.7,456.6 L770.7,459.2 L772.7,458.2 L774.7,460.9 L776.7,460.4 L778.8,462.8 L780.8,462.5 L782.8,462.4 L784.8,461.5 L786.8,463.4 L788.8,463.3 L790.8,465.5 L793.4,465.1 L795.9,466.5 L798.4,466.5 L800.3,465.5 L802.2,465.2 L804.1,463.9 L806.0,463.5 L808.5,464.9 L811.0,464.9 L813.5,465.9 L815.4,464.8 L817.3,463.3 L819.2,463.2 L821.1,462.9 L822.3,460.9 L823.6,458.9 L824.8,456.9 L825.2,454.9 L825.5,453.0 L825.8,451.1 L826.1,449.1 L826.5,447.2 L826.8,445.2 L827.1,443.3 L827.3,441.3 L827.5,439.3 L827.7,437.2 L827.9,435.2 L828.0,433.2 L828.2,431.2 L828.4,429.2 L828.6,427.2 L828.8,425.2 L829.0,423.2 L829.2,421.1 L829.4,419.1 L829.6,417.1 L829.8,415.0 L830.0,412.9 L830.2,410.9 L830.4,408.8 L830.6,406.8 L830.8,404.7 L831.0,402.6 L831.2,400.6 L831.4,398.5 L831.6,396.5 L832.0,394.5 L832.3,392.6 L832.6,390.6 L832.9,388.7 L833.2,386.8 L833.6,384.8 L833.9,382.8 L835.4,381.4 L836.9,379.1 L837.9,381.4 L838.9,383.6 L839.9,385.9 L840.2,387.9 L840.4,389.9 L840.7,391.9 L840.9,393.9 L841.2,396.0 L841.5,398.0 L841.7,400.0 L842.0,402.0 L842.2,404.0 L842.4,406.1 L842.6,408.1 L842.8,410.2 L843.0,412.3 L843.2,414.3 L843.4,416.4 L843.6,418.4 L843.9,420.5 L844.1,422.6 L844.3,424.6 L844.5,426.7 L844.7,428.7 L844.9,430.8 L845.1,432.9 L845.3,434.9 L845.5,437.0 L845.7,439.0 L845.9,441.1 L846.1,443.2 L846.3,445.2 L846.5,447.3 L846.7,449.3 L847.1,451.5 L847.4,453.7 L847.7,455.8 L848.0,458.0 L848.4,460.1 L848.7,462.3 L849.0,463.5 L851.3,466.5 L853.5,467.4 L855.8,466.8 L858.1,466.3 L860.3,466.1 L862.3,464.3 L864.4,464.9 L866.4,464.4 L868.6,463.8 L870.9,463.8 L872.8,464.0 L874.7,465.0 L876.6,463.9 L878.5,465.5 L880.3,465.9 L882.2,466.4 L884.1,466.6 L886.0,467.4 L888.3,464.8 L890.5,464.5 L892.6,463.7 L894.6,464.4 L896.6,465.2 L898.5,464.3 L900.4,462.9 L902.3,462.2 L904.1,461.8 L905.6,460.7 L907.2,459.6 L908.7,456.9 L909.7,454.6 L910.7,452.4 L911.7,450.7 L914.3,448.9 L917.0,448.6 L917.9,450.3 L918.9,452.0 L919.8,453.7 L920.8,455.8 L922.3,457.6 L923.8,459.1 L925.3,462.3 L927.2,462.0 L929.1,461.5 L931.0,461.7 L932.8,463.9 L934.7,463.5 L936.6,463.0 L938.5,462.0 L940.4,461.0 L942.3,460.0 L944.2,459.8 L946.1,459.2 L947.9,460.0 L949.8,460.5 L951.7,460.8 L953.6,460.2 L955.5,460.9 L957.4,460.5 L959.3,461.2 L961.2,459.0 L963.1,459.7 L964.9,460.6 L966.8,461.5 L968.7,463.4 L970.6,463.2 L972.6,462.4 L974.6,460.5 L976.6,459.1 L978.4,457.4 L980.1,456.5 L981.9,454.6 L983.4,453.2 L984.9,453.8 L986.4,451.1 L988.2,453.9 L990.0,455.0 L991.7,456.1 L992.8,457.8 L993.8,459.4 L994.9,461.1 L996.0,462.7 L997.0,464.5 L999.3,465.0 L1001.5,465.4 L1003.8,465.3 L1005.8,465.2 L1007.8,464.5 L1009.8,465.9 L1012.1,465.6 L1014.4,465.3 L1016.6,466.0 L1018.4,466.4 L1020.2,464.2 L1021.9,463.4 L1023.9,462.5 L1026.0,461.4 L1028.0,458.8 L1030.2,457.4 L1032.5,455.9 L1034.3,454.2 L1036.0,454.8 L1037.8,452.1 L1040.4,454.9 L1043.1,454.2 L1044.8,455.4 L1046.6,457.9 L1048.4,459.0 L1049.9,459.6 L1051.4,462.0 L1052.9,463.6 L1055.5,464.8 L1058.2,464.5 L1060.2,465.3 L1062.2,465.2 L1064.2,464.1 L1065.7,463.2 L1067.3,462.0 L1068.8,459.6 L1070.6,459.8 L1072.5,459.0 L1074.6,459.5 L1076.6,459.6 L1078.6,461.6 L1080.3,463.2 L1082.1,463.0 L1083.9,464.7 L1085.9,464.4 L1087.9,463.1 L1089.9,461.2 L1092.2,461.3 L1094.4,459.4 L1096.5,460.8 L1098.5,460.7 L1100.5,460.2 L1103.1,461.0 L1105.8,460.1 L1108.4,460.3 L1111.1,462.1 L1113.3,462.5 L1115.6,462.9 L1117.1,461.1 L1118.6,458.9 L1120.1,457.3 L1121.9,456.1 L1123.6,454.9 L1125.4,454.8 L1127.2,452.5 L1128.9,451.0 L1130.7,451.2 L1132.7,450.3 L1134.7,449.9 L1136.7,449.5 L1138.2,447.0 L1139.8,445.2 L1141.3,444.0 L1142.2,442.1 L1143.2,440.2 L1144.1,438.4 L1145.0,436.5 L1145.4,434.5 L1145.7,432.6 L1146.0,430.6 L1146.3,428.7 L1146.7,426.8 L1147.0,424.8 L1147.3,422.9 L1147.7,420.9 L1148.1,418.8 L1148.4,416.8 L1148.8,414.8 L1149.2,412.8 L1149.6,410.8 L1150.0,408.5 L1150.1,406.6 L1150.2,404.6 L1150.3,402.6 L1150.4,400.7 L1150.6,398.7 L1150.7,396.8 L1150.8,394.8 L1150.9,392.8 L1151.0,390.9 L1151.1,388.9 L1151.2,386.9 L1151.3,385.0 L1151.4,383.0 L1151.5,381.1 L1151.6,379.1 L1151.7,377.1 L1151.8,375.2 L1151.9,373.2 L1152.0,371.3 L1152.1,369.3 L1152.2,367.3 L1152.3,365.4 L1152.4,363.4 L1152.5,361.4 L1152.6,359.5 L1152.7,357.5 L1152.8,355.6 L1152.9,353.6 L1153.0,351.6 L1153.1,349.7 L1153.2,347.7 L1153.3,345.7 L1153.4,343.8 L1153.5,341.8 L1153.7,339.9 L1153.8,337.9 L1153.9,336.0 L1154.1,334.0 L1154.2,332.1 L1154.3,330.1 L1154.5,328.2 L1154.6,326.2 L1154.7,324.3 L1154.8,322.3 L1155.0,320.4 L1155.1,318.4 L1155.2,316.5 L1155.4,314.5 L1155.5,312.6 L1155.6,310.6 L1155.8,308.7 L1155.9,306.7 L1156.0,304.8 L1156.1,302.8 L1156.3,300.9 L1156.4,298.9 L1156.5,297.0 L1156.7,295.0 L1156.8,293.1 L1156.9,291.1 L1157.1,289.1 L1157.2,287.2 L1157.4,285.2 L1157.5,283.3 L1157.6,281.3 L1157.8,279.4 L1157.9,277.4 L1158.1,275.5 L1158.2,273.5 L1158.4,271.6 L1158.5,269.6 L1158.7,267.7 L1158.8,265.7 L1159.0,263.8 L1159.1,261.8 L1159.3,259.9 L1159.4,257.9 L1159.5,256.0 L1159.7,254.0 L1159.9,252.0 L1160.2,249.9 L1160.4,247.8 L1160.6,245.7 L1160.9,243.7 L1161.1,241.6 L1161.4,239.5 L1161.6,237.4 L1161.8,235.4 L1162.1,233.3 L1162.3,231.2 L1163.2,229.2 L1164.1,227.3 L1165.0,225.3 L1165.8,223.3 L1166.3,225.2 L1166.8,227.1 L1167.3,229.0 L1167.8,230.8 L1168.3,232.7 L1168.8,234.6 L1169.3,236.5 L1169.5,238.5 L1169.8,240.5 L1170.0,242.6 L1170.2,244.6 L1170.4,246.6 L1170.6,248.6 L1170.8,250.7 L1171.0,252.7 L1171.2,254.7 L1171.4,256.7 L1171.6,258.8 L1171.8,260.8 L1172.0,262.8 L1172.1,264.8 L1172.3,266.7 L1172.4,268.7 L1172.6,270.6 L1172.7,272.6 L1172.9,274.5 L1173.0,276.5 L1173.2,278.4 L1173.3,280.4 L1173.4,282.3 L1173.6,284.3 L1173.7,286.2 L1173.9,288.2 L1174.0,290.1 L1174.2,292.1 L1174.3,294.0 L1174.5,296.0 L1174.6,297.9 L1174.8,299.9 L1175.0,301.9 L1175.2,303.9 L1175.4,305.9 L1175.6,307.9 L1175.8,309.9 L1176.0,311.9 L1176.2,313.9 L1176.4,315.9 L1176.6,317.9 L1176.8,319.9 L1177.0,321.9 L1177.2,323.9 L1177.4,325.9 L1177.6,327.9 L1177.8,329.8 L1178.0,331.8 L1178.2,333.8 L1178.4,335.8 L1178.6,337.8 L1178.8,339.8 L1179.0,341.8 L1179.2,343.8 L1179.5,345.7 L1179.7,347.7 L1180.0,349.6 L1180.2,351.6 L1180.5,353.5 L1180.7,355.5 L1181.0,357.4 L1181.2,359.4 L1181.4,361.3 L1181.7,363.3 L1181.9,365.2 L1182.2,367.2 L1182.4,369.1 L1182.7,371.1 L1182.9,373.0 L1183.1,375.0 L1183.4,376.9 L1183.6,378.9 L1183.8,380.9 L1184.1,382.9 L1184.3,384.8 L1184.5,386.8 L1184.7,388.8 L1184.9,390.8 L1185.1,392.7 L1185.4,394.7 L1185.6,396.7 L1185.8,398.7 L1186.0,400.6 L1186.2,402.6 L1186.5,404.6 L1186.7,406.6 L1186.9,408.5 L1187.3,410.8 L1187.7,412.8 L1188.1,414.8 L1188.5,416.8 L1188.9,418.8 L1189.2,420.9 L1189.6,422.9 L1190.0,424.8 L1190.4,426.6 L1190.7,428.5 L1191.1,430.4 L1191.5,432.3 L1191.9,434.2 L1192.3,436.1 L1192.6,438.0 L1193.2,440.1 L1193.8,442.2 L1194.4,444.3 L1195.0,446.4 L1195.6,448.5 L1196.6,450.4 L1197.5,452.3 L1198.5,454.2 L1199.4,455.9 L1200.9,457.3 L1202.4,460.4 L1204.0,462.5 L1206.6,463.5 L1209.2,464.4 L1211.8,464.5 L1214.3,464.8 L1216.8,463.5 L1218.8,464.0 L1220.8,463.2 L1222.8,462.9 L1224.7,464.6 L1226.6,464.1 L1228.5,464.5 L1230.4,464.7 L1232.7,465.3 L1234.9,464.4 L1236.8,463.9 L1238.7,461.3 L1241.0,463.3 L1243.2,462.0 L1245.5,463.4 L1248.0,463.0 L1250.5,462.7 L1253.1,462.5 L1256.0,463.4 L1258.1,463.7 L1260.1,462.7 L1262.1,462.2 L1263.8,460.6 L1265.6,460.4 L1267.4,458.5 L1269.1,460.1 L1270.9,461.4 L1272.7,462.2 L1274.4,463.3 L1276.2,464.3 L1277.9,464.6 L1280.0,465.9 L1282.1,465.2 L1284.2,465.1 L1286.3,465.3 L1288.5,464.3 L1290.8,464.1 L1293.1,464.0 L1295.3,464.0 L1297.3,463.3 L1299.3,462.5 L1301.4,461.6 L1303.6,461.7 L1305.9,461.0 L1308.2,460.7 L1310.4,461.0 L1312.4,460.8 L1314.5,462.4 L1316.5,462.7 L1318.4,462.2 L1320.2,463.6 L1322.1,462.6 L1324.0,462.8 L1326.0,465.4 L1328.0,464.2 L1330.1,464.9 L1331.9,466.3 L1333.8,464.2 L1335.7,465.1 L1337.6,464.5 L1339.6,464.9 L1341.6,465.9 L1343.7,468.4 L1345.7,466.5 L1347.7,465.4 L1349.7,465.0 L1351.2,464.1 L1352.7,461.7 L1354.2,459.8 L1356.0,459.5 L1357.8,456.3 L1359.5,454.5 L1361.8,454.4 L1364.0,456.3 L1366.3,455.2 L1368.3,456.8 L1370.3,457.5 L1372.4,459.3 L1374.4,459.6 L1376.4,461.1 L1378.4,463.3 L1380.4,462.9 L1382.4,464.6 L1384.4,466.4 L1387.0,465.8 L1389.5,465.4 L1392.0,466.0 L1394.0,464.5 L1396.0,464.6 L1398.0,463.4 L1400.7,462.4 L1403.3,462.9 L1404.5,465.0 L1405.6,467.1 L1406.7,469.1 L1407.9,470.5 L1409.4,469.6 L1410.9,468.7 L1412.4,466.7 L1413.5,464.8 L1414.7,462.9 L1415.8,461.0 L1416.9,459.9 L1419.6,458.5 L1422.2,459.2 L1424.0,459.3 L1425.7,462.7 L1427.5,464.4 L1429.3,466.1 L1431.0,467.3 L1432.8,468.6 L1434.5,467.0 L1436.3,466.6 L1438.1,465.9 L1440.3,465.6 L1442.6,465.9 L1444.9,466.8 L1446.6,466.7 L1448.4,468.1 L1450.2,468.8 L1451.9,468.9 L1453.7,466.9 L1455.4,465.5 L1457.7,463.5 L1460.0,462.3 L1461.9,463.2 L1463.7,464.4 L1465.3,464.6 L1466.8,466.0 L1468.3,467.3 L1469.8,466.4 L1471.3,463.2 L1472.8,462.1 L1473.3,460.1 L1473.8,458.1 L1474.3,456.1 L1474.8,454.1 L1475.3,452.1 L1475.8,450.1 L1476.0,448.1 L1476.2,446.2 L1476.4,444.3 L1476.7,442.4 L1476.9,440.4 L1477.1,438.5 L1477.3,436.6 L1477.5,434.7 L1477.7,432.8 L1477.9,430.8 L1478.1,428.9 L1478.4,426.8 L1478.6,424.8 L1478.9,422.7 L1479.2,420.6 L1479.4,418.6 L1479.5,416.6 L1479.5,414.6 L1479.6,412.7 L1479.7,410.7 L1479.7,408.7 L1479.8,406.8 L1479.8,404.8 L1479.9,402.9 L1480.0,400.9 L1480.0,398.9 L1480.1,397.0 L1480.2,395.0 L1480.2,393.0 L1480.3,391.1 L1480.3,389.1 L1480.4,387.1 L1480.5,385.2 L1480.5,383.2 L1480.6,381.2 L1480.6,379.3 L1480.7,377.3 L1480.8,375.4 L1480.8,373.4 L1480.9,371.4 L1481.0,369.5 L1481.0,367.5 L1481.1,365.5 L1481.1,363.6 L1481.2,361.6 L1481.3,359.6 L1481.3,357.7 L1481.4,355.7 L1481.4,353.7 L1481.5,351.8 L1481.6,349.9 L1481.7,348.0 L1481.7,346.0 L1481.8,344.1 L1481.9,342.2 L1482.0,340.2 L1482.0,338.3 L1482.1,336.4 L1482.2,334.5 L1482.2,332.5 L1482.3,330.6 L1482.4,328.7 L1482.5,326.7 L1482.5,324.8 L1482.6,322.9 L1482.7,320.9 L1482.7,319.0 L1482.8,317.1 L1482.9,315.2 L1483.0,313.2 L1483.0,311.3 L1483.1,309.4 L1483.2,307.4 L1483.3,305.5 L1483.3,303.6 L1483.4,301.7 L1483.5,299.7 L1483.5,297.8 L1483.5,295.8 L1483.5,293.8 L1483.6,291.8 L1483.6,289.9 L1483.6,287.9 L1483.7,285.9 L1483.7,283.9 L1483.7,282.0 L1483.7,280.0 L1483.8,278.0 L1483.8,276.1 L1483.8,274.1 L1483.8,272.1 L1483.9,270.1 L1483.9,268.2 L1483.9,266.2 L1483.9,264.2 L1484.0,262.2 L1484.0,260.3 L1484.0,258.3 L1484.0,256.3 L1484.1,254.3 L1484.1,252.4 L1484.1,250.4 L1484.2,248.4 L1484.2,246.5 L1484.2,244.5 L1484.2,242.5 L1484.3,240.5 L1484.3,238.6 L1484.3,236.6 L1484.4,234.6 L1484.5,232.7 L1484.5,230.7 L1484.6,228.8 L1484.6,226.8 L1484.7,224.9 L1484.7,222.9 L1484.8,220.9 L1484.9,219.0 L1484.9,217.0 L1485.0,215.1 L1485.0,213.1 L1485.1,211.2 L1485.1,209.2 L1485.2,207.2 L1485.3,205.3 L1485.3,203.3 L1485.4,201.4 L1485.4,199.4 L1485.5,197.4 L1485.5,195.5 L1485.6,193.5 L1485.7,191.6 L1485.7,189.6 L1485.8,187.7 L1485.8,185.7 L1485.9,183.7 L1485.9,181.8 L1486.0,179.8 L1486.1,177.9 L1486.1,175.9 L1486.2,173.9 L1486.2,172.0 L1486.3,170.0 L1486.3,168.1 L1486.4,166.1 L1486.5,164.2 L1486.5,162.2 L1486.6,160.2 L1486.6,158.3 L1486.6,156.4 L1486.7,154.5 L1486.7,152.5 L1486.7,150.6 L1486.8,148.7 L1486.8,146.7 L1486.8,144.8 L1486.9,142.9 L1486.9,140.9 L1486.9,139.0 L1487.0,137.1 L1487.0,135.2 L1487.0,133.2 L1487.1,131.3 L1487.1,129.4 L1487.2,127.4 L1487.2,125.5 L1487.2,123.6 L1487.3,121.7 L1487.3,119.7 L1487.3,117.8 L1487.4,115.9 L1487.4,113.9 L1487.4,112.0 L1487.5,110.1 L1487.5,108.2 L1487.5,106.2 L1487.7,104.2 L1487.8,102.2 L1487.9,100.1 L1488.1,98.1 L1488.2,96.1 L1488.3,94.1 L1488.5,92.0 L1488.6,90.0 L1488.7,88.0 L1488.9,86.0 L1489.3,83.5 L1489.8,81.1 L1490.2,78.7 L1490.7,81.1 L1491.1,83.5 L1491.6,86.0 L1491.7,88.0 L1491.8,90.0 L1492.0,92.0 L1492.1,94.1 L1492.2,96.1 L1492.4,98.1 L1492.5,100.1 L1492.7,102.2 L1492.8,104.2 L1492.9,106.2 L1493.0,108.2 L1493.0,110.1 L1493.1,112.0 L1493.1,113.9 L1493.2,115.9 L1493.2,117.8 L1493.3,119.7 L1493.3,121.7 L1493.4,123.6 L1493.4,125.5 L1493.5,127.4 L1493.5,129.4 L1493.6,131.3 L1493.6,133.2 L1493.6,135.2 L1493.7,137.1 L1493.7,139.0 L1493.8,140.9 L1493.8,142.9 L1493.9,144.8 L1493.9,146.7 L1494.0,148.7 L1494.0,150.6 L1494.1,152.5 L1494.1,154.5 L1494.2,156.4 L1494.2,158.3 L1494.3,160.2 L1494.3,162.2 L1494.4,164.2 L1494.4,166.1 L1494.4,168.1 L1494.5,170.0 L1494.5,172.0 L1494.6,173.9 L1494.6,175.9 L1494.7,177.9 L1494.7,179.8 L1494.8,181.8 L1494.8,183.7 L1494.8,185.7 L1494.9,187.7 L1494.9,189.6 L1495.0,191.6 L1495.0,193.5 L1495.1,195.5 L1495.1,197.4 L1495.2,199.4 L1495.2,201.4 L1495.2,203.3 L1495.3,205.3 L1495.3,207.2 L1495.4,209.2 L1495.4,211.2 L1495.5,213.1 L1495.5,215.1 L1495.5,217.0 L1495.6,219.0 L1495.6,220.9 L1495.7,222.9 L1495.7,224.9 L1495.8,226.8 L1495.8,228.8 L1495.9,230.7 L1495.9,232.7 L1495.9,234.6 L1496.0,236.6 L1496.0,238.6 L1496.1,240.5 L1496.1,242.5 L1496.2,244.5 L1496.2,246.5 L1496.3,248.4 L1496.3,250.4 L1496.4,252.4 L1496.4,254.3 L1496.5,256.3 L1496.6,258.3 L1496.6,260.3 L1496.7,262.2 L1496.7,264.2 L1496.8,266.2 L1496.8,268.2 L1496.9,270.1 L1496.9,272.1 L1497.0,274.1 L1497.0,276.1 L1497.1,278.0 L1497.1,280.0 L1497.2,282.0 L1497.2,283.9 L1497.3,285.9 L1497.3,287.9 L1497.4,289.9 L1497.4,291.8 L1497.5,293.8 L1497.5,295.8 L1497.6,297.8 L1497.7,299.7 L1497.7,301.7 L1497.7,303.6 L1497.8,305.5 L1497.8,307.4 L1497.9,309.4 L1497.9,311.3 L1498.0,313.2 L1498.0,315.2 L1498.1,317.1 L1498.1,319.0 L1498.2,320.9 L1498.2,322.9 L1498.3,324.8 L1498.3,326.7 L1498.4,328.7 L1498.4,330.6 L1498.5,332.5 L1498.5,334.5 L1498.6,336.4 L1498.6,338.3 L1498.7,340.2 L1498.7,342.2 L1498.8,344.1 L1498.8,346.0 L1498.9,348.0 L1498.9,349.9 L1499.0,351.8 L1499.0,353.7 L1499.1,355.7 L1499.1,357.7 L1499.2,359.6 L1499.2,361.6 L1499.3,363.6 L1499.4,365.5 L1499.4,367.5 L1499.5,369.5 L1499.6,371.4 L1499.6,373.4 L1499.7,375.4 L1499.7,377.3 L1499.8,379.3 L1499.9,381.2 L1499.9,383.2 L1500.0,385.2 L1500.0,387.1 L1500.1,389.1 L1500.2,391.1 L1500.2,393.0 L1500.3,395.0 L1500.4,397.0 L1500.4,398.9 L1500.5,400.9 L1500.5,402.9 L1500.6,404.8 L1500.7,406.8 L1500.7,408.7 L1500.8,410.7 L1500.8,412.7 L1500.9,414.6 L1501.0,416.6 L1501.0,418.6 L1501.3,420.6 L1501.5,422.6 L1501.8,424.7 L1502.0,426.7 L1502.3,428.8 L1502.5,430.8 L1502.8,432.8 L1503.0,434.9 L1503.3,436.9 L1503.5,439.0 L1503.8,441.0 L1504.1,443.1 L1504.3,445.2 L1504.6,447.2 L1504.9,449.3 L1505.2,451.4 L1505.5,453.5 L1505.8,455.5 L1506.0,457.6 L1507.0,459.6 L1508.1,461.6 L1509.1,463.0 L1511.3,464.5 L1513.6,464.3 L1515.9,465.4 L1518.4,464.9 L1520.9,464.0 L1523.4,465.2 L1525.3,463.8 L1527.2,464.2 L1529.1,462.9 L1531.0,463.1 L1532.5,460.7 L1534.0,457.7 L1535.5,455.9 L1537.8,457.1 L1540.0,455.7 L1541.5,457.2 L1543.0,458.5 L1544.5,458.8 L1546.1,460.8 L1547.6,461.9 L1549.1,462.0 L1551.1,462.5 L1553.1,462.8 L1555.1,461.5 L1557.4,463.5 L1559.6,463.5 L1561.7,463.5 L1563.7,462.9 L1565.7,462.3 L1567.9,462.8 L1570.2,462.1 L1571.7,461.0 L1573.2,459.7 L1574.7,458.7 L1576.8,459.0 L1578.8,459.2 L1580.8,459.4 L1583.1,460.6 L1585.3,459.6 L1586.8,461.6 L1588.3,461.9 L1589.8,464.6 L1591.7,462.0 L1593.6,461.2 L1595.6,462.6 L1597.7,465.2 L1599.7,466.4 L1601.9,464.9 L1604.2,464.4 L1606.5,464.9 L1608.7,463.5 L1611.0,462.9 L1612.1,461.0 L1613.3,459.6 L1615.9,460.6 L1618.5,462.0 L1620.6,461.0 L1622.6,462.4 L1624.6,462.2 L1626.6,463.8 L1628.6,463.9 L1630.6,464.6 L1632.5,465.7 L1634.4,465.2 L1637.1,465.4 L1639.7,463.0 L1641.7,462.2 L1643.7,462.2 L1645.7,460.2 L1648.0,460.2 L1650.3,461.2 L1652.0,461.8 L1653.8,463.3 L1655.6,464.4 L1657.8,464.6 L1660.1,462.8 L1662.4,463.4 L1663.9,461.3 L1665.4,458.7 L1668.0,459.9 L1670.7,458.9 L1673.3,458.8 L1676.0,456.0 L1678.0,457.5 L1680.0,458.6 L1682.0,459.7 L1684.3,459.6 L1686.5,460.9 L1688.8,460.2 L1690.3,461.9 L1691.8,463.0 L1693.3,464.5 L1694.8,467.2 L1696.3,469.7 L1697.9,470.6 L1699.7,471.6 L1701.6,471.8 L1702.9,471.2 L1704.1,468.4 L1705.4,467.3 L1708.1,466.9 L1710.7,469.0 L1713.0,466.1 L1715.2,465.2 L1717.2,465.4 L1719.3,464.5 L1721.3,463.7 L1723.3,463.7 L1725.4,463.0 L1727.5,463.4 L1729.6,462.7 L1731.3,464.0 L1733.0,465.2 L1734.7,465.4 L1736.4,467.2 L1738.4,466.8 L1740.4,466.6 L1742.4,464.3 L1744.7,465.3 L1746.9,465.0 L1749.2,465.3 L1751.5,464.9 L1753.7,464.5 L1756.0,462.9 L1757.1,461.2 L1758.3,459.5 L1759.4,457.8 L1760.5,456.6 L1762.6,454.3 L1764.6,454.0 L1766.6,452.5 L1768.1,453.4 L1769.6,455.9 L1771.1,456.9 L1772.1,458.9 L1773.0,461.0 L1774.0,463.1 L1774.9,464.4 L1777.2,466.3 L1779.4,465.5 L1781.7,465.9 L1783.2,465.7 L1784.7,462.8 L1786.2,461.1 L1787.7,459.7 L1790.0,461.8 L1792.3,462.3 L1794.5,461.0 L1796.8,459.0 L1798.3,460.7 L1799.8,463.0 L1801.3,464.1 L1802.8,465.4 L1804.7,466.7 L1806.6,465.7 L1808.5,467.0 L1810.4,468.5 L1812.4,466.6 L1814.4,466.6 L1816.4,463.9 L1818.4,465.1 L1820.5,464.4 L1822.5,464.0 L1824.5,463.3 L1826.5,461.0 L1828.5,459.9 L1829.4,457.7 L1830.2,455.5 L1831.1,453.3 L1832.0,451.1 L1832.5,449.1 L1833.1,447.0 L1833.7,445.0 L1834.2,442.9 L1834.8,440.9 L1835.4,438.8 L1835.9,436.8 L1836.5,434.7 L1836.7,432.7 L1837.0,430.8 L1837.2,428.8 L1837.4,426.8 L1837.7,424.8 L1837.9,422.9 L1838.1,420.9 L1838.3,418.9 L1838.6,416.9 L1838.8,415.0 L1839.0,413.0 L1839.3,411.0 L1839.4,409.1 L1839.5,407.2 L1839.7,405.3 L1839.8,403.3 L1840.0,401.4 L1840.1,399.5 L1840.3,397.6 L1840.4,395.7 L1840.5,393.7 L1840.7,391.8 L1840.8,389.9 L1841.0,388.0 L1841.1,386.1 L1841.3,384.1 L1841.4,382.2 L1841.6,380.3 L1841.7,378.4 L1841.8,376.5 L1842.0,374.6 L1842.1,372.6 L1842.2,370.7 L1842.3,368.8 L1842.4,366.9 L1842.5,365.0 L1842.6,363.0 L1842.7,361.1 L1842.8,359.2 L1842.9,357.3 L1842.9,355.4 L1843.0,353.4 L1843.1,351.5 L1843.2,349.6 L1843.3,347.7 L1843.4,345.8 L1843.5,343.8 L1843.6,341.9 L1843.7,340.0 L1843.8,338.1 L1843.9,336.2 L1844.0,334.3 L1844.1,332.3 L1844.2,330.4 L1844.3,328.5 L1844.4,326.6 L1844.5,324.7 L1844.6,322.7 L1844.7,320.8 L1844.8,318.9 L1844.9,317.0 L1845.0,315.1 L1845.1,313.1 L1845.2,311.2 L1845.2,309.3 L1845.3,307.4 L1845.4,305.5 L1845.5,303.5 L1845.6,301.6 L1845.8,299.7 L1845.9,297.7 L1846.0,295.8 L1846.2,293.8 L1846.3,291.9 L1846.4,289.9 L1846.5,288.0 L1846.7,286.0 L1846.8,284.0 L1846.9,282.1 L1847.1,280.1 L1847.2,278.2 L1847.3,276.2 L1847.5,274.3 L1847.8,272.2 L1848.2,270.1 L1848.6,267.9 L1849.0,265.8 L1849.4,263.7 L1849.8,261.6 L1850.2,259.5 L1850.5,261.6 L1850.9,263.7 L1851.2,265.7 L1851.6,267.8 L1851.9,269.9 L1852.2,272.0 L1852.6,274.0 L1852.9,276.1 L1853.0,278.0 L1853.2,280.0 L1853.3,281.9 L1853.4,283.9 L1853.5,285.8 L1853.7,287.8 L1853.8,289.7 L1853.9,291.7 L1854.0,293.6 L1854.1,295.5 L1854.3,297.5 L1854.4,299.4 L1854.5,301.4 L1854.6,303.3 L1854.7,305.3 L1854.9,307.2 L1855.0,309.1 L1855.1,311.1 L1855.2,313.0 L1855.3,314.9 L1855.4,316.9 L1855.5,318.8 L1855.6,320.7 L1855.7,322.6 L1855.8,324.6 L1855.9,326.5 L1856.0,328.4 L1856.1,330.4 L1856.3,332.3 L1856.4,334.2 L1856.5,336.2 L1856.6,338.1 L1856.7,340.0 L1856.8,341.9 L1856.9,343.8 L1857.0,345.8 L1857.1,347.7 L1857.1,349.6 L1857.2,351.5 L1857.3,353.4 L1857.4,355.4 L1857.5,357.3 L1857.6,359.2 L1857.7,361.1 L1857.8,363.0 L1857.9,365.0 L1858.0,366.9 L1858.1,368.8 L1858.2,370.7 L1858.3,372.6 L1858.4,374.6 L1858.6,376.5 L1858.7,378.4 L1858.9,380.3 L1859.0,382.3 L1859.2,384.2 L1859.4,386.1 L1859.5,388.1 L1859.7,390.0 L1859.8,391.9 L1860.0,393.9 L1860.2,395.8 L1860.3,397.7 L1860.5,399.6 L1860.6,401.6 L1860.8,403.5 L1861.0,405.4 L1861.1,407.4 L1861.5,409.4 L1861.9,411.4 L1862.2,413.4 L1862.6,415.4 L1863.0,417.4 L1863.3,419.4 L1863.7,421.4 L1864.0,423.4 L1864.4,425.4 L1864.8,427.4 L1865.6,429.2 L1866.3,431.1 L1867.1,432.9 L1867.9,434.7 L1868.7,436.5 L1869.5,438.4 L1870.2,440.2 L1870.9,442.0 L1871.5,443.8 L1872.2,445.7 L1872.9,447.5 L1873.5,449.3 L1874.2,451.1 L1874.8,452.3 L1876.1,455.6 L1877.4,456.8 L1878.6,459.0 L1879.9,460.2 L1881.2,461.9 L1882.6,464.8 L1883.9,466.6 L1885.3,468.0 L1886.7,469.7 L1888.2,468.8 L1889.8,466.3 L1891.4,464.9 L1893.0,463.9 L1894.1,462.1 L1895.2,460.2 L1896.2,458.4 L1897.3,456.6 L1898.4,454.8 L1899.4,452.9 L1899.9,450.9 L1900.5,448.8 L1901.0,446.7 L1901.5,444.6 L1902.0,442.5 L1902.5,440.4 L1903.1,438.4 L1903.4,436.3 L1903.7,434.3 L1904.1,432.2 L1904.4,430.2 L1904.8,428.1 L1905.1,426.1 L1905.5,424.0 L1905.8,422.0 L1906.1,419.9 L1906.4,417.9 L1906.7,415.9 L1907.0,413.9 L1907.3,411.8 L1907.6,409.8 L1907.9,407.8 L1908.2,405.7 L1908.5,403.7 L1908.9,401.6 L1909.3,399.6 L1909.7,397.5 L1910.1,395.4 L1910.5,393.3 L1910.9,391.2 L1911.3,388.3 L1912.9,386.8 L1914.5,384.6 L1915.6,386.7 L1916.6,388.8 L1917.6,391.0 L1917.9,393.0 L1918.1,395.0 L1918.4,397.0 L1918.6,399.0 L1918.8,401.0 L1919.1,403.0 L1919.3,405.0 L1919.5,407.0 L1919.8,409.0 L1920.0,411.0 L1920.2,413.0 L1920.4,415.0 L1920.6,416.9 L1920.7,418.9 L1920.9,420.9 L1921.1,422.9 L1921.3,424.8 L1921.5,426.8 L1921.7,428.8 L1921.8,430.8 L1922.0,432.7 L1922.2,434.7 L1922.4,436.7 L1922.6,438.8 L1922.8,440.8 L1923.0,442.8 L1923.2,444.8 L1923.4,446.9 L1923.6,448.9 L1923.8,450.9 L1924.0,452.9 L1924.3,454.9 L1924.6,456.9 L1924.8,458.8 L1925.1,460.8 L1925.3,462.7 L1925.6,464.7 L1925.9,466.6" fill="none" stroke="#35aa6b" stroke-width="7.0" stroke-linejoin="round" stroke-linecap="butt" shape-rendering="crispEdges"/>
<path d="M390.6,470.0 L392.6,468.2 L394.6,466.7 L396.6,466.0 L398.5,465.0 L400.4,464.3 L402.3,464.4 L404.2,464.8 L406.7,464.2 L409.2,463.8 L411.7,462.4 L413.8,462.6 L415.9,461.7 L418.0,461.1 L420.0,460.6 L422.3,461.5 L424.6,463.5 L426.8,463.9 L429.3,464.1 L431.9,464.3 L434.4,463.4 L436.6,463.6 L438.9,464.2 L441.2,464.5 L443.4,464.7 L445.7,464.9 L448.0,463.5 L450.2,464.7 L452.0,466.3 L453.8,467.5 L455.5,468.3 L457.5,467.5 L459.6,465.3 L461.6,465.6 L463.6,464.4 L465.6,462.6 L467.6,461.0 L469.9,461.7 L472.1,460.6 L474.4,460.7 L476.7,461.2 L478.9,461.1 L481.2,461.6 L483.2,462.9 L485.2,463.6 L487.3,464.1 L489.8,464.8 L492.3,466.2 L494.8,465.0 L496.7,465.5 L498.6,467.1 L500.5,466.9 L502.4,467.8 L504.2,467.3 L506.1,466.5 L508.0,467.4 L509.9,465.3 L511.9,466.1 L513.9,466.1 L516.0,467.3 L517.7,467.6 L519.5,468.7 L521.2,470.5 L523.5,469.2 L525.8,469.1 L528.0,469.3 L529.9,467.0 L531.8,466.1 L533.7,465.7 L535.6,466.0 L537.7,465.2 L539.7,463.8 L541.8,463.5 L543.9,462.6 L545.7,464.2 L547.4,464.3 L549.2,466.6 L551.5,467.6 L553.7,468.2 L556.0,468.2 L558.2,468.9 L560.5,467.3 L562.8,468.1 L564.7,468.9 L566.6,467.9 L568.4,466.6 L570.3,467.1 L572.6,466.7 L574.9,467.4 L577.1,466.6 L579.2,465.8 L581.3,465.8 L583.4,464.6 L585.4,464.5 L587.7,465.5 L590.0,464.0 L592.2,463.2 L594.5,463.1 L596.4,463.7 L598.3,465.3 L600.2,464.8 L602.1,465.1 L604.1,465.2 L606.1,467.5 L608.1,466.9 L610.1,466.7 L612.1,466.6 L614.1,466.9 L616.0,466.7 L617.9,467.4 L619.8,465.9 L621.7,465.3 L624.0,465.7 L626.2,464.6 L628.5,465.6 L630.8,463.2 L633.3,464.0 L635.8,464.5 L638.3,463.8 L640.2,465.3 L642.1,464.7 L644.0,464.6 L645.9,465.3 L648.4,464.6 L650.9,465.3 L653.4,465.0 L655.9,466.0 L658.4,465.7 L661.0,464.7 L663.1,463.5 L665.2,463.6 L667.3,463.3 L669.4,463.0 L671.5,462.7 L673.5,464.5 L675.5,463.5 L677.6,463.9 L679.8,466.0 L682.1,465.7 L684.4,466.9 L686.6,466.1 L689.1,466.8 L691.7,466.1 L694.2,466.1 L696.7,466.0 L699.2,465.5 L701.7,464.7 L703.6,464.4 L705.5,465.1 L707.4,464.6 L709.3,464.1 L711.3,463.7 L713.3,465.1 L715.3,466.1 L717.6,466.9 L719.8,468.4 L722.0,467.9 L724.1,468.1 L726.2,468.2 L728.3,467.3 L730.4,468.6 L732.7,468.3 L735.0,466.2 L737.2,467.6 L739.5,467.2 L742.0,466.9 L744.5,465.9 L747.0,467.8 L749.1,465.0 L751.1,465.5 L753.1,463.6 L755.1,461.6 L757.1,461.1 L759.1,461.3 L761.0,460.8 L762.9,460.7 L764.8,460.7 L766.7,458.9 L768.7,459.2 L770.7,461.8 L772.7,460.8 L774.7,463.5 L776.7,463.0 L778.8,465.4 L780.8,465.1 L782.8,465.0 L784.8,464.1 L786.8,466.0 L788.8,465.9 L790.8,468.1 L793.4,467.7 L795.9,469.1 L798.4,469.1 L800.3,468.1 L802.2,467.8 L804.1,466.5 L806.0,466.1 L808.5,467.5 L811.0,467.5 L813.5,468.5 L815.4,467.4 L817.3,465.9 L819.2,465.8 L821.1,465.5 L822.3,463.5 L823.6,461.5 L824.8,459.5 L825.2,457.5 L825.5,455.6 L825.8,453.7 L826.1,451.7 L826.5,449.8 L826.8,447.8 L827.1,445.9 L827.3,443.9 L827.5,441.9 L827.7,439.8 L827.9,437.8 L828.0,435.8 L828.2,433.8 L828.4,431.8 L828.6,429.8 L828.8,427.8 L829.0,425.8 L829.2,423.7 L829.4,421.7 L829.6,419.7 L829.8,417.6 L830.0,415.5 L830.2,413.5 L830.4,411.4 L830.6,409.4 L830.8,407.3 L831.0,405.2 L831.2,403.2 L831.4,401.1 L831.6,399.1 L832.0,397.1 L832.3,395.2 L832.6,393.2 L832.9,391.3 L833.2,389.4 L833.6,387.4 L833.9,385.4 L835.4,384.0 L836.9,381.7 L837.9,384.0 L838.9,386.2 L839.9,388.5 L840.2,390.5 L840.4,392.5 L840.7,394.5 L840.9,396.5 L841.2,398.6 L841.5,400.6 L841.7,402.6 L842.0,404.6 L842.2,406.6 L842.4,408.7 L842.6,410.7 L842.8,412.8 L843.0,414.9 L843.2,416.9 L843.4,419.0 L843.6,421.0 L843.9,423.1 L844.1,425.2 L844.3,427.2 L844.5,429.3 L844.7,431.3 L844.9,433.4 L845.1,435.5 L845.3,437.5 L845.5,439.6 L845.7,441.6 L845.9,443.7 L846.1,445.8 L846.3,447.8 L846.5,449.9 L846.7,451.9 L847.1,454.1 L847.4,456.3 L847.7,458.4 L848.0,460.6 L848.4,462.7 L848.7,464.9 L849.0,466.1 L851.3,469.1 L853.5,470.0 L855.8,469.4 L858.1,468.9 L860.3,468.7 L862.3,466.9 L864.4,467.5 L866.4,467.0 L868.6,466.4 L870.9,466.4 L872.8,466.6 L874.7,467.6 L876.6,466.5 L878.5,468.1 L880.3,468.5 L882.2,469.0 L884.1,469.2 L886.0,470.0 L888.3,467.4 L890.5,467.1 L892.6,466.3 L894.6,467.0 L896.6,467.8 L898.5,466.9 L900.4,465.5 L902.3,464.8 L904.1,464.4 L905.6,463.3 L907.2,462.2 L908.7,459.5 L909.7,457.2 L910.7,455.0 L911.7,453.3 L914.3,451.5 L917.0,451.2 L917.9,452.9 L918.9,454.6 L919.8,456.3 L920.8,458.4 L922.3,460.2 L923.8,461.7 L925.3,464.9 L927.2,464.6 L929.1,464.1 L931.0,464.3 L932.8,466.5 L934.7,466.1 L936.6,465.6 L938.5,464.6 L940.4,463.6 L942.3,462.6 L944.2,462.4 L946.1,461.8 L947.9,462.6 L949.8,463.1 L951.7,463.4 L953.6,462.8 L955.5,463.5 L957.4,463.1 L959.3,463.8 L961.2,461.6 L963.1,462.3 L964.9,463.2 L966.8,464.1 L968.7,466.0 L970.6,465.8 L972.6,465.0 L974.6,463.1 L976.6,461.7 L978.4,460.0 L980.1,459.1 L981.9,457.2 L983.4,455.8 L984.9,456.4 L986.4,453.7 L988.2,456.5 L990.0,457.6 L991.7,458.7 L992.8,460.4 L993.8,462.0 L994.9,463.7 L996.0,465.3 L997.0,467.1 L999.3,467.6 L1001.5,468.0 L1003.8,467.9 L1005.8,467.8 L1007.8,467.1 L1009.8,468.5 L1012.1,468.2 L1014.4,467.9 L1016.6,468.6 L1018.4,469.0 L1020.2,466.8 L1021.9,466.0 L1023.9,465.1 L1026.0,464.0 L1028.0,461.4 L1030.2,460.0 L1032.5,458.5 L1034.3,456.8 L1036.0,457.4 L1037.8,454.7 L1040.4,457.5 L1043.1,456.8 L1044.8,458.0 L1046.6,460.5 L1048.4,461.6 L1049.9,462.2 L1051.4,464.6 L1052.9,466.2 L1055.5,467.4 L1058.2,467.1 L1060.2,467.9 L1062.2,467.8 L1064.2,466.7 L1065.7,465.8 L1067.3,464.6 L1068.8,462.2 L1070.6,462.4 L1072.5,461.6 L1074.6,462.1 L1076.6,462.2 L1078.6,464.2 L1080.3,465.8 L1082.1,465.6 L1083.9,467.3 L1085.9,467.0 L1087.9,465.7 L1089.9,463.8 L1092.2,463.9 L1094.4,462.0 L1096.5,463.4 L1098.5,463.3 L1100.5,462.8 L1103.1,463.6 L1105.8,462.7 L1108.4,462.9 L1111.1,464.7 L1113.3,465.1 L1115.6,465.5 L1117.1,463.7 L1118.6,461.5 L1120.1,459.9 L1121.9,458.7 L1123.6,457.5 L1125.4,457.4 L1127.2,455.1 L1128.9,453.6 L1130.7,453.8 L1132.7,452.9 L1134.7,452.5 L1136.7,452.1 L1138.2,449.6 L1139.8,447.8 L1141.3,446.6 L1142.2,444.7 L1143.2,442.8 L1144.1,441.0 L1145.0,439.1 L1145.4,437.1 L1145.7,435.2 L1146.0,433.2 L1146.3,431.3 L1146.7,429.4 L1147.0,427.4 L1147.3,425.5 L1147.7,423.5 L1148.1,421.4 L1148.4,419.4 L1148.8,417.4 L1149.2,415.4 L1149.6,413.4 L1150.0,411.1 L1150.1,409.2 L1150.2,407.2 L1150.3,405.2 L1150.4,403.3 L1150.6,401.3 L1150.7,399.4 L1150.8,397.4 L1150.9,395.4 L1151.0,393.5 L1151.1,391.5 L1151.2,389.5 L1151.3,387.6 L1151.4,385.6 L1151.5,383.7 L1151.6,381.7 L1151.7,379.7 L1151.8,377.8 L1151.9,375.8 L1152.0,373.9 L1152.1,371.9 L1152.2,369.9 L1152.3,368.0 L1152.4,366.0 L1152.5,364.0 L1152.6,362.1 L1152.7,360.1 L1152.8,358.2 L1152.9,356.2 L1153.0,354.2 L1153.1,352.3 L1153.2,350.3 L1153.3,348.3 L1153.4,346.4 L1153.5,344.4 L1153.7,342.5 L1153.8,340.5 L1153.9,338.6 L1154.1,336.6 L1154.2,334.7 L1154.3,332.7 L1154.5,330.8 L1154.6,328.8 L1154.7,326.9 L1154.8,324.9 L1155.0,323.0 L1155.1,321.0 L1155.2,319.1 L1155.4,317.1 L1155.5,315.2 L1155.6,313.2 L1155.8,311.3 L1155.9,309.3 L1156.0,307.4 L1156.1,305.4 L1156.3,303.5 L1156.4,301.5 L1156.5,299.6 L1156.7,297.6 L1156.8,295.7 L1156.9,293.7 L1157.1,291.7 L1157.2,289.8 L1157.4,287.8 L1157.5,285.9 L1157.6,283.9 L1157.8,282.0 L1157.9,280.0 L1158.1,278.1 L1158.2,276.1 L1158.4,274.2 L1158.5,272.2 L1158.7,270.3 L1158.8,268.3 L1159.0,266.4 L1159.1,264.4 L1159.3,262.5 L1159.4,260.5 L1159.5,258.6 L1159.7,256.6 L1159.9,254.6 L1160.2,252.5 L1160.4,250.4 L1160.6,248.3 L1160.9,246.3 L1161.1,244.2 L1161.4,242.1 L1161.6,240.0 L1161.8,238.0 L1162.1,235.9 L1162.3,233.8 L1163.2,231.8 L1164.1,229.9 L1165.0,227.9 L1165.8,225.9 L1166.3,227.8 L1166.8,229.7 L1167.3,231.6 L1167.8,233.4 L1168.3,235.3 L1168.8,237.2 L1169.3,239.1 L1169.5,241.1 L1169.8,243.1 L1170.0,245.2 L1170.2,247.2 L1170.4,249.2 L1170.6,251.2 L1170.8,253.3 L1171.0,255.3 L1171.2,257.3 L1171.4,259.3 L1171.6,261.4 L1171.8,263.4 L1172.0,265.4 L1172.1,267.4 L1172.3,269.3 L1172.4,271.3 L1172.6,273.2 L1172.7,275.2 L1172.9,277.1 L1173.0,279.1 L1173.2,281.0 L1173.3,283.0 L1173.4,284.9 L1173.6,286.9 L1173.7,288.8 L1173.9,290.8 L1174.0,292.7 L1174.2,294.7 L1174.3,296.6 L1174.5,298.6 L1174.6,300.5 L1174.8,302.5 L1175.0,304.5 L1175.2,306.5 L1175.4,308.5 L1175.6,310.5 L1175.8,312.5 L1176.0,314.5 L1176.2,316.5 L1176.4,318.5 L1176.6,320.5 L1176.8,322.5 L1177.0,324.5 L1177.2,326.5 L1177.4,328.5 L1177.6,330.5 L1177.8,332.4 L1178.0,334.4 L1178.2,336.4 L1178.4,338.4 L1178.6,340.4 L1178.8,342.4 L1179.0,344.4 L1179.2,346.4 L1179.5,348.3 L1179.7,350.3 L1180.0,352.2 L1180.2,354.2 L1180.5,356.1 L1180.7,358.1 L1181.0,360.0 L1181.2,362.0 L1181.4,363.9 L1181.7,365.9 L1181.9,367.8 L1182.2,369.8 L1182.4,371.7 L1182.7,373.7 L1182.9,375.6 L1183.1,377.6 L1183.4,379.5 L1183.6,381.5 L1183.8,383.5 L1184.1,385.5 L1184.3,387.4 L1184.5,389.4 L1184.7,391.4 L1184.9,393.4 L1185.1,395.3 L1185.4,397.3 L1185.6,399.3 L1185.8,401.3 L1186.0,403.2 L1186.2,405.2 L1186.5,407.2 L1186.7,409.2 L1186.9,411.1 L1187.3,413.4 L1187.7,415.4 L1188.1,417.4 L1188.5,419.4 L1188.9,421.4 L1189.2,423.5 L1189.6,425.5 L1190.0,427.4 L1190.4,429.2 L1190.7,431.1 L1191.1,433.0 L1191.5,434.9 L1191.9,436.8 L1192.3,438.7 L1192.6,440.6 L1193.2,442.7 L1193.8,444.8 L1194.4,446.9 L1195.0,449.0 L1195.6,451.1 L1196.6,453.0 L1197.5,454.9 L1198.5,456.8 L1199.4,458.5 L1200.9,459.9 L1202.4,463.0 L1204.0,465.1 L1206.6,466.1 L1209.2,467.0 L1211.8,467.1 L1214.3,467.4 L1216.8,466.1 L1218.8,466.6 L1220.8,465.8 L1222.8,465.5 L1224.7,467.2 L1226.6,466.7 L1228.5,467.1 L1230.4,467.3 L1232.7,467.9 L1234.9,467.0 L1236.8,466.5 L1238.7,463.9 L1241.0,465.9 L1243.2,464.6 L1245.5,466.0 L1248.0,465.6 L1250.5,465.3 L1253.1,465.1 L1256.0,466.0 L1258.1,466.3 L1260.1,465.3 L1262.1,464.8 L1263.8,463.2 L1265.6,463.0 L1267.4,461.1 L1269.1,462.7 L1270.9,464.0 L1272.7,464.8 L1274.4,465.9 L1276.2,466.9 L1277.9,467.2 L1280.0,468.5 L1282.1,467.8 L1284.2,467.7 L1286.3,467.9 L1288.5,466.9 L1290.8,466.7 L1293.1,466.6 L1295.3,466.6 L1297.3,465.9 L1299.3,465.1 L1301.4,464.2 L1303.6,464.3 L1305.9,463.6 L1308.2,463.3 L1310.4,463.6 L1312.4,463.4 L1314.5,465.0 L1316.5,465.3 L1318.4,464.8 L1320.2,466.2 L1322.1,465.2 L1324.0,465.4 L1326.0,468.0 L1328.0,466.8 L1330.1,467.5 L1331.9,468.9 L1333.8,466.8 L1335.7,467.7 L1337.6,467.1 L1339.6,467.5 L1341.6,468.5 L1343.7,471.0 L1345.7,469.1 L1347.7,468.0 L1349.7,467.6 L1351.2,466.7 L1352.7,464.3 L1354.2,462.4 L1356.0,462.1 L1357.8,458.9 L1359.5,457.1 L1361.8,457.0 L1364.0,458.9 L1366.3,457.8 L1368.3,459.4 L1370.3,460.1 L1372.4,461.9 L1374.4,462.2 L1376.4,463.7 L1378.4,465.9 L1380.4,465.5 L1382.4,467.2 L1384.4,469.0 L1387.0,468.4 L1389.5,468.0 L1392.0,468.6 L1394.0,467.1 L1396.0,467.2 L1398.0,466.0 L1400.7,465.0 L1403.3,465.5 L1404.5,467.6 L1405.6,469.7 L1406.7,471.7 L1407.9,473.1 L1409.4,472.2 L1410.9,471.3 L1412.4,469.3 L1413.5,467.4 L1414.7,465.5 L1415.8,463.6 L1416.9,462.5 L1419.6,461.1 L1422.2,461.8 L1424.0,461.9 L1425.7,465.3 L1427.5,467.0 L1429.3,468.7 L1431.0,469.9 L1432.8,471.2 L1434.5,469.6 L1436.3,469.2 L1438.1,468.5 L1440.3,468.2 L1442.6,468.5 L1444.9,469.4 L1446.6,469.3 L1448.4,470.7 L1450.2,471.4 L1451.9,471.5 L1453.7,469.5 L1455.4,468.1 L1457.7,466.1 L1460.0,464.9 L1461.9,465.8 L1463.7,467.0 L1465.3,467.2 L1466.8,468.6 L1468.3,469.9 L1469.8,469.0 L1471.3,465.8 L1472.8,464.7 L1473.3,462.7 L1473.8,460.7 L1474.3,458.7 L1474.8,456.7 L1475.3,454.7 L1475.8,452.7 L1476.0,450.7 L1476.2,448.8 L1476.4,446.9 L1476.7,445.0 L1476.9,443.0 L1477.1,441.1 L1477.3,439.2 L1477.5,437.3 L1477.7,435.4 L1477.9,433.4 L1478.1,431.5 L1478.4,429.4 L1478.6,427.4 L1478.9,425.3 L1479.2,423.2 L1479.4,421.2 L1479.5,419.2 L1479.5,417.2 L1479.6,415.3 L1479.7,413.3 L1479.7,411.3 L1479.8,409.4 L1479.8,407.4 L1479.9,405.5 L1480.0,403.5 L1480.0,401.5 L1480.1,399.6 L1480.2,397.6 L1480.2,395.6 L1480.3,393.7 L1480.3,391.7 L1480.4,389.7 L1480.5,387.8 L1480.5,385.8 L1480.6,383.8 L1480.6,381.9 L1480.7,379.9 L1480.8,378.0 L1480.8,376.0 L1480.9,374.0 L1481.0,372.1 L1481.0,370.1 L1481.1,368.1 L1481.1,366.2 L1481.2,364.2 L1481.3,362.2 L1481.3,360.3 L1481.4,358.3 L1481.4,356.3 L1481.5,354.4 L1481.6,352.5 L1481.7,350.6 L1481.7,348.6 L1481.8,346.7 L1481.9,344.8 L1482.0,342.8 L1482.0,340.9 L1482.1,339.0 L1482.2,337.1 L1482.2,335.1 L1482.3,333.2 L1482.4,331.3 L1482.5,329.3 L1482.5,327.4 L1482.6,325.5 L1482.7,323.5 L1482.7,321.6 L1482.8,319.7 L1482.9,317.8 L1483.0,315.8 L1483.0,313.9 L1483.1,312.0 L1483.2,310.0 L1483.3,308.1 L1483.3,306.2 L1483.4,304.3 L1483.5,302.3 L1483.5,300.4 L1483.5,298.4 L1483.5,296.4 L1483.6,294.4 L1483.6,292.5 L1483.6,290.5 L1483.7,288.5 L1483.7,286.5 L1483.7,284.6 L1483.7,282.6 L1483.8,280.6 L1483.8,278.7 L1483.8,276.7 L1483.8,274.7 L1483.9,272.7 L1483.9,270.8 L1483.9,268.8 L1483.9,266.8 L1484.0,264.8 L1484.0,262.9 L1484.0,260.9 L1484.0,258.9 L1484.1,256.9 L1484.1,255.0 L1484.1,253.0 L1484.2,251.0 L1484.2,249.1 L1484.2,247.1 L1484.2,245.1 L1484.3,243.1 L1484.3,241.2 L1484.3,239.2 L1484.4,237.2 L1484.5,235.3 L1484.5,233.3 L1484.6,231.4 L1484.6,229.4 L1484.7,227.5 L1484.7,225.5 L1484.8,223.5 L1484.9,221.6 L1484.9,219.6 L1485.0,217.7 L1485.0,215.7 L1485.1,213.8 L1485.1,211.8 L1485.2,209.8 L1485.3,207.9 L1485.3,205.9 L1485.4,204.0 L1485.4,202.0 L1485.5,200.0 L1485.5,198.1 L1485.6,196.1 L1485.7,194.2 L1485.7,192.2 L1485.8,190.3 L1485.8,188.3 L1485.9,186.3 L1485.9,184.4 L1486.0,182.4 L1486.1,180.5 L1486.1,178.5 L1486.2,176.5 L1486.2,174.6 L1486.3,172.6 L1486.3,170.7 L1486.4,168.7 L1486.5,166.8 L1486.5,164.8 L1486.6,162.8 L1486.6,160.9 L1486.6,159.0 L1486.7,157.1 L1486.7,155.1 L1486.7,153.2 L1486.8,151.3 L1486.8,149.3 L1486.8,147.4 L1486.9,145.5 L1486.9,143.5 L1486.9,141.6 L1487.0,139.7 L1487.0,137.8 L1487.0,135.8 L1487.1,133.9 L1487.1,132.0 L1487.2,130.0 L1487.2,128.1 L1487.2,126.2 L1487.3,124.3 L1487.3,122.3 L1487.3,120.4 L1487.4,118.5 L1487.4,116.5 L1487.4,114.6 L1487.5,112.7 L1487.5,110.8 L1487.5,108.8 L1487.7,106.8 L1487.8,104.8 L1487.9,102.7 L1488.1,100.7 L1488.2,98.7 L1488.3,96.7 L1488.5,94.6 L1488.6,92.6 L1488.7,90.6 L1488.9,88.6 L1489.3,86.1 L1489.8,83.7 L1490.2,81.3 L1490.7,83.7 L1491.1,86.1 L1491.6,88.6 L1491.7,90.6 L1491.8,92.6 L1492.0,94.6 L1492.1,96.7 L1492.2,98.7 L1492.4,100.7 L1492.5,102.7 L1492.7,104.8 L1492.8,106.8 L1492.9,108.8 L1493.0,110.8 L1493.0,112.7 L1493.1,114.6 L1493.1,116.5 L1493.2,118.5 L1493.2,120.4 L1493.3,122.3 L1493.3,124.3 L1493.4,126.2 L1493.4,128.1 L1493.5,130.0 L1493.5,132.0 L1493.6,133.9 L1493.6,135.8 L1493.6,137.8 L1493.7,139.7 L1493.7,141.6 L1493.8,143.5 L1493.8,145.5 L1493.9,147.4 L1493.9,149.3 L1494.0,151.3 L1494.0,153.2 L1494.1,155.1 L1494.1,157.1 L1494.2,159.0 L1494.2,160.9 L1494.3,162.8 L1494.3,164.8 L1494.4,166.8 L1494.4,168.7 L1494.4,170.7 L1494.5,172.6 L1494.5,174.6 L1494.6,176.5 L1494.6,178.5 L1494.7,180.5 L1494.7,182.4 L1494.8,184.4 L1494.8,186.3 L1494.8,188.3 L1494.9,190.3 L1494.9,192.2 L1495.0,194.2 L1495.0,196.1 L1495.1,198.1 L1495.1,200.0 L1495.2,202.0 L1495.2,204.0 L1495.2,205.9 L1495.3,207.9 L1495.3,209.8 L1495.4,211.8 L1495.4,213.8 L1495.5,215.7 L1495.5,217.7 L1495.5,219.6 L1495.6,221.6 L1495.6,223.5 L1495.7,225.5 L1495.7,227.5 L1495.8,229.4 L1495.8,231.4 L1495.9,233.3 L1495.9,235.3 L1495.9,237.2 L1496.0,239.2 L1496.0,241.2 L1496.1,243.1 L1496.1,245.1 L1496.2,247.1 L1496.2,249.1 L1496.3,251.0 L1496.3,253.0 L1496.4,255.0 L1496.4,256.9 L1496.5,258.9 L1496.6,260.9 L1496.6,262.9 L1496.7,264.8 L1496.7,266.8 L1496.8,268.8 L1496.8,270.8 L1496.9,272.7 L1496.9,274.7 L1497.0,276.7 L1497.0,278.7 L1497.1,280.6 L1497.1,282.6 L1497.2,284.6 L1497.2,286.5 L1497.3,288.5 L1497.3,290.5 L1497.4,292.5 L1497.4,294.4 L1497.5,296.4 L1497.5,298.4 L1497.6,300.4 L1497.7,302.3 L1497.7,304.3 L1497.7,306.2 L1497.8,308.1 L1497.8,310.0 L1497.9,312.0 L1497.9,313.9 L1498.0,315.8 L1498.0,317.8 L1498.1,319.7 L1498.1,321.6 L1498.2,323.5 L1498.2,325.5 L1498.3,327.4 L1498.3,329.3 L1498.4,331.3 L1498.4,333.2 L1498.5,335.1 L1498.5,337.1 L1498.6,339.0 L1498.6,340.9 L1498.7,342.8 L1498.7,344.8 L1498.8,346.7 L1498.8,348.6 L1498.9,350.6 L1498.9,352.5 L1499.0,354.4 L1499.0,356.3 L1499.1,358.3 L1499.1,360.3 L1499.2,362.2 L1499.2,364.2 L1499.3,366.2 L1499.4,368.1 L1499.4,370.1 L1499.5,372.1 L1499.6,374.0 L1499.6,376.0 L1499.7,378.0 L1499.7,379.9 L1499.8,381.9 L1499.9,383.8 L1499.9,385.8 L1500.0,387.8 L1500.0,389.7 L1500.1,391.7 L1500.2,393.7 L1500.2,395.6 L1500.3,397.6 L1500.4,399.6 L1500.4,401.5 L1500.5,403.5 L1500.5,405.5 L1500.6,407.4 L1500.7,409.4 L1500.7,411.3 L1500.8,413.3 L1500.8,415.3 L1500.9,417.2 L1501.0,419.2 L1501.0,421.2 L1501.3,423.2 L1501.5,425.2 L1501.8,427.3 L1502.0,429.3 L1502.3,431.4 L1502.5,433.4 L1502.8,435.4 L1503.0,437.5 L1503.3,439.5 L1503.5,441.6 L1503.8,443.6 L1504.1,445.7 L1504.3,447.8 L1504.6,449.8 L1504.9,451.9 L1505.2,454.0 L1505.5,456.1 L1505.8,458.1 L1506.0,460.2 L1507.0,462.2 L1508.1,464.2 L1509.1,465.6 L1511.3,467.1 L1513.6,466.9 L1515.9,468.0 L1518.4,467.5 L1520.9,466.6 L1523.4,467.8 L1525.3,466.4 L1527.2,466.8 L1529.1,465.5 L1531.0,465.7 L1532.5,463.3 L1534.0,460.3 L1535.5,458.5 L1537.8,459.7 L1540.0,458.3 L1541.5,459.8 L1543.0,461.1 L1544.5,461.4 L1546.1,463.4 L1547.6,464.5 L1549.1,464.6 L1551.1,465.1 L1553.1,465.4 L1555.1,464.1 L1557.4,466.1 L1559.6,466.1 L1561.7,466.1 L1563.7,465.5 L1565.7,464.9 L1567.9,465.4 L1570.2,464.7 L1571.7,463.6 L1573.2,462.3 L1574.7,461.3 L1576.8,461.6 L1578.8,461.8 L1580.8,462.0 L1583.1,463.2 L1585.3,462.2 L1586.8,464.2 L1588.3,464.5 L1589.8,467.2 L1591.7,464.6 L1593.6,463.8 L1595.6,465.2 L1597.7,467.8 L1599.7,469.0 L1601.9,467.5 L1604.2,467.0 L1606.5,467.5 L1608.7,466.1 L1611.0,465.5 L1612.1,463.6 L1613.3,462.2 L1615.9,463.2 L1618.5,464.6 L1620.6,463.6 L1622.6,465.0 L1624.6,464.8 L1626.6,466.4 L1628.6,466.5 L1630.6,467.2 L1632.5,468.3 L1634.4,467.8 L1637.1,468.0 L1639.7,465.6 L1641.7,464.8 L1643.7,464.8 L1645.7,462.8 L1648.0,462.8 L1650.3,463.8 L1652.0,464.4 L1653.8,465.9 L1655.6,467.0 L1657.8,467.2 L1660.1,465.4 L1662.4,466.0 L1663.9,463.9 L1665.4,461.3 L1668.0,462.5 L1670.7,461.5 L1673.3,461.4 L1676.0,458.6 L1678.0,460.1 L1680.0,461.2 L1682.0,462.3 L1684.3,462.2 L1686.5,463.5 L1688.8,462.8 L1690.3,464.5 L1691.8,465.6 L1693.3,467.1 L1694.8,469.8 L1696.3,472.3 L1697.9,473.2 L1699.7,474.2 L1701.6,474.4 L1702.9,473.8 L1704.1,471.0 L1705.4,469.9 L1708.1,469.5 L1710.7,471.6 L1713.0,468.7 L1715.2,467.8 L1717.2,468.0 L1719.3,467.1 L1721.3,466.3 L1723.3,466.3 L1725.4,465.6 L1727.5,466.0 L1729.6,465.3 L1731.3,466.6 L1733.0,467.8 L1734.7,468.0 L1736.4,469.8 L1738.4,469.4 L1740.4,469.2 L1742.4,466.9 L1744.7,467.9 L1746.9,467.6 L1749.2,467.9 L1751.5,467.5 L1753.7,467.1 L1756.0,465.5 L1757.1,463.8 L1758.3,462.1 L1759.4,460.4 L1760.5,459.2 L1762.6,456.9 L1764.6,456.6 L1766.6,455.1 L1768.1,456.0 L1769.6,458.5 L1771.1,459.5 L1772.1,461.5 L1773.0,463.6 L1774.0,465.7 L1774.9,467.0 L1777.2,468.9 L1779.4,468.1 L1781.7,468.5 L1783.2,468.3 L1784.7,465.4 L1786.2,463.7 L1787.7,462.3 L1790.0,464.4 L1792.3,464.9 L1794.5,463.6 L1796.8,461.6 L1798.3,463.3 L1799.8,465.6 L1801.3,466.7 L1802.8,468.0 L1804.7,469.3 L1806.6,468.3 L1808.5,469.6 L1810.4,471.1 L1812.4,469.2 L1814.4,469.2 L1816.4,466.5 L1818.4,467.7 L1820.5,467.0 L1822.5,466.6 L1824.5,465.9 L1826.5,463.6 L1828.5,462.5 L1829.4,460.3 L1830.2,458.1 L1831.1,455.9 L1832.0,453.7 L1832.5,451.7 L1833.1,449.6 L1833.7,447.6 L1834.2,445.5 L1834.8,443.5 L1835.4,441.4 L1835.9,439.4 L1836.5,437.3 L1836.7,435.3 L1837.0,433.4 L1837.2,431.4 L1837.4,429.4 L1837.7,427.4 L1837.9,425.5 L1838.1,423.5 L1838.3,421.5 L1838.6,419.5 L1838.8,417.6 L1839.0,415.6 L1839.3,413.6 L1839.4,411.7 L1839.5,409.8 L1839.7,407.9 L1839.8,405.9 L1840.0,404.0 L1840.1,402.1 L1840.3,400.2 L1840.4,398.3 L1840.5,396.3 L1840.7,394.4 L1840.8,392.5 L1841.0,390.6 L1841.1,388.7 L1841.3,386.7 L1841.4,384.8 L1841.6,382.9 L1841.7,381.0 L1841.8,379.1 L1842.0,377.2 L1842.1,375.2 L1842.2,373.3 L1842.3,371.4 L1842.4,369.5 L1842.5,367.6 L1842.6,365.6 L1842.7,363.7 L1842.8,361.8 L1842.9,359.9 L1842.9,358.0 L1843.0,356.0 L1843.1,354.1 L1843.2,352.2 L1843.3,350.3 L1843.4,348.4 L1843.5,346.4 L1843.6,344.5 L1843.7,342.6 L1843.8,340.7 L1843.9,338.8 L1844.0,336.9 L1844.1,334.9 L1844.2,333.0 L1844.3,331.1 L1844.4,329.2 L1844.5,327.3 L1844.6,325.3 L1844.7,323.4 L1844.8,321.5 L1844.9,319.6 L1845.0,317.7 L1845.1,315.7 L1845.2,313.8 L1845.2,311.9 L1845.3,310.0 L1845.4,308.1 L1845.5,306.1 L1845.6,304.2 L1845.8,302.3 L1845.9,300.3 L1846.0,298.4 L1846.2,296.4 L1846.3,294.5 L1846.4,292.5 L1846.5,290.6 L1846.7,288.6 L1846.8,286.6 L1846.9,284.7 L1847.1,282.7 L1847.2,280.8 L1847.3,278.8 L1847.5,276.9 L1847.8,274.8 L1848.2,272.7 L1848.6,270.5 L1849.0,268.4 L1849.4,266.3 L1849.8,264.2 L1850.2,262.1 L1850.5,264.2 L1850.9,266.3 L1851.2,268.3 L1851.6,270.4 L1851.9,272.5 L1852.2,274.6 L1852.6,276.6 L1852.9,278.7 L1853.0,280.6 L1853.2,282.6 L1853.3,284.5 L1853.4,286.5 L1853.5,288.4 L1853.7,290.4 L1853.8,292.3 L1853.9,294.3 L1854.0,296.2 L1854.1,298.1 L1854.3,300.1 L1854.4,302.0 L1854.5,304.0 L1854.6,305.9 L1854.7,307.9 L1854.9,309.8 L1855.0,311.7 L1855.1,313.7 L1855.2,315.6 L1855.3,317.5 L1855.4,319.5 L1855.5,321.4 L1855.6,323.3 L1855.7,325.2 L1855.8,327.2 L1855.9,329.1 L1856.0,331.0 L1856.1,333.0 L1856.3,334.9 L1856.4,336.8 L1856.5,338.8 L1856.6,340.7 L1856.7,342.6 L1856.8,344.5 L1856.9,346.4 L1857.0,348.4 L1857.1,350.3 L1857.1,352.2 L1857.2,354.1 L1857.3,356.0 L1857.4,358.0 L1857.5,359.9 L1857.6,361.8 L1857.7,363.7 L1857.8,365.6 L1857.9,367.6 L1858.0,369.5 L1858.1,371.4 L1858.2,373.3 L1858.3,375.2 L1858.4,377.2 L1858.6,379.1 L1858.7,381.0 L1858.9,382.9 L1859.0,384.9 L1859.2,386.8 L1859.4,388.7 L1859.5,390.7 L1859.7,392.6 L1859.8,394.5 L1860.0,396.5 L1860.2,398.4 L1860.3,400.3 L1860.5,402.2 L1860.6,404.2 L1860.8,406.1 L1861.0,408.0 L1861.1,410.0 L1861.5,412.0 L1861.9,414.0 L1862.2,416.0 L1862.6,418.0 L1863.0,420.0 L1863.3,422.0 L1863.7,424.0 L1864.0,426.0 L1864.4,428.0 L1864.8,430.0 L1865.6,431.8 L1866.3,433.7 L1867.1,435.5 L1867.9,437.3 L1868.7,439.1 L1869.5,441.0 L1870.2,442.8 L1870.9,444.6 L1871.5,446.4 L1872.2,448.3 L1872.9,450.1 L1873.5,451.9 L1874.2,453.7 L1874.8,454.9 L1876.1,458.2 L1877.4,459.4 L1878.6,461.6 L1879.9,462.8 L1881.2,464.5 L1882.6,467.4 L1883.9,469.2 L1885.3,470.6 L1886.7,472.3 L1888.2,471.4 L1889.8,468.9 L1891.4,467.5 L1893.0,466.5 L1894.1,464.7 L1895.2,462.8 L1896.2,461.0 L1897.3,459.2 L1898.4,457.4 L1899.4,455.5 L1899.9,453.5 L1900.5,451.4 L1901.0,449.3 L1901.5,447.2 L1902.0,445.1 L1902.5,443.0 L1903.1,441.0 L1903.4,438.9 L1903.7,436.9 L1904.1,434.8 L1904.4,432.8 L1904.8,430.7 L1905.1,428.7 L1905.5,426.6 L1905.8,424.6 L1906.1,422.5 L1906.4,420.5 L1906.7,418.5 L1907.0,416.5 L1907.3,414.4 L1907.6,412.4 L1907.9,410.4 L1908.2,408.3 L1908.5,406.3 L1908.9,404.2 L1909.3,402.2 L1909.7,400.1 L1910.1,398.0 L1910.5,395.9 L1910.9,393.8 L1911.3,390.9 L1912.9,389.4 L1914.5,387.2 L1915.6,389.3 L1916.6,391.4 L1917.6,393.6 L1917.9,395.6 L1918.1,397.6 L1918.4,399.6 L1918.6,401.6 L1918.8,403.6 L1919.1,405.6 L1919.3,407.6 L1919.5,409.6 L1919.8,411.6 L1920.0,413.6 L1920.2,415.6 L1920.4,417.6 L1920.6,419.5 L1920.7,421.5 L1920.9,423.5 L1921.1,425.5 L1921.3,427.4 L1921.5,429.4 L1921.7,431.4 L1921.8,433.4 L1922.0,435.3 L1922.2,437.3 L1922.4,439.3 L1922.6,441.4 L1922.8,443.4 L1923.0,445.4 L1923.2,447.4 L1923.4,449.5 L1923.6,451.5 L1923.8,453.5 L1924.0,455.5 L1924.3,457.5 L1924.6,459.5 L1924.8,461.4 L1925.1,463.4 L1925.3,465.3 L1925.6,467.3 L1925.9,469.2" fill="none" stroke="#35aa6b" stroke-width="7.0" stroke-linejoin="round" stroke-linecap="butt" shape-rendering="crispEdges"/>
<g stroke="#000" stroke-width="4.0" fill="none" stroke-linecap="butt" shape-rendering="crispEdges">
<rect x="319.0" y="34.0" width="1635.0" height="1208.0"/>
<path d="M295,1181.45H319.0M295,1060.69H319.0M295,939.93H319.0M295,819.17H319.0M295,698.41H319.0M295,577.65H319.0M295,456.89H319.0M295,336.13H319.0M295,215.37H319.0M295,94.61H319.0M307,1242.00H319.0M307,1121.07H319.0M307,1000.31H319.0M307,879.55H319.0M307,758.79H319.0M307,638.03H319.0M307,517.27H319.0M307,396.51H319.0M307,275.75H319.0M307,154.99H319.0M307,34.00H319.0M319.20,1242.0V1266M511.55,1242.0V1266M703.90,1242.0V1266M896.25,1242.0V1266M1088.60,1242.0V1266M1280.95,1242.0V1266M1473.30,1242.0V1266M1665.65,1242.0V1266M1858.00,1242.0V1266M415.38,1242.0V1254M607.72,1242.0V1254M800.08,1242.0V1254M992.42,1242.0V1254M1184.78,1242.0V1254M1377.12,1242.0V1254M1569.48,1242.0V1254M1761.83,1242.0V1254M1954.17,1242.0V1254"/>
</g>
<g stroke="#000" stroke-dasharray="15.9 12.99" fill="none" shape-rendering="crispEdges">
<line x1="836.0" y1="184.9" x2="836.0" y2="1234.6" stroke-width="4.3"/>
<line x1="1163.5" y1="173.0" x2="1163.5" y2="1222.7" stroke-width="5"/>
<line x1="1489.9" y1="64.3" x2="1489.9" y2="1196.7" stroke-width="4.2"/>
<line x1="1848.0" y1="212.0" x2="1848.0" y2="1203.9" stroke-width="4"/>
<line x1="1915.0" y1="217.0" x2="1915.0" y2="1209.9" stroke-width="4"/>
</g>
<text class="sans" transform="translate(0,1205.55) scale(0.924,1.045)" font-size="60.7" x="267.31">0</text>
<text class="sans" transform="translate(0,1084.79) scale(0.924,1.045)" font-size="60.7" x="199.79 233.55 267.31">500</text>
<text class="sans" transform="translate(0,964.03) scale(0.924,1.045)" font-size="60.7" x="133.36 166.84 199.79 233.55 267.31">1,000</text>
<text class="sans" transform="translate(0,843.27) scale(0.924,1.045)" font-size="60.7" x="133.36 166.84 199.79 233.55 267.31">1,500</text>
<text class="sans" transform="translate(0,722.51) scale(0.924,1.045)" font-size="60.7" x="132.49 166.84 199.79 233.55 267.31">2,000</text>
<text class="sans" transform="translate(0,601.75) scale(0.924,1.045)" font-size="60.7" x="132.49 166.84 199.79 233.55 267.31">2,500</text>
<text class="sans" transform="translate(0,480.99) scale(0.924,1.045)" font-size="60.7" x="132.49 166.84 199.79 233.55 267.31">3,000</text>
<text class="sans" transform="translate(0,360.23) scale(0.924,1.045)" font-size="60.7" x="132.49 166.84 199.79 233.55 267.31">3,500</text>
<text class="sans" transform="translate(0,239.47) scale(0.924,1.045)" font-size="60.7" x="132.49 166.84 199.79 233.55 267.31">4,000</text>
<text class="sans" transform="translate(0,118.71) scale(0.924,1.045)" font-size="60.7" x="132.49 166.84 199.79 233.55 267.31">4,500</text>
<text class="sans" transform="translate(0,1333.30) scale(0.924,1.02)" font-size="60.7" x="294.28 328.03 361.79">800</text>
<text class="sans" transform="translate(0,1333.30) scale(0.924,1.02)" font-size="60.7" x="502.45 536.21 569.96">900</text>
<text class="sans" transform="translate(0,1333.30) scale(0.924,1.02)" font-size="60.7" x="694.82 727.50 761.26 795.01">1000</text>
<text class="sans" transform="translate(0,1333.30) scale(0.924,1.02)" font-size="60.7" x="902.99 935.67 969.43 1003.18">1100</text>
<text class="sans" transform="translate(0,1333.30) scale(0.924,1.02)" font-size="60.7" x="1111.16 1143.84 1177.60 1211.36">1200</text>
<text class="sans" transform="translate(0,1333.30) scale(0.924,1.02)" font-size="60.7" x="1319.33 1352.01 1385.77 1419.53">1300</text>
<text class="sans" transform="translate(0,1333.30) scale(0.924,1.02)" font-size="60.7" x="1527.51 1560.18 1593.94 1627.70">1400</text>
<text class="sans" transform="translate(0,1333.30) scale(0.924,1.02)" font-size="60.7" x="1735.68 1768.35 1802.11 1835.87">1500</text>
<text class="sans" transform="translate(0,1333.30) scale(0.924,1.02)" font-size="60.7" x="1943.85 1976.52 2010.28 2044.04">1600</text>
<path d="M126.03,958.29H137.03V965.23H126.03ZM142.58,958.29H152.95V965.23H142.58ZM126.03,837.53H137.03V844.47H126.03ZM142.58,837.53H152.95V844.47H142.58ZM644.82,1327.68H655.82V1334.50H644.82ZM661.37,1327.68H671.74V1334.50H661.37ZM837.17,1327.68H848.17V1334.50H837.17ZM853.72,1327.68H864.09V1334.50H853.72ZM1029.52,1327.68H1040.52V1334.50H1029.52ZM1046.07,1327.68H1056.44V1334.50H1046.07ZM1221.87,1327.68H1232.87V1334.50H1221.87ZM1238.42,1327.68H1248.79V1334.50H1238.42ZM1414.22,1327.68H1425.22V1334.50H1414.22ZM1430.77,1327.68H1441.14V1334.50H1430.77ZM1606.57,1327.68H1617.57V1334.50H1606.57ZM1623.12,1327.68H1633.49V1334.50H1623.12ZM1798.92,1327.68H1809.92V1334.50H1798.92ZM1815.47,1327.68H1825.84V1334.50H1815.47Z" fill="#fff"/>
<text class="serif" transform="translate(797.46,161.30) scale(0.968,1.04)" font-size="47.4" text-anchor="start" >1068</text>
<text class="serif" transform="translate(1110.66,144.30) scale(0.968,1.04)" font-size="47.4" text-anchor="start" >1240</text>
<text class="serif" transform="translate(1496.96,92.40) scale(0.968,1.04)" font-size="47.4" text-anchor="start" >1408</text>
<text class="serif" transform="translate(1772.16,171.00) scale(0.968,1.04)" font-size="47.4" text-anchor="start" >1596</text>
<text class="serif" transform="translate(1850.46,112.00) scale(0.968,1.04)" font-size="47.4" text-anchor="start" >1630</text>
<text class="serif" x="874.94" y="1436.5" font-size="68.2">Raman Shift (cm<tspan font-size="43" dy="-28.3">-1</tspan><tspan dy="28.3">)</tspan></text>
<text class="serif" transform="translate(68.1,943.37) rotate(-90)" font-size="68.4">Raman Intensity (a.u.)</text>
<line x1="518.5" y1="146.9" x2="518.5" y2="402" stroke="#000" stroke-width="7" shape-rendering="crispEdges"/>
<polygon points="511.6,402.5 524.6,402.5 524.5,405.5 518.1,431.4 511.7,405.5" fill="#000" stroke="#000" stroke-width="7" stroke-linejoin="round" shape-rendering="crispEdges"/>
<text class="sans" transform="translate(569.61,205.30) scale(0.93,1.0)" font-size="69.3" text-anchor="start" font-weight="bold">a</text>
<text class="sans" transform="translate(565.19,393.80) scale(0.99,1.06)" font-size="69.3" text-anchor="start" font-weight="bold">d</text>
</svg></body></html>
